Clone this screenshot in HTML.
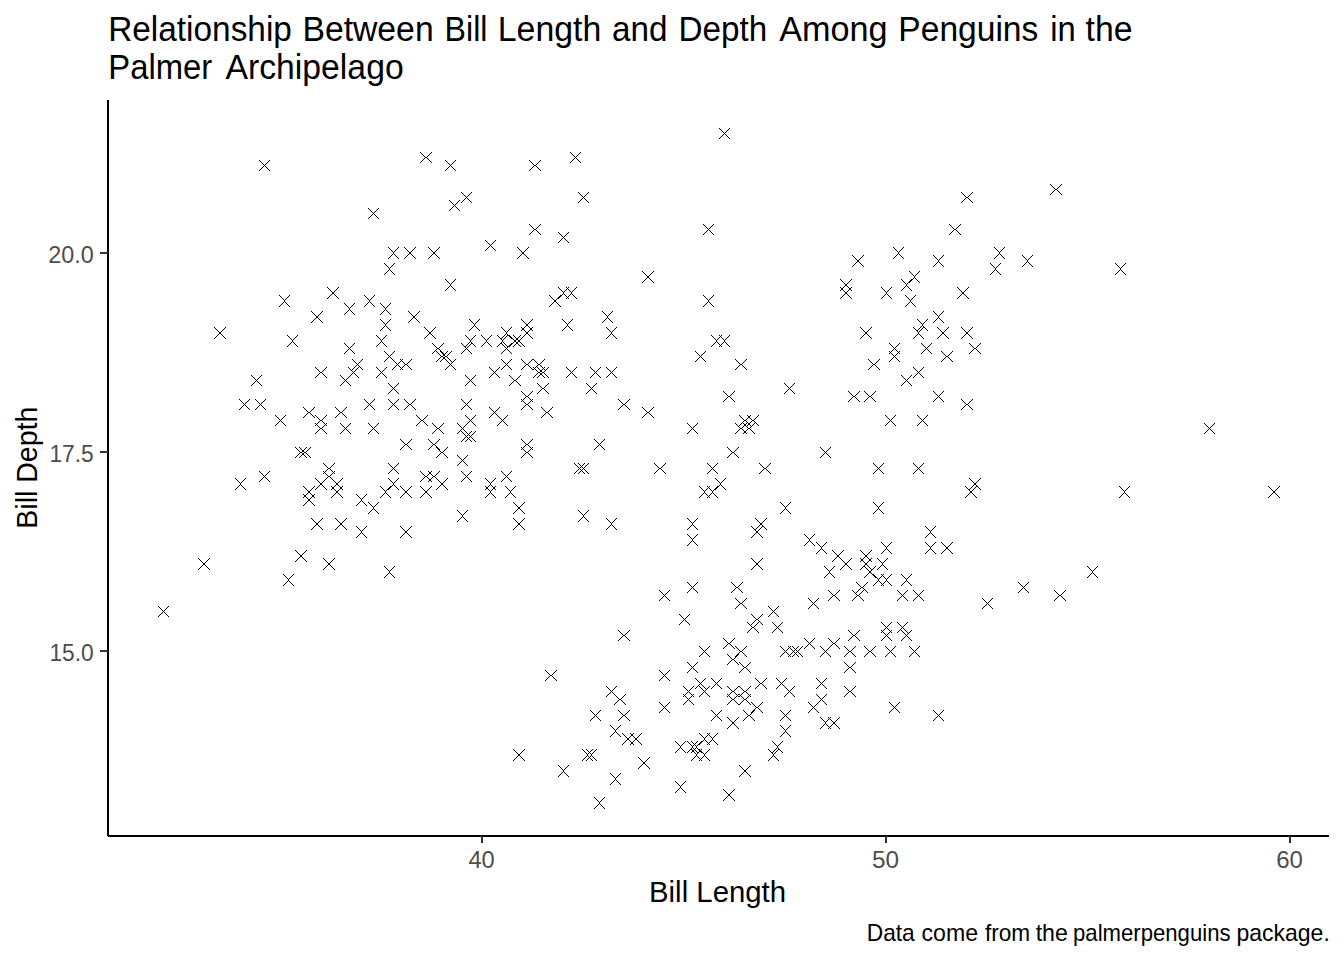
<!DOCTYPE html>
<html><head><meta charset="utf-8"><title>Penguins</title>
<style>
html,body{margin:0;padding:0;background:#fff;}
body{width:1344px;height:960px;overflow:hidden;font-family:"Liberation Sans",sans-serif;}
svg{display:block;position:absolute;left:0;top:0;}
text{font-family:"Liberation Sans",sans-serif;}
</style></head><body>
<svg width="1344" height="960" viewBox="0 0 1344 960">
<rect x="0" y="0" width="1344" height="960" fill="#fff"/>
<text x="108.19" y="41" font-size="34.67" fill="#000" textLength="183.69" lengthAdjust="spacingAndGlyphs">Relationship</text>
<text x="302.41" y="41" font-size="34.67" fill="#000" textLength="131.23" lengthAdjust="spacingAndGlyphs">Between</text>
<text x="444.62" y="41" font-size="34.67" fill="#000" textLength="42.78" lengthAdjust="spacingAndGlyphs">Bill</text>
<text x="497.76" y="41" font-size="34.67" fill="#000" textLength="103.47" lengthAdjust="spacingAndGlyphs">Length</text>
<text x="611.99" y="41" font-size="34.67" fill="#000" textLength="55.47" lengthAdjust="spacingAndGlyphs">and</text>
<text x="678.56" y="41" font-size="34.67" fill="#000" textLength="88.72" lengthAdjust="spacingAndGlyphs">Depth</text>
<text x="779.13" y="41" font-size="34.67" fill="#000" textLength="108.47" lengthAdjust="spacingAndGlyphs">Among</text>
<text x="898.34" y="41" font-size="34.67" fill="#000" textLength="139.98" lengthAdjust="spacingAndGlyphs">Penguins</text>
<text x="1050.14" y="41" font-size="34.67" fill="#000" textLength="25.52" lengthAdjust="spacingAndGlyphs">in</text>
<text x="1085.57" y="41" font-size="34.67" fill="#000" textLength="47.01" lengthAdjust="spacingAndGlyphs">the</text>
<text x="108.3" y="79" font-size="34.67" fill="#000" textLength="103.93" lengthAdjust="spacingAndGlyphs">Palmer</text>
<text x="225.43" y="79" font-size="34.67" fill="#000" textLength="178.27" lengthAdjust="spacingAndGlyphs">Archipelago</text>
<g shape-rendering="crispEdges">
<!-- axis lines -->
<rect x="107" y="100" width="2" height="736" fill="#000"/>
<rect x="108" y="835" width="1221" height="2" fill="#000"/>
<!-- x ticks -->
<rect x="481" y="836" width="2" height="7" fill="#333"/>
<rect x="885" y="836" width="2" height="7" fill="#333"/>
<rect x="1289" y="836" width="2" height="7" fill="#333"/>
<!-- y ticks -->
<rect x="100" y="252" width="8" height="2" fill="#333"/>
<rect x="100" y="451" width="8" height="2" fill="#333"/>
<rect x="100" y="650" width="8" height="2" fill="#333"/>
</g>
<text x="866.78" y="941" font-size="24.0" fill="#000" textLength="47.96" lengthAdjust="spacingAndGlyphs">Data</text>
<text x="921.54" y="941" font-size="24.0" fill="#000" textLength="56.53" lengthAdjust="spacingAndGlyphs">come</text>
<text x="984.88" y="941" font-size="24.0" fill="#000" textLength="45.3" lengthAdjust="spacingAndGlyphs">from</text>
<text x="1035.7" y="941" font-size="24.0" fill="#000" textLength="32.21" lengthAdjust="spacingAndGlyphs">the</text>
<text x="1073.06" y="941" font-size="24.0" fill="#000" textLength="157.48" lengthAdjust="spacingAndGlyphs">palmerpenguins</text>
<text x="1236.46" y="941" font-size="24.0" fill="#000" textLength="93.35" lengthAdjust="spacingAndGlyphs">package.</text>
<text x="48.26" y="263" font-size="24.0" fill="#4d4d4d" textLength="45.47" lengthAdjust="spacingAndGlyphs">20.0</text>
<text x="49.42" y="462" font-size="24.0" fill="#4d4d4d" textLength="44.24" lengthAdjust="spacingAndGlyphs">17.5</text>
<text x="49.45" y="661" font-size="24.0" fill="#4d4d4d" textLength="44.2" lengthAdjust="spacingAndGlyphs">15.0</text>
<text x="468.46" y="868" font-size="24.0" fill="#4d4d4d" textLength="26.3" lengthAdjust="spacingAndGlyphs">40</text>
<text x="871.97" y="868" font-size="24.0" fill="#4d4d4d" textLength="27.02" lengthAdjust="spacingAndGlyphs">50</text>
<text x="1276.16" y="868" font-size="24.0" fill="#4d4d4d" textLength="26.76" lengthAdjust="spacingAndGlyphs">60</text>
<text x="649.02" y="902" font-size="29.33" fill="#000" textLength="137.1" lengthAdjust="spacingAndGlyphs">Bill Length</text>
<text transform="translate(37.0,467.7) rotate(-90)" x="-61.0" y="0" font-size="29.33" fill="#000" textLength="122.0" lengthAdjust="spacingAndGlyphs">Bill Depth</text>
<path fill="#000" shape-rendering="crispEdges" d="M719 128h1v1h-1zM729 128h1v1h-1zM720 129h1v1h-1zM728 129h1v1h-1zM721 130h1v1h-1zM727 130h1v1h-1zM722 131h1v1h-1zM726 131h1v1h-1zM723 132h1v1h-1zM725 132h1v1h-1zM724 133h1v1h-1zM723 134h1v1h-1zM725 134h1v1h-1zM722 135h1v1h-1zM726 135h1v1h-1zM721 136h1v1h-1zM727 136h1v1h-1zM720 137h1v1h-1zM728 137h1v1h-1zM719 138h1v1h-1zM729 138h1v1h-1zM420 152h1v1h-1zM431 152h1v1h-1zM570 152h1v1h-1zM580 152h1v1h-1zM421 153h1v1h-1zM430 153h1v1h-1zM571 153h1v1h-1zM579 153h1v1h-1zM422 154h1v1h-1zM429 154h1v1h-1zM572 154h1v1h-1zM578 154h1v1h-1zM423 155h1v1h-1zM428 155h1v1h-1zM573 155h1v1h-1zM577 155h1v1h-1zM424 156h1v1h-1zM427 156h1v1h-1zM574 156h1v1h-1zM576 156h1v1h-1zM425 157h2v1h-2zM575 157h1v1h-1zM424 158h1v1h-1zM427 158h1v1h-1zM574 158h1v1h-1zM576 158h1v1h-1zM423 159h1v1h-1zM428 159h1v1h-1zM573 159h1v1h-1zM577 159h1v1h-1zM259 160h1v1h-1zM269 160h1v1h-1zM422 160h1v1h-1zM429 160h1v1h-1zM445 160h1v1h-1zM455 160h1v1h-1zM529 160h1v1h-1zM540 160h1v1h-1zM572 160h1v1h-1zM578 160h1v1h-1zM260 161h1v1h-1zM268 161h1v1h-1zM421 161h1v1h-1zM430 161h1v1h-1zM446 161h1v1h-1zM454 161h1v1h-1zM530 161h1v1h-1zM539 161h1v1h-1zM571 161h1v1h-1zM579 161h1v1h-1zM261 162h1v1h-1zM267 162h1v1h-1zM420 162h1v1h-1zM431 162h1v1h-1zM447 162h1v1h-1zM453 162h1v1h-1zM531 162h1v1h-1zM538 162h1v1h-1zM570 162h1v1h-1zM580 162h1v1h-1zM262 163h1v1h-1zM266 163h1v1h-1zM448 163h1v1h-1zM452 163h1v1h-1zM532 163h1v1h-1zM537 163h1v1h-1zM263 164h1v1h-1zM265 164h1v1h-1zM449 164h1v1h-1zM451 164h1v1h-1zM533 164h1v1h-1zM536 164h1v1h-1zM264 165h1v1h-1zM450 165h1v1h-1zM534 165h2v1h-2zM263 166h1v1h-1zM265 166h1v1h-1zM449 166h1v1h-1zM451 166h1v1h-1zM533 166h1v1h-1zM536 166h1v1h-1zM262 167h1v1h-1zM266 167h1v1h-1zM448 167h1v1h-1zM452 167h1v1h-1zM532 167h1v1h-1zM537 167h1v1h-1zM261 168h1v1h-1zM267 168h1v1h-1zM447 168h1v1h-1zM453 168h1v1h-1zM531 168h1v1h-1zM538 168h1v1h-1zM260 169h1v1h-1zM268 169h1v1h-1zM446 169h1v1h-1zM454 169h1v1h-1zM530 169h1v1h-1zM539 169h1v1h-1zM259 170h1v1h-1zM269 170h1v1h-1zM445 170h1v1h-1zM455 170h1v1h-1zM529 170h1v1h-1zM540 170h1v1h-1zM1050 184h1v1h-1zM1061 184h1v1h-1zM1051 185h1v1h-1zM1060 185h1v1h-1zM1052 186h1v1h-1zM1059 186h1v1h-1zM1053 187h1v1h-1zM1058 187h1v1h-1zM1054 188h1v1h-1zM1057 188h1v1h-1zM1055 189h2v1h-2zM1054 190h1v1h-1zM1057 190h1v1h-1zM1053 191h1v1h-1zM1058 191h1v1h-1zM461 192h1v1h-1zM471 192h1v1h-1zM578 192h1v1h-1zM588 192h1v1h-1zM961 192h1v1h-1zM972 192h1v1h-1zM1052 192h1v1h-1zM1059 192h1v1h-1zM462 193h1v1h-1zM470 193h1v1h-1zM579 193h1v1h-1zM587 193h1v1h-1zM962 193h1v1h-1zM971 193h1v1h-1zM1051 193h1v1h-1zM1060 193h1v1h-1zM463 194h1v1h-1zM469 194h1v1h-1zM580 194h1v1h-1zM586 194h1v1h-1zM963 194h1v1h-1zM970 194h1v1h-1zM1050 194h1v1h-1zM1061 194h1v1h-1zM464 195h1v1h-1zM468 195h1v1h-1zM581 195h1v1h-1zM585 195h1v1h-1zM964 195h1v1h-1zM969 195h1v1h-1zM465 196h1v1h-1zM467 196h1v1h-1zM582 196h1v1h-1zM584 196h1v1h-1zM965 196h1v1h-1zM968 196h1v1h-1zM466 197h1v1h-1zM583 197h1v1h-1zM966 197h2v1h-2zM465 198h1v1h-1zM467 198h1v1h-1zM582 198h1v1h-1zM584 198h1v1h-1zM965 198h1v1h-1zM968 198h1v1h-1zM464 199h1v1h-1zM468 199h1v1h-1zM581 199h1v1h-1zM585 199h1v1h-1zM964 199h1v1h-1zM969 199h1v1h-1zM449 200h1v1h-1zM459 200h1v1h-1zM463 200h1v1h-1zM469 200h1v1h-1zM580 200h1v1h-1zM586 200h1v1h-1zM963 200h1v1h-1zM970 200h1v1h-1zM450 201h1v1h-1zM458 201h1v1h-1zM462 201h1v1h-1zM470 201h1v1h-1zM579 201h1v1h-1zM587 201h1v1h-1zM962 201h1v1h-1zM971 201h1v1h-1zM451 202h1v1h-1zM457 202h1v1h-1zM461 202h1v1h-1zM471 202h1v1h-1zM578 202h1v1h-1zM588 202h1v1h-1zM961 202h1v1h-1zM972 202h1v1h-1zM452 203h1v1h-1zM456 203h1v1h-1zM453 204h1v1h-1zM455 204h1v1h-1zM454 205h1v1h-1zM453 206h1v1h-1zM455 206h1v1h-1zM452 207h1v1h-1zM456 207h1v1h-1zM368 208h1v1h-1zM378 208h1v1h-1zM451 208h1v1h-1zM457 208h1v1h-1zM369 209h1v1h-1zM377 209h1v1h-1zM450 209h1v1h-1zM458 209h1v1h-1zM370 210h1v1h-1zM376 210h1v1h-1zM449 210h1v1h-1zM459 210h1v1h-1zM371 211h1v1h-1zM375 211h1v1h-1zM372 212h1v1h-1zM374 212h1v1h-1zM373 213h1v1h-1zM372 214h1v1h-1zM374 214h1v1h-1zM371 215h1v1h-1zM375 215h1v1h-1zM370 216h1v1h-1zM376 216h1v1h-1zM369 217h1v1h-1zM377 217h1v1h-1zM368 218h1v1h-1zM378 218h1v1h-1zM529 224h1v1h-1zM540 224h1v1h-1zM703 224h1v1h-1zM713 224h1v1h-1zM949 224h1v1h-1zM960 224h1v1h-1zM530 225h1v1h-1zM539 225h1v1h-1zM704 225h1v1h-1zM712 225h1v1h-1zM950 225h1v1h-1zM959 225h1v1h-1zM531 226h1v1h-1zM538 226h1v1h-1zM705 226h1v1h-1zM711 226h1v1h-1zM951 226h1v1h-1zM958 226h1v1h-1zM532 227h1v1h-1zM537 227h1v1h-1zM706 227h1v1h-1zM710 227h1v1h-1zM952 227h1v1h-1zM957 227h1v1h-1zM533 228h1v1h-1zM536 228h1v1h-1zM707 228h1v1h-1zM709 228h1v1h-1zM953 228h1v1h-1zM956 228h1v1h-1zM534 229h2v1h-2zM708 229h1v1h-1zM954 229h2v1h-2zM533 230h1v1h-1zM536 230h1v1h-1zM707 230h1v1h-1zM709 230h1v1h-1zM953 230h1v1h-1zM956 230h1v1h-1zM532 231h1v1h-1zM537 231h1v1h-1zM706 231h1v1h-1zM710 231h1v1h-1zM952 231h1v1h-1zM957 231h1v1h-1zM531 232h1v1h-1zM538 232h1v1h-1zM558 232h1v1h-1zM568 232h1v1h-1zM705 232h1v1h-1zM711 232h1v1h-1zM951 232h1v1h-1zM958 232h1v1h-1zM530 233h1v1h-1zM539 233h1v1h-1zM559 233h1v1h-1zM567 233h1v1h-1zM704 233h1v1h-1zM712 233h1v1h-1zM950 233h1v1h-1zM959 233h1v1h-1zM529 234h1v1h-1zM540 234h1v1h-1zM560 234h1v1h-1zM566 234h1v1h-1zM703 234h1v1h-1zM713 234h1v1h-1zM949 234h1v1h-1zM960 234h1v1h-1zM561 235h1v1h-1zM565 235h1v1h-1zM562 236h1v1h-1zM564 236h1v1h-1zM563 237h1v1h-1zM562 238h1v1h-1zM564 238h1v1h-1zM561 239h1v1h-1zM565 239h1v1h-1zM485 240h1v1h-1zM495 240h1v1h-1zM560 240h1v1h-1zM566 240h1v1h-1zM486 241h1v1h-1zM494 241h1v1h-1zM559 241h1v1h-1zM567 241h1v1h-1zM487 242h1v1h-1zM493 242h1v1h-1zM558 242h1v1h-1zM568 242h1v1h-1zM488 243h1v1h-1zM492 243h1v1h-1zM489 244h1v1h-1zM491 244h1v1h-1zM490 245h1v1h-1zM489 246h1v1h-1zM491 246h1v1h-1zM388 247h1v1h-1zM398 247h1v1h-1zM404 247h1v1h-1zM415 247h1v1h-1zM428 247h1v1h-1zM439 247h1v1h-1zM488 247h1v1h-1zM492 247h1v1h-1zM517 247h1v1h-1zM528 247h1v1h-1zM893 247h1v1h-1zM903 247h1v1h-1zM994 247h1v1h-1zM1004 247h1v1h-1zM389 248h1v1h-1zM397 248h1v1h-1zM405 248h1v1h-1zM414 248h1v1h-1zM429 248h1v1h-1zM438 248h1v1h-1zM487 248h1v1h-1zM493 248h1v1h-1zM518 248h1v1h-1zM527 248h1v1h-1zM894 248h1v1h-1zM902 248h1v1h-1zM995 248h1v1h-1zM1003 248h1v1h-1zM390 249h1v1h-1zM396 249h1v1h-1zM406 249h1v1h-1zM413 249h1v1h-1zM430 249h1v1h-1zM437 249h1v1h-1zM486 249h1v1h-1zM494 249h1v1h-1zM519 249h1v1h-1zM526 249h1v1h-1zM895 249h1v1h-1zM901 249h1v1h-1zM996 249h1v1h-1zM1002 249h1v1h-1zM391 250h1v1h-1zM395 250h1v1h-1zM407 250h1v1h-1zM412 250h1v1h-1zM431 250h1v1h-1zM436 250h1v1h-1zM485 250h1v1h-1zM495 250h1v1h-1zM520 250h1v1h-1zM525 250h1v1h-1zM896 250h1v1h-1zM900 250h1v1h-1zM997 250h1v1h-1zM1001 250h1v1h-1zM392 251h1v1h-1zM394 251h1v1h-1zM408 251h1v1h-1zM411 251h1v1h-1zM432 251h1v1h-1zM435 251h1v1h-1zM521 251h1v1h-1zM524 251h1v1h-1zM897 251h1v1h-1zM899 251h1v1h-1zM998 251h1v1h-1zM1000 251h1v1h-1zM393 252h1v1h-1zM409 252h2v1h-2zM433 252h2v1h-2zM522 252h2v1h-2zM898 252h1v1h-1zM999 252h1v1h-1zM393 253h1v1h-1zM409 253h2v1h-2zM433 253h2v1h-2zM522 253h2v1h-2zM898 253h1v1h-1zM999 253h1v1h-1zM392 254h1v1h-1zM394 254h1v1h-1zM408 254h1v1h-1zM411 254h1v1h-1zM432 254h1v1h-1zM435 254h1v1h-1zM521 254h1v1h-1zM524 254h1v1h-1zM897 254h1v1h-1zM899 254h1v1h-1zM998 254h1v1h-1zM1000 254h1v1h-1zM391 255h1v1h-1zM395 255h1v1h-1zM407 255h1v1h-1zM412 255h1v1h-1zM431 255h1v1h-1zM436 255h1v1h-1zM520 255h1v1h-1zM525 255h1v1h-1zM852 255h1v1h-1zM863 255h1v1h-1zM896 255h1v1h-1zM900 255h1v1h-1zM933 255h1v1h-1zM943 255h1v1h-1zM997 255h1v1h-1zM1001 255h1v1h-1zM1022 255h1v1h-1zM1032 255h1v1h-1zM390 256h1v1h-1zM396 256h1v1h-1zM406 256h1v1h-1zM413 256h1v1h-1zM430 256h1v1h-1zM437 256h1v1h-1zM519 256h1v1h-1zM526 256h1v1h-1zM853 256h1v1h-1zM862 256h1v1h-1zM895 256h1v1h-1zM901 256h1v1h-1zM934 256h1v1h-1zM942 256h1v1h-1zM996 256h1v1h-1zM1002 256h1v1h-1zM1023 256h1v1h-1zM1031 256h1v1h-1zM389 257h1v1h-1zM397 257h1v1h-1zM405 257h1v1h-1zM414 257h1v1h-1zM429 257h1v1h-1zM438 257h1v1h-1zM518 257h1v1h-1zM527 257h1v1h-1zM854 257h1v1h-1zM861 257h1v1h-1zM894 257h1v1h-1zM902 257h1v1h-1zM935 257h1v1h-1zM941 257h1v1h-1zM995 257h1v1h-1zM1003 257h1v1h-1zM1024 257h1v1h-1zM1030 257h1v1h-1zM388 258h1v1h-1zM398 258h1v1h-1zM404 258h1v1h-1zM415 258h1v1h-1zM428 258h1v1h-1zM439 258h1v1h-1zM517 258h1v1h-1zM528 258h1v1h-1zM855 258h1v1h-1zM860 258h1v1h-1zM893 258h1v1h-1zM903 258h1v1h-1zM936 258h1v1h-1zM940 258h1v1h-1zM994 258h1v1h-1zM1004 258h1v1h-1zM1025 258h1v1h-1zM1029 258h1v1h-1zM856 259h1v1h-1zM859 259h1v1h-1zM937 259h1v1h-1zM939 259h1v1h-1zM1026 259h1v1h-1zM1028 259h1v1h-1zM857 260h2v1h-2zM938 260h1v1h-1zM1027 260h1v1h-1zM857 261h2v1h-2zM938 261h1v1h-1zM1027 261h1v1h-1zM856 262h1v1h-1zM859 262h1v1h-1zM937 262h1v1h-1zM939 262h1v1h-1zM1026 262h1v1h-1zM1028 262h1v1h-1zM384 263h1v1h-1zM394 263h1v1h-1zM855 263h1v1h-1zM860 263h1v1h-1zM936 263h1v1h-1zM940 263h1v1h-1zM990 263h1v1h-1zM1000 263h1v1h-1zM1025 263h1v1h-1zM1029 263h1v1h-1zM1115 263h1v1h-1zM1125 263h1v1h-1zM385 264h1v1h-1zM393 264h1v1h-1zM854 264h1v1h-1zM861 264h1v1h-1zM935 264h1v1h-1zM941 264h1v1h-1zM991 264h1v1h-1zM999 264h1v1h-1zM1024 264h1v1h-1zM1030 264h1v1h-1zM1116 264h1v1h-1zM1124 264h1v1h-1zM386 265h1v1h-1zM392 265h1v1h-1zM853 265h1v1h-1zM862 265h1v1h-1zM934 265h1v1h-1zM942 265h1v1h-1zM992 265h1v1h-1zM998 265h1v1h-1zM1023 265h1v1h-1zM1031 265h1v1h-1zM1117 265h1v1h-1zM1123 265h1v1h-1zM387 266h1v1h-1zM391 266h1v1h-1zM852 266h1v1h-1zM863 266h1v1h-1zM933 266h1v1h-1zM943 266h1v1h-1zM993 266h1v1h-1zM997 266h1v1h-1zM1022 266h1v1h-1zM1032 266h1v1h-1zM1118 266h1v1h-1zM1122 266h1v1h-1zM388 267h1v1h-1zM390 267h1v1h-1zM994 267h1v1h-1zM996 267h1v1h-1zM1119 267h1v1h-1zM1121 267h1v1h-1zM389 268h1v1h-1zM995 268h1v1h-1zM1120 268h1v1h-1zM389 269h1v1h-1zM995 269h1v1h-1zM1120 269h1v1h-1zM388 270h1v1h-1zM390 270h1v1h-1zM994 270h1v1h-1zM996 270h1v1h-1zM1119 270h1v1h-1zM1121 270h1v1h-1zM387 271h1v1h-1zM391 271h1v1h-1zM642 271h1v1h-1zM653 271h1v1h-1zM909 271h1v1h-1zM919 271h1v1h-1zM993 271h1v1h-1zM997 271h1v1h-1zM1118 271h1v1h-1zM1122 271h1v1h-1zM386 272h1v1h-1zM392 272h1v1h-1zM643 272h1v1h-1zM652 272h1v1h-1zM910 272h1v1h-1zM918 272h1v1h-1zM992 272h1v1h-1zM998 272h1v1h-1zM1117 272h1v1h-1zM1123 272h1v1h-1zM385 273h1v1h-1zM393 273h1v1h-1zM644 273h1v1h-1zM651 273h1v1h-1zM911 273h1v1h-1zM917 273h1v1h-1zM991 273h1v1h-1zM999 273h1v1h-1zM1116 273h1v1h-1zM1124 273h1v1h-1zM384 274h1v1h-1zM394 274h1v1h-1zM645 274h1v1h-1zM650 274h1v1h-1zM912 274h1v1h-1zM916 274h1v1h-1zM990 274h1v1h-1zM1000 274h1v1h-1zM1115 274h1v1h-1zM1125 274h1v1h-1zM646 275h1v1h-1zM649 275h1v1h-1zM913 275h1v1h-1zM915 275h1v1h-1zM647 276h2v1h-2zM914 276h1v1h-1zM647 277h2v1h-2zM914 277h1v1h-1zM646 278h1v1h-1zM649 278h1v1h-1zM913 278h1v1h-1zM915 278h1v1h-1zM445 279h1v1h-1zM455 279h1v1h-1zM645 279h1v1h-1zM650 279h1v1h-1zM840 279h1v1h-1zM851 279h1v1h-1zM901 279h1v1h-1zM911 279h2v1h-2zM916 279h1v1h-1zM446 280h1v1h-1zM454 280h1v1h-1zM644 280h1v1h-1zM651 280h1v1h-1zM841 280h1v1h-1zM850 280h1v1h-1zM902 280h1v1h-1zM910 280h2v1h-2zM917 280h1v1h-1zM447 281h1v1h-1zM453 281h1v1h-1zM643 281h1v1h-1zM652 281h1v1h-1zM842 281h1v1h-1zM849 281h1v1h-1zM903 281h1v1h-1zM909 281h2v1h-2zM918 281h1v1h-1zM448 282h1v1h-1zM452 282h1v1h-1zM642 282h1v1h-1zM653 282h1v1h-1zM843 282h1v1h-1zM848 282h1v1h-1zM904 282h1v1h-1zM908 282h2v1h-2zM919 282h1v1h-1zM449 283h1v1h-1zM451 283h1v1h-1zM844 283h1v1h-1zM847 283h1v1h-1zM905 283h1v1h-1zM907 283h1v1h-1zM450 284h1v1h-1zM845 284h2v1h-2zM906 284h1v1h-1zM450 285h1v1h-1zM845 285h2v1h-2zM906 285h1v1h-1zM449 286h1v1h-1zM451 286h1v1h-1zM844 286h1v1h-1zM847 286h1v1h-1zM905 286h1v1h-1zM907 286h1v1h-1zM327 287h1v1h-1zM338 287h1v1h-1zM448 287h1v1h-1zM452 287h1v1h-1zM558 287h1v1h-1zM566 287h1v1h-1zM568 287h1v1h-1zM576 287h1v1h-1zM840 287h1v1h-1zM843 287h1v1h-1zM848 287h1v1h-1zM851 287h1v1h-1zM881 287h1v1h-1zM891 287h1v1h-1zM904 287h1v1h-1zM908 287h1v1h-1zM957 287h1v1h-1zM968 287h1v1h-1zM328 288h1v1h-1zM337 288h1v1h-1zM447 288h1v1h-1zM453 288h1v1h-1zM559 288h1v1h-1zM567 288h1v1h-1zM575 288h1v1h-1zM841 288h2v1h-2zM849 288h2v1h-2zM882 288h1v1h-1zM890 288h1v1h-1zM903 288h1v1h-1zM909 288h1v1h-1zM958 288h1v1h-1zM967 288h1v1h-1zM329 289h1v1h-1zM336 289h1v1h-1zM446 289h1v1h-1zM454 289h1v1h-1zM560 289h1v1h-1zM566 289h1v1h-1zM568 289h1v1h-1zM574 289h1v1h-1zM841 289h2v1h-2zM849 289h2v1h-2zM883 289h1v1h-1zM889 289h1v1h-1zM902 289h1v1h-1zM910 289h1v1h-1zM959 289h1v1h-1zM966 289h1v1h-1zM330 290h1v1h-1zM335 290h1v1h-1zM445 290h1v1h-1zM455 290h1v1h-1zM561 290h1v1h-1zM565 290h1v1h-1zM569 290h1v1h-1zM573 290h1v1h-1zM840 290h1v1h-1zM843 290h1v1h-1zM848 290h1v1h-1zM851 290h1v1h-1zM884 290h1v1h-1zM888 290h1v1h-1zM901 290h1v1h-1zM911 290h1v1h-1zM960 290h1v1h-1zM965 290h1v1h-1zM331 291h1v1h-1zM334 291h1v1h-1zM562 291h1v1h-1zM564 291h1v1h-1zM570 291h1v1h-1zM572 291h1v1h-1zM844 291h1v1h-1zM847 291h1v1h-1zM885 291h1v1h-1zM887 291h1v1h-1zM961 291h1v1h-1zM964 291h1v1h-1zM332 292h2v1h-2zM563 292h1v1h-1zM571 292h1v1h-1zM845 292h2v1h-2zM886 292h1v1h-1zM962 292h2v1h-2zM332 293h2v1h-2zM563 293h1v1h-1zM571 293h1v1h-1zM845 293h2v1h-2zM886 293h1v1h-1zM962 293h2v1h-2zM331 294h1v1h-1zM334 294h1v1h-1zM562 294h1v1h-1zM564 294h1v1h-1zM570 294h1v1h-1zM572 294h1v1h-1zM844 294h1v1h-1zM847 294h1v1h-1zM885 294h1v1h-1zM887 294h1v1h-1zM961 294h1v1h-1zM964 294h1v1h-1zM279 295h1v1h-1zM289 295h1v1h-1zM330 295h1v1h-1zM335 295h1v1h-1zM364 295h1v1h-1zM374 295h1v1h-1zM549 295h1v1h-1zM560 295h2v1h-2zM565 295h1v1h-1zM569 295h1v1h-1zM573 295h1v1h-1zM703 295h1v1h-1zM713 295h1v1h-1zM843 295h1v1h-1zM848 295h1v1h-1zM884 295h1v1h-1zM888 295h1v1h-1zM905 295h1v1h-1zM915 295h1v1h-1zM960 295h1v1h-1zM965 295h1v1h-1zM280 296h1v1h-1zM288 296h1v1h-1zM329 296h1v1h-1zM336 296h1v1h-1zM365 296h1v1h-1zM373 296h1v1h-1zM550 296h1v1h-1zM559 296h2v1h-2zM566 296h1v1h-1zM568 296h1v1h-1zM574 296h1v1h-1zM704 296h1v1h-1zM712 296h1v1h-1zM842 296h1v1h-1zM849 296h1v1h-1zM883 296h1v1h-1zM889 296h1v1h-1zM906 296h1v1h-1zM914 296h1v1h-1zM959 296h1v1h-1zM966 296h1v1h-1zM281 297h1v1h-1zM287 297h1v1h-1zM328 297h1v1h-1zM337 297h1v1h-1zM366 297h1v1h-1zM372 297h1v1h-1zM551 297h1v1h-1zM558 297h2v1h-2zM567 297h1v1h-1zM575 297h1v1h-1zM705 297h1v1h-1zM711 297h1v1h-1zM841 297h1v1h-1zM850 297h1v1h-1zM882 297h1v1h-1zM890 297h1v1h-1zM907 297h1v1h-1zM913 297h1v1h-1zM958 297h1v1h-1zM967 297h1v1h-1zM282 298h1v1h-1zM286 298h1v1h-1zM327 298h1v1h-1zM338 298h1v1h-1zM367 298h1v1h-1zM371 298h1v1h-1zM552 298h1v1h-1zM557 298h2v1h-2zM566 298h1v1h-1zM568 298h1v1h-1zM576 298h1v1h-1zM706 298h1v1h-1zM710 298h1v1h-1zM840 298h1v1h-1zM851 298h1v1h-1zM881 298h1v1h-1zM891 298h1v1h-1zM908 298h1v1h-1zM912 298h1v1h-1zM957 298h1v1h-1zM968 298h1v1h-1zM283 299h1v1h-1zM285 299h1v1h-1zM368 299h1v1h-1zM370 299h1v1h-1zM553 299h1v1h-1zM556 299h1v1h-1zM707 299h1v1h-1zM709 299h1v1h-1zM909 299h1v1h-1zM911 299h1v1h-1zM284 300h1v1h-1zM369 300h1v1h-1zM554 300h2v1h-2zM708 300h1v1h-1zM910 300h1v1h-1zM284 301h1v1h-1zM369 301h1v1h-1zM554 301h2v1h-2zM708 301h1v1h-1zM910 301h1v1h-1zM283 302h1v1h-1zM285 302h1v1h-1zM368 302h1v1h-1zM370 302h1v1h-1zM553 302h1v1h-1zM556 302h1v1h-1zM707 302h1v1h-1zM709 302h1v1h-1zM909 302h1v1h-1zM911 302h1v1h-1zM282 303h1v1h-1zM286 303h1v1h-1zM344 303h1v1h-1zM354 303h1v1h-1zM367 303h1v1h-1zM371 303h1v1h-1zM380 303h1v1h-1zM390 303h1v1h-1zM552 303h1v1h-1zM557 303h1v1h-1zM706 303h1v1h-1zM710 303h1v1h-1zM908 303h1v1h-1zM912 303h1v1h-1zM281 304h1v1h-1zM287 304h1v1h-1zM345 304h1v1h-1zM353 304h1v1h-1zM366 304h1v1h-1zM372 304h1v1h-1zM381 304h1v1h-1zM389 304h1v1h-1zM551 304h1v1h-1zM558 304h1v1h-1zM705 304h1v1h-1zM711 304h1v1h-1zM907 304h1v1h-1zM913 304h1v1h-1zM280 305h1v1h-1zM288 305h1v1h-1zM346 305h1v1h-1zM352 305h1v1h-1zM365 305h1v1h-1zM373 305h1v1h-1zM382 305h1v1h-1zM388 305h1v1h-1zM550 305h1v1h-1zM559 305h1v1h-1zM704 305h1v1h-1zM712 305h1v1h-1zM906 305h1v1h-1zM914 305h1v1h-1zM279 306h1v1h-1zM289 306h1v1h-1zM347 306h1v1h-1zM351 306h1v1h-1zM364 306h1v1h-1zM374 306h1v1h-1zM383 306h1v1h-1zM387 306h1v1h-1zM549 306h1v1h-1zM560 306h1v1h-1zM703 306h1v1h-1zM713 306h1v1h-1zM905 306h1v1h-1zM915 306h1v1h-1zM348 307h1v1h-1zM350 307h1v1h-1zM384 307h1v1h-1zM386 307h1v1h-1zM349 308h1v1h-1zM385 308h1v1h-1zM349 309h1v1h-1zM385 309h1v1h-1zM348 310h1v1h-1zM350 310h1v1h-1zM384 310h1v1h-1zM386 310h1v1h-1zM311 311h1v1h-1zM322 311h1v1h-1zM347 311h1v1h-1zM351 311h1v1h-1zM383 311h1v1h-1zM387 311h1v1h-1zM408 311h1v1h-1zM419 311h1v1h-1zM602 311h1v1h-1zM612 311h1v1h-1zM933 311h1v1h-1zM943 311h1v1h-1zM312 312h1v1h-1zM321 312h1v1h-1zM346 312h1v1h-1zM352 312h1v1h-1zM382 312h1v1h-1zM388 312h1v1h-1zM409 312h1v1h-1zM418 312h1v1h-1zM603 312h1v1h-1zM611 312h1v1h-1zM934 312h1v1h-1zM942 312h1v1h-1zM313 313h1v1h-1zM320 313h1v1h-1zM345 313h1v1h-1zM353 313h1v1h-1zM381 313h1v1h-1zM389 313h1v1h-1zM410 313h1v1h-1zM417 313h1v1h-1zM604 313h1v1h-1zM610 313h1v1h-1zM935 313h1v1h-1zM941 313h1v1h-1zM314 314h1v1h-1zM319 314h1v1h-1zM344 314h1v1h-1zM354 314h1v1h-1zM380 314h1v1h-1zM390 314h1v1h-1zM411 314h1v1h-1zM416 314h1v1h-1zM605 314h1v1h-1zM609 314h1v1h-1zM936 314h1v1h-1zM940 314h1v1h-1zM315 315h1v1h-1zM318 315h1v1h-1zM412 315h1v1h-1zM415 315h1v1h-1zM606 315h1v1h-1zM608 315h1v1h-1zM937 315h1v1h-1zM939 315h1v1h-1zM316 316h2v1h-2zM413 316h2v1h-2zM607 316h1v1h-1zM938 316h1v1h-1zM316 317h2v1h-2zM413 317h2v1h-2zM607 317h1v1h-1zM938 317h1v1h-1zM315 318h1v1h-1zM318 318h1v1h-1zM412 318h1v1h-1zM415 318h1v1h-1zM606 318h1v1h-1zM608 318h1v1h-1zM937 318h1v1h-1zM939 318h1v1h-1zM314 319h1v1h-1zM319 319h1v1h-1zM380 319h1v1h-1zM390 319h1v1h-1zM411 319h1v1h-1zM416 319h1v1h-1zM469 319h1v1h-1zM479 319h1v1h-1zM521 319h1v1h-1zM532 319h1v1h-1zM562 319h1v1h-1zM572 319h1v1h-1zM605 319h1v1h-1zM609 319h1v1h-1zM917 319h1v1h-1zM927 319h1v1h-1zM936 319h1v1h-1zM940 319h1v1h-1zM313 320h1v1h-1zM320 320h1v1h-1zM381 320h1v1h-1zM389 320h1v1h-1zM410 320h1v1h-1zM417 320h1v1h-1zM470 320h1v1h-1zM478 320h1v1h-1zM522 320h1v1h-1zM531 320h1v1h-1zM563 320h1v1h-1zM571 320h1v1h-1zM604 320h1v1h-1zM610 320h1v1h-1zM918 320h1v1h-1zM926 320h1v1h-1zM935 320h1v1h-1zM941 320h1v1h-1zM312 321h1v1h-1zM321 321h1v1h-1zM382 321h1v1h-1zM388 321h1v1h-1zM409 321h1v1h-1zM418 321h1v1h-1zM471 321h1v1h-1zM477 321h1v1h-1zM523 321h1v1h-1zM530 321h1v1h-1zM564 321h1v1h-1zM570 321h1v1h-1zM603 321h1v1h-1zM611 321h1v1h-1zM919 321h1v1h-1zM925 321h1v1h-1zM934 321h1v1h-1zM942 321h1v1h-1zM311 322h1v1h-1zM322 322h1v1h-1zM383 322h1v1h-1zM387 322h1v1h-1zM408 322h1v1h-1zM419 322h1v1h-1zM472 322h1v1h-1zM476 322h1v1h-1zM524 322h1v1h-1zM529 322h1v1h-1zM565 322h1v1h-1zM569 322h1v1h-1zM602 322h1v1h-1zM612 322h1v1h-1zM920 322h1v1h-1zM924 322h1v1h-1zM933 322h1v1h-1zM943 322h1v1h-1zM384 323h1v1h-1zM386 323h1v1h-1zM473 323h1v1h-1zM475 323h1v1h-1zM525 323h1v1h-1zM528 323h1v1h-1zM566 323h1v1h-1zM568 323h1v1h-1zM921 323h1v1h-1zM923 323h1v1h-1zM385 324h1v1h-1zM474 324h1v1h-1zM526 324h2v1h-2zM567 324h1v1h-1zM922 324h1v1h-1zM385 325h1v1h-1zM474 325h1v1h-1zM526 325h2v1h-2zM567 325h1v1h-1zM922 325h1v1h-1zM384 326h1v1h-1zM386 326h1v1h-1zM473 326h1v1h-1zM475 326h1v1h-1zM525 326h1v1h-1zM528 326h1v1h-1zM566 326h1v1h-1zM568 326h1v1h-1zM921 326h1v1h-1zM923 326h1v1h-1zM214 327h1v1h-1zM225 327h1v1h-1zM383 327h1v1h-1zM387 327h1v1h-1zM424 327h1v1h-1zM435 327h1v1h-1zM472 327h1v1h-1zM476 327h1v1h-1zM501 327h1v1h-1zM511 327h1v1h-1zM521 327h1v1h-1zM524 327h1v1h-1zM529 327h1v1h-1zM532 327h1v1h-1zM565 327h1v1h-1zM569 327h1v1h-1zM606 327h1v1h-1zM616 327h1v1h-1zM860 327h1v1h-1zM871 327h1v1h-1zM913 327h1v1h-1zM920 327h1v1h-1zM923 327h2v1h-2zM937 327h1v1h-1zM948 327h1v1h-1zM961 327h1v1h-1zM972 327h1v1h-1zM215 328h1v1h-1zM224 328h1v1h-1zM382 328h1v1h-1zM388 328h1v1h-1zM425 328h1v1h-1zM434 328h1v1h-1zM471 328h1v1h-1zM477 328h1v1h-1zM502 328h1v1h-1zM510 328h1v1h-1zM522 328h2v1h-2zM530 328h2v1h-2zM564 328h1v1h-1zM570 328h1v1h-1zM607 328h1v1h-1zM615 328h1v1h-1zM861 328h1v1h-1zM870 328h1v1h-1zM914 328h1v1h-1zM919 328h1v1h-1zM922 328h1v1h-1zM925 328h1v1h-1zM938 328h1v1h-1zM947 328h1v1h-1zM962 328h1v1h-1zM971 328h1v1h-1zM216 329h1v1h-1zM223 329h1v1h-1zM381 329h1v1h-1zM389 329h1v1h-1zM426 329h1v1h-1zM433 329h1v1h-1zM470 329h1v1h-1zM478 329h1v1h-1zM503 329h1v1h-1zM509 329h1v1h-1zM522 329h2v1h-2zM530 329h2v1h-2zM563 329h1v1h-1zM571 329h1v1h-1zM608 329h1v1h-1zM614 329h1v1h-1zM862 329h1v1h-1zM869 329h1v1h-1zM915 329h1v1h-1zM918 329h1v1h-1zM921 329h1v1h-1zM926 329h1v1h-1zM939 329h1v1h-1zM946 329h1v1h-1zM963 329h1v1h-1zM970 329h1v1h-1zM217 330h1v1h-1zM222 330h1v1h-1zM380 330h1v1h-1zM390 330h1v1h-1zM427 330h1v1h-1zM432 330h1v1h-1zM469 330h1v1h-1zM479 330h1v1h-1zM504 330h1v1h-1zM508 330h1v1h-1zM521 330h1v1h-1zM524 330h1v1h-1zM529 330h1v1h-1zM532 330h1v1h-1zM562 330h1v1h-1zM572 330h1v1h-1zM609 330h1v1h-1zM613 330h1v1h-1zM863 330h1v1h-1zM868 330h1v1h-1zM916 330h2v1h-2zM920 330h1v1h-1zM927 330h1v1h-1zM940 330h1v1h-1zM945 330h1v1h-1zM964 330h1v1h-1zM969 330h1v1h-1zM218 331h1v1h-1zM221 331h1v1h-1zM428 331h1v1h-1zM431 331h1v1h-1zM505 331h1v1h-1zM507 331h1v1h-1zM525 331h1v1h-1zM528 331h1v1h-1zM610 331h1v1h-1zM612 331h1v1h-1zM864 331h1v1h-1zM867 331h1v1h-1zM917 331h1v1h-1zM919 331h1v1h-1zM941 331h1v1h-1zM944 331h1v1h-1zM965 331h1v1h-1zM968 331h1v1h-1zM219 332h2v1h-2zM429 332h2v1h-2zM506 332h1v1h-1zM526 332h2v1h-2zM611 332h1v1h-1zM865 332h2v1h-2zM918 332h1v1h-1zM942 332h2v1h-2zM966 332h2v1h-2zM219 333h2v1h-2zM429 333h2v1h-2zM506 333h1v1h-1zM526 333h2v1h-2zM611 333h1v1h-1zM865 333h2v1h-2zM918 333h1v1h-1zM942 333h2v1h-2zM966 333h2v1h-2zM218 334h1v1h-1zM221 334h1v1h-1zM428 334h1v1h-1zM431 334h1v1h-1zM505 334h1v1h-1zM507 334h1v1h-1zM525 334h1v1h-1zM528 334h1v1h-1zM610 334h1v1h-1zM612 334h1v1h-1zM864 334h1v1h-1zM867 334h1v1h-1zM917 334h1v1h-1zM919 334h1v1h-1zM941 334h1v1h-1zM944 334h1v1h-1zM965 334h1v1h-1zM968 334h1v1h-1zM217 335h1v1h-1zM222 335h1v1h-1zM287 335h1v1h-1zM297 335h1v1h-1zM376 335h1v1h-1zM386 335h1v1h-1zM427 335h1v1h-1zM432 335h1v1h-1zM465 335h1v1h-1zM475 335h1v1h-1zM481 335h1v1h-1zM491 335h1v1h-1zM497 335h1v1h-1zM504 335h1v1h-1zM507 335h3v1h-3zM513 335h1v1h-1zM520 335h1v1h-1zM524 335h1v1h-1zM529 335h1v1h-1zM609 335h1v1h-1zM613 335h1v1h-1zM711 335h1v1h-1zM719 335h1v1h-1zM721 335h1v1h-1zM729 335h1v1h-1zM863 335h1v1h-1zM868 335h1v1h-1zM916 335h1v1h-1zM920 335h1v1h-1zM940 335h1v1h-1zM945 335h1v1h-1zM964 335h1v1h-1zM969 335h1v1h-1zM216 336h1v1h-1zM223 336h1v1h-1zM288 336h1v1h-1zM296 336h1v1h-1zM377 336h1v1h-1zM385 336h1v1h-1zM426 336h1v1h-1zM433 336h1v1h-1zM466 336h1v1h-1zM474 336h1v1h-1zM482 336h1v1h-1zM490 336h1v1h-1zM498 336h1v1h-1zM503 336h1v1h-1zM506 336h1v1h-1zM509 336h2v1h-2zM514 336h1v1h-1zM519 336h1v1h-1zM523 336h1v1h-1zM530 336h1v1h-1zM608 336h1v1h-1zM614 336h1v1h-1zM712 336h1v1h-1zM720 336h1v1h-1zM728 336h1v1h-1zM862 336h1v1h-1zM869 336h1v1h-1zM915 336h1v1h-1zM921 336h1v1h-1zM939 336h1v1h-1zM946 336h1v1h-1zM963 336h1v1h-1zM970 336h1v1h-1zM215 337h1v1h-1zM224 337h1v1h-1zM289 337h1v1h-1zM295 337h1v1h-1zM378 337h1v1h-1zM384 337h1v1h-1zM425 337h1v1h-1zM434 337h1v1h-1zM467 337h1v1h-1zM473 337h1v1h-1zM483 337h1v1h-1zM489 337h1v1h-1zM499 337h1v1h-1zM502 337h1v1h-1zM505 337h1v1h-1zM510 337h2v1h-2zM515 337h1v1h-1zM518 337h1v1h-1zM522 337h1v1h-1zM531 337h1v1h-1zM607 337h1v1h-1zM615 337h1v1h-1zM713 337h1v1h-1zM719 337h1v1h-1zM721 337h1v1h-1zM727 337h1v1h-1zM861 337h1v1h-1zM870 337h1v1h-1zM914 337h1v1h-1zM922 337h1v1h-1zM938 337h1v1h-1zM947 337h1v1h-1zM962 337h1v1h-1zM971 337h1v1h-1zM214 338h1v1h-1zM225 338h1v1h-1zM290 338h1v1h-1zM294 338h1v1h-1zM379 338h1v1h-1zM383 338h1v1h-1zM424 338h1v1h-1zM435 338h1v1h-1zM468 338h1v1h-1zM472 338h1v1h-1zM484 338h1v1h-1zM488 338h1v1h-1zM500 338h2v1h-2zM504 338h1v1h-1zM511 338h2v1h-2zM516 338h2v1h-2zM521 338h1v1h-1zM532 338h1v1h-1zM606 338h1v1h-1zM616 338h1v1h-1zM714 338h1v1h-1zM718 338h1v1h-1zM722 338h1v1h-1zM726 338h1v1h-1zM860 338h1v1h-1zM871 338h1v1h-1zM913 338h1v1h-1zM923 338h1v1h-1zM937 338h1v1h-1zM948 338h1v1h-1zM961 338h1v1h-1zM972 338h1v1h-1zM291 339h1v1h-1zM293 339h1v1h-1zM380 339h1v1h-1zM382 339h1v1h-1zM469 339h1v1h-1zM471 339h1v1h-1zM485 339h1v1h-1zM487 339h1v1h-1zM501 339h1v1h-1zM503 339h1v1h-1zM513 339h1v1h-1zM516 339h2v1h-2zM520 339h1v1h-1zM715 339h1v1h-1zM717 339h1v1h-1zM723 339h1v1h-1zM725 339h1v1h-1zM292 340h1v1h-1zM381 340h1v1h-1zM470 340h1v1h-1zM486 340h1v1h-1zM502 340h1v1h-1zM514 340h2v1h-2zM518 340h2v1h-2zM716 340h1v1h-1zM724 340h1v1h-1zM292 341h1v1h-1zM381 341h1v1h-1zM470 341h1v1h-1zM486 341h1v1h-1zM502 341h1v1h-1zM514 341h2v1h-2zM518 341h2v1h-2zM716 341h1v1h-1zM724 341h1v1h-1zM291 342h1v1h-1zM293 342h1v1h-1zM380 342h1v1h-1zM382 342h1v1h-1zM469 342h1v1h-1zM471 342h1v1h-1zM485 342h1v1h-1zM487 342h1v1h-1zM501 342h1v1h-1zM503 342h1v1h-1zM513 342h1v1h-1zM516 342h2v1h-2zM520 342h1v1h-1zM715 342h1v1h-1zM717 342h1v1h-1zM723 342h1v1h-1zM725 342h1v1h-1zM290 343h1v1h-1zM294 343h1v1h-1zM344 343h1v1h-1zM354 343h1v1h-1zM379 343h1v1h-1zM383 343h1v1h-1zM432 343h1v1h-1zM443 343h1v1h-1zM461 343h1v1h-1zM468 343h1v1h-1zM471 343h2v1h-2zM484 343h1v1h-1zM488 343h1v1h-1zM500 343h2v1h-2zM504 343h1v1h-1zM511 343h2v1h-2zM516 343h2v1h-2zM521 343h1v1h-1zM714 343h1v1h-1zM718 343h1v1h-1zM722 343h1v1h-1zM726 343h1v1h-1zM889 343h1v1h-1zM899 343h1v1h-1zM921 343h1v1h-1zM931 343h1v1h-1zM969 343h1v1h-1zM980 343h1v1h-1zM289 344h1v1h-1zM295 344h1v1h-1zM345 344h1v1h-1zM353 344h1v1h-1zM378 344h1v1h-1zM384 344h1v1h-1zM433 344h1v1h-1zM442 344h1v1h-1zM462 344h1v1h-1zM467 344h1v1h-1zM470 344h1v1h-1zM473 344h1v1h-1zM483 344h1v1h-1zM489 344h1v1h-1zM499 344h1v1h-1zM502 344h1v1h-1zM505 344h1v1h-1zM510 344h2v1h-2zM515 344h1v1h-1zM518 344h1v1h-1zM522 344h1v1h-1zM713 344h1v1h-1zM719 344h1v1h-1zM721 344h1v1h-1zM727 344h1v1h-1zM890 344h1v1h-1zM898 344h1v1h-1zM922 344h1v1h-1zM930 344h1v1h-1zM970 344h1v1h-1zM979 344h1v1h-1zM288 345h1v1h-1zM296 345h1v1h-1zM346 345h1v1h-1zM352 345h1v1h-1zM377 345h1v1h-1zM385 345h1v1h-1zM434 345h1v1h-1zM441 345h1v1h-1zM463 345h1v1h-1zM466 345h1v1h-1zM469 345h1v1h-1zM474 345h1v1h-1zM482 345h1v1h-1zM490 345h1v1h-1zM498 345h1v1h-1zM503 345h1v1h-1zM506 345h1v1h-1zM509 345h2v1h-2zM514 345h1v1h-1zM519 345h1v1h-1zM523 345h1v1h-1zM712 345h1v1h-1zM720 345h1v1h-1zM728 345h1v1h-1zM891 345h1v1h-1zM897 345h1v1h-1zM923 345h1v1h-1zM929 345h1v1h-1zM971 345h1v1h-1zM978 345h1v1h-1zM287 346h1v1h-1zM297 346h1v1h-1zM347 346h1v1h-1zM351 346h1v1h-1zM376 346h1v1h-1zM386 346h1v1h-1zM435 346h1v1h-1zM440 346h1v1h-1zM464 346h2v1h-2zM468 346h1v1h-1zM475 346h1v1h-1zM481 346h1v1h-1zM491 346h1v1h-1zM497 346h1v1h-1zM504 346h1v1h-1zM507 346h3v1h-3zM513 346h1v1h-1zM520 346h1v1h-1zM524 346h1v1h-1zM711 346h1v1h-1zM719 346h1v1h-1zM721 346h1v1h-1zM729 346h1v1h-1zM892 346h1v1h-1zM896 346h1v1h-1zM924 346h1v1h-1zM928 346h1v1h-1zM972 346h1v1h-1zM977 346h1v1h-1zM348 347h1v1h-1zM350 347h1v1h-1zM436 347h1v1h-1zM439 347h1v1h-1zM465 347h1v1h-1zM467 347h1v1h-1zM505 347h1v1h-1zM507 347h1v1h-1zM893 347h1v1h-1zM895 347h1v1h-1zM925 347h1v1h-1zM927 347h1v1h-1zM973 347h1v1h-1zM976 347h1v1h-1zM349 348h1v1h-1zM437 348h2v1h-2zM466 348h1v1h-1zM506 348h1v1h-1zM894 348h1v1h-1zM926 348h1v1h-1zM974 348h2v1h-2zM348 349h1v1h-1zM350 349h1v1h-1zM436 349h1v1h-1zM439 349h1v1h-1zM465 349h1v1h-1zM467 349h1v1h-1zM505 349h1v1h-1zM507 349h1v1h-1zM893 349h1v1h-1zM895 349h1v1h-1zM925 349h1v1h-1zM927 349h1v1h-1zM973 349h1v1h-1zM976 349h1v1h-1zM347 350h1v1h-1zM351 350h1v1h-1zM435 350h1v1h-1zM440 350h1v1h-1zM464 350h1v1h-1zM468 350h1v1h-1zM504 350h1v1h-1zM508 350h1v1h-1zM892 350h1v1h-1zM896 350h1v1h-1zM924 350h1v1h-1zM928 350h1v1h-1zM972 350h1v1h-1zM977 350h1v1h-1zM346 351h1v1h-1zM352 351h1v1h-1zM384 351h1v1h-1zM394 351h1v1h-1zM434 351h1v1h-1zM436 351h1v1h-1zM440 351h2v1h-2zM447 351h1v1h-1zM451 351h1v1h-1zM463 351h1v1h-1zM469 351h1v1h-1zM503 351h1v1h-1zM509 351h1v1h-1zM695 351h1v1h-1zM705 351h1v1h-1zM889 351h1v1h-1zM891 351h1v1h-1zM897 351h1v1h-1zM899 351h1v1h-1zM923 351h1v1h-1zM929 351h1v1h-1zM941 351h1v1h-1zM952 351h1v1h-1zM971 351h1v1h-1zM978 351h1v1h-1zM345 352h1v1h-1zM353 352h1v1h-1zM385 352h1v1h-1zM393 352h1v1h-1zM433 352h1v1h-1zM437 352h1v1h-1zM441 352h2v1h-2zM446 352h1v1h-1zM450 352h1v1h-1zM462 352h1v1h-1zM470 352h1v1h-1zM502 352h1v1h-1zM510 352h1v1h-1zM696 352h1v1h-1zM704 352h1v1h-1zM890 352h1v1h-1zM898 352h1v1h-1zM922 352h1v1h-1zM930 352h1v1h-1zM942 352h1v1h-1zM951 352h1v1h-1zM970 352h1v1h-1zM979 352h1v1h-1zM344 353h1v1h-1zM354 353h1v1h-1zM386 353h1v1h-1zM392 353h1v1h-1zM432 353h1v1h-1zM438 353h1v1h-1zM442 353h2v1h-2zM445 353h1v1h-1zM449 353h1v1h-1zM461 353h1v1h-1zM471 353h1v1h-1zM501 353h1v1h-1zM511 353h1v1h-1zM697 353h1v1h-1zM703 353h1v1h-1zM889 353h1v1h-1zM891 353h1v1h-1zM897 353h1v1h-1zM899 353h1v1h-1zM921 353h1v1h-1zM931 353h1v1h-1zM943 353h1v1h-1zM950 353h1v1h-1zM969 353h1v1h-1zM980 353h1v1h-1zM387 354h1v1h-1zM391 354h1v1h-1zM439 354h1v1h-1zM443 354h2v1h-2zM448 354h1v1h-1zM698 354h1v1h-1zM702 354h1v1h-1zM892 354h1v1h-1zM896 354h1v1h-1zM944 354h1v1h-1zM949 354h1v1h-1zM388 355h1v1h-1zM390 355h1v1h-1zM440 355h1v1h-1zM443 355h2v1h-2zM447 355h1v1h-1zM699 355h1v1h-1zM701 355h1v1h-1zM893 355h1v1h-1zM895 355h1v1h-1zM945 355h1v1h-1zM948 355h1v1h-1zM389 356h1v1h-1zM441 356h2v1h-2zM445 356h2v1h-2zM700 356h1v1h-1zM894 356h1v1h-1zM946 356h2v1h-2zM388 357h1v1h-1zM390 357h1v1h-1zM440 357h1v1h-1zM443 357h2v1h-2zM447 357h1v1h-1zM699 357h1v1h-1zM701 357h1v1h-1zM893 357h1v1h-1zM895 357h1v1h-1zM945 357h1v1h-1zM948 357h1v1h-1zM387 358h1v1h-1zM391 358h1v1h-1zM439 358h1v1h-1zM443 358h2v1h-2zM448 358h1v1h-1zM698 358h1v1h-1zM702 358h1v1h-1zM892 358h1v1h-1zM896 358h1v1h-1zM944 358h1v1h-1zM949 358h1v1h-1zM352 359h1v1h-1zM362 359h1v1h-1zM386 359h1v1h-1zM392 359h1v1h-1zM400 359h1v1h-1zM402 359h1v1h-1zM411 359h1v1h-1zM438 359h1v1h-1zM442 359h1v1h-1zM445 359h1v1h-1zM449 359h1v1h-1zM455 359h1v1h-1zM501 359h1v1h-1zM511 359h1v1h-1zM521 359h1v1h-1zM532 359h2v1h-2zM544 359h1v1h-1zM697 359h1v1h-1zM703 359h1v1h-1zM735 359h1v1h-1zM746 359h1v1h-1zM868 359h1v1h-1zM879 359h1v1h-1zM891 359h1v1h-1zM897 359h1v1h-1zM943 359h1v1h-1zM950 359h1v1h-1zM353 360h1v1h-1zM361 360h1v1h-1zM385 360h1v1h-1zM393 360h1v1h-1zM401 360h1v1h-1zM410 360h1v1h-1zM437 360h1v1h-1zM441 360h1v1h-1zM446 360h1v1h-1zM450 360h1v1h-1zM454 360h1v1h-1zM502 360h1v1h-1zM510 360h1v1h-1zM522 360h1v1h-1zM531 360h1v1h-1zM534 360h1v1h-1zM543 360h1v1h-1zM696 360h1v1h-1zM704 360h1v1h-1zM736 360h1v1h-1zM745 360h1v1h-1zM869 360h1v1h-1zM878 360h1v1h-1zM890 360h1v1h-1zM898 360h1v1h-1zM942 360h1v1h-1zM951 360h1v1h-1zM354 361h1v1h-1zM360 361h1v1h-1zM384 361h1v1h-1zM394 361h1v1h-1zM400 361h1v1h-1zM402 361h1v1h-1zM409 361h1v1h-1zM436 361h1v1h-1zM440 361h1v1h-1zM447 361h1v1h-1zM451 361h1v1h-1zM453 361h1v1h-1zM503 361h1v1h-1zM509 361h1v1h-1zM523 361h1v1h-1zM530 361h1v1h-1zM535 361h1v1h-1zM542 361h1v1h-1zM695 361h1v1h-1zM705 361h1v1h-1zM737 361h1v1h-1zM744 361h1v1h-1zM870 361h1v1h-1zM877 361h1v1h-1zM889 361h1v1h-1zM899 361h1v1h-1zM941 361h1v1h-1zM952 361h1v1h-1zM355 362h1v1h-1zM359 362h1v1h-1zM395 362h1v1h-1zM399 362h1v1h-1zM403 362h1v1h-1zM408 362h1v1h-1zM448 362h1v1h-1zM452 362h1v1h-1zM504 362h1v1h-1zM508 362h1v1h-1zM524 362h1v1h-1zM529 362h1v1h-1zM536 362h1v1h-1zM541 362h1v1h-1zM738 362h1v1h-1zM743 362h1v1h-1zM871 362h1v1h-1zM876 362h1v1h-1zM356 363h1v1h-1zM358 363h1v1h-1zM396 363h1v1h-1zM398 363h1v1h-1zM404 363h1v1h-1zM407 363h1v1h-1zM449 363h1v1h-1zM451 363h1v1h-1zM505 363h1v1h-1zM507 363h1v1h-1zM525 363h1v1h-1zM528 363h1v1h-1zM537 363h1v1h-1zM540 363h1v1h-1zM739 363h1v1h-1zM742 363h1v1h-1zM872 363h1v1h-1zM875 363h1v1h-1zM357 364h1v1h-1zM397 364h1v1h-1zM405 364h2v1h-2zM450 364h1v1h-1zM506 364h1v1h-1zM526 364h2v1h-2zM538 364h2v1h-2zM740 364h2v1h-2zM873 364h2v1h-2zM356 365h1v1h-1zM358 365h1v1h-1zM396 365h1v1h-1zM398 365h1v1h-1zM404 365h1v1h-1zM407 365h1v1h-1zM449 365h1v1h-1zM451 365h1v1h-1zM505 365h1v1h-1zM507 365h1v1h-1zM525 365h1v1h-1zM528 365h1v1h-1zM537 365h1v1h-1zM540 365h1v1h-1zM739 365h1v1h-1zM742 365h1v1h-1zM872 365h1v1h-1zM875 365h1v1h-1zM355 366h1v1h-1zM359 366h1v1h-1zM395 366h1v1h-1zM399 366h1v1h-1zM403 366h1v1h-1zM408 366h1v1h-1zM448 366h1v1h-1zM452 366h1v1h-1zM504 366h1v1h-1zM508 366h1v1h-1zM524 366h1v1h-1zM529 366h1v1h-1zM536 366h1v1h-1zM541 366h1v1h-1zM738 366h1v1h-1zM743 366h1v1h-1zM871 366h1v1h-1zM876 366h1v1h-1zM315 367h1v1h-1zM326 367h1v1h-1zM348 367h1v1h-1zM354 367h1v1h-1zM358 367h1v1h-1zM360 367h1v1h-1zM376 367h1v1h-1zM386 367h1v1h-1zM394 367h1v1h-1zM400 367h1v1h-1zM402 367h1v1h-1zM409 367h1v1h-1zM447 367h1v1h-1zM453 367h1v1h-1zM489 367h1v1h-1zM499 367h1v1h-1zM503 367h1v1h-1zM509 367h1v1h-1zM523 367h1v1h-1zM530 367h1v1h-1zM533 367h1v1h-1zM535 367h1v1h-1zM537 367h1v1h-1zM542 367h1v1h-1zM544 367h1v1h-1zM548 367h1v1h-1zM566 367h1v1h-1zM576 367h1v1h-1zM590 367h1v1h-1zM600 367h1v1h-1zM606 367h1v1h-1zM616 367h1v1h-1zM737 367h1v1h-1zM744 367h1v1h-1zM870 367h1v1h-1zM877 367h1v1h-1zM913 367h1v1h-1zM923 367h1v1h-1zM316 368h1v1h-1zM325 368h1v1h-1zM349 368h1v1h-1zM353 368h1v1h-1zM357 368h1v1h-1zM361 368h1v1h-1zM377 368h1v1h-1zM385 368h1v1h-1zM393 368h1v1h-1zM401 368h1v1h-1zM410 368h1v1h-1zM446 368h1v1h-1zM454 368h1v1h-1zM490 368h1v1h-1zM498 368h1v1h-1zM502 368h1v1h-1zM510 368h1v1h-1zM522 368h1v1h-1zM531 368h1v1h-1zM534 368h1v1h-1zM538 368h1v1h-1zM543 368h1v1h-1zM547 368h1v1h-1zM567 368h1v1h-1zM575 368h1v1h-1zM591 368h1v1h-1zM599 368h1v1h-1zM607 368h1v1h-1zM615 368h1v1h-1zM736 368h1v1h-1zM745 368h1v1h-1zM869 368h1v1h-1zM878 368h1v1h-1zM914 368h1v1h-1zM922 368h1v1h-1zM317 369h1v1h-1zM324 369h1v1h-1zM350 369h1v1h-1zM352 369h1v1h-1zM356 369h1v1h-1zM362 369h1v1h-1zM378 369h1v1h-1zM384 369h1v1h-1zM392 369h1v1h-1zM400 369h1v1h-1zM402 369h1v1h-1zM411 369h1v1h-1zM445 369h1v1h-1zM455 369h1v1h-1zM491 369h1v1h-1zM497 369h1v1h-1zM501 369h1v1h-1zM511 369h1v1h-1zM521 369h1v1h-1zM532 369h2v1h-2zM535 369h1v1h-1zM539 369h1v1h-1zM542 369h1v1h-1zM544 369h1v1h-1zM546 369h1v1h-1zM568 369h1v1h-1zM574 369h1v1h-1zM592 369h1v1h-1zM598 369h1v1h-1zM608 369h1v1h-1zM614 369h1v1h-1zM735 369h1v1h-1zM746 369h1v1h-1zM868 369h1v1h-1zM879 369h1v1h-1zM915 369h1v1h-1zM921 369h1v1h-1zM318 370h1v1h-1zM323 370h1v1h-1zM351 370h1v1h-1zM355 370h1v1h-1zM379 370h1v1h-1zM383 370h1v1h-1zM492 370h1v1h-1zM496 370h1v1h-1zM536 370h1v1h-1zM540 370h2v1h-2zM545 370h1v1h-1zM569 370h1v1h-1zM573 370h1v1h-1zM593 370h1v1h-1zM597 370h1v1h-1zM609 370h1v1h-1zM613 370h1v1h-1zM916 370h1v1h-1zM920 370h1v1h-1zM319 371h1v1h-1zM322 371h1v1h-1zM352 371h1v1h-1zM354 371h1v1h-1zM380 371h1v1h-1zM382 371h1v1h-1zM493 371h1v1h-1zM495 371h1v1h-1zM537 371h1v1h-1zM540 371h2v1h-2zM544 371h1v1h-1zM570 371h1v1h-1zM572 371h1v1h-1zM594 371h1v1h-1zM596 371h1v1h-1zM610 371h1v1h-1zM612 371h1v1h-1zM917 371h1v1h-1zM919 371h1v1h-1zM320 372h2v1h-2zM353 372h1v1h-1zM381 372h1v1h-1zM494 372h1v1h-1zM538 372h2v1h-2zM542 372h2v1h-2zM571 372h1v1h-1zM595 372h1v1h-1zM611 372h1v1h-1zM918 372h1v1h-1zM319 373h1v1h-1zM322 373h1v1h-1zM352 373h1v1h-1zM354 373h1v1h-1zM380 373h1v1h-1zM382 373h1v1h-1zM493 373h1v1h-1zM495 373h1v1h-1zM537 373h1v1h-1zM540 373h2v1h-2zM544 373h1v1h-1zM570 373h1v1h-1zM572 373h1v1h-1zM594 373h1v1h-1zM596 373h1v1h-1zM610 373h1v1h-1zM612 373h1v1h-1zM917 373h1v1h-1zM919 373h1v1h-1zM318 374h1v1h-1zM323 374h1v1h-1zM351 374h1v1h-1zM355 374h1v1h-1zM379 374h1v1h-1zM383 374h1v1h-1zM492 374h1v1h-1zM496 374h1v1h-1zM536 374h1v1h-1zM540 374h2v1h-2zM545 374h1v1h-1zM569 374h1v1h-1zM573 374h1v1h-1zM593 374h1v1h-1zM597 374h1v1h-1zM609 374h1v1h-1zM613 374h1v1h-1zM916 374h1v1h-1zM920 374h1v1h-1zM251 375h1v1h-1zM261 375h1v1h-1zM317 375h1v1h-1zM324 375h1v1h-1zM340 375h1v1h-1zM350 375h1v1h-1zM356 375h1v1h-1zM378 375h1v1h-1zM384 375h1v1h-1zM465 375h1v1h-1zM475 375h1v1h-1zM491 375h1v1h-1zM497 375h1v1h-1zM509 375h1v1h-1zM520 375h1v1h-1zM535 375h1v1h-1zM539 375h1v1h-1zM542 375h1v1h-1zM546 375h1v1h-1zM568 375h1v1h-1zM574 375h1v1h-1zM592 375h1v1h-1zM598 375h1v1h-1zM608 375h1v1h-1zM614 375h1v1h-1zM901 375h1v1h-1zM911 375h1v1h-1zM915 375h1v1h-1zM921 375h1v1h-1zM252 376h1v1h-1zM260 376h1v1h-1zM316 376h1v1h-1zM325 376h1v1h-1zM341 376h1v1h-1zM349 376h1v1h-1zM357 376h1v1h-1zM377 376h1v1h-1zM385 376h1v1h-1zM466 376h1v1h-1zM474 376h1v1h-1zM490 376h1v1h-1zM498 376h1v1h-1zM510 376h1v1h-1zM519 376h1v1h-1zM534 376h1v1h-1zM538 376h1v1h-1zM543 376h1v1h-1zM547 376h1v1h-1zM567 376h1v1h-1zM575 376h1v1h-1zM591 376h1v1h-1zM599 376h1v1h-1zM607 376h1v1h-1zM615 376h1v1h-1zM902 376h1v1h-1zM910 376h1v1h-1zM914 376h1v1h-1zM922 376h1v1h-1zM253 377h1v1h-1zM259 377h1v1h-1zM315 377h1v1h-1zM326 377h1v1h-1zM342 377h1v1h-1zM348 377h1v1h-1zM358 377h1v1h-1zM376 377h1v1h-1zM386 377h1v1h-1zM467 377h1v1h-1zM473 377h1v1h-1zM489 377h1v1h-1zM499 377h1v1h-1zM511 377h1v1h-1zM518 377h1v1h-1zM533 377h1v1h-1zM537 377h1v1h-1zM544 377h1v1h-1zM548 377h1v1h-1zM566 377h1v1h-1zM576 377h1v1h-1zM590 377h1v1h-1zM600 377h1v1h-1zM606 377h1v1h-1zM616 377h1v1h-1zM903 377h1v1h-1zM909 377h1v1h-1zM913 377h1v1h-1zM923 377h1v1h-1zM254 378h1v1h-1zM258 378h1v1h-1zM343 378h1v1h-1zM347 378h1v1h-1zM468 378h1v1h-1zM472 378h1v1h-1zM512 378h1v1h-1zM517 378h1v1h-1zM904 378h1v1h-1zM908 378h1v1h-1zM255 379h1v1h-1zM257 379h1v1h-1zM344 379h1v1h-1zM346 379h1v1h-1zM469 379h1v1h-1zM471 379h1v1h-1zM513 379h1v1h-1zM516 379h1v1h-1zM905 379h1v1h-1zM907 379h1v1h-1zM256 380h1v1h-1zM345 380h1v1h-1zM470 380h1v1h-1zM514 380h2v1h-2zM906 380h1v1h-1zM255 381h1v1h-1zM257 381h1v1h-1zM344 381h1v1h-1zM346 381h1v1h-1zM469 381h1v1h-1zM471 381h1v1h-1zM513 381h1v1h-1zM516 381h1v1h-1zM905 381h1v1h-1zM907 381h1v1h-1zM254 382h1v1h-1zM258 382h1v1h-1zM343 382h1v1h-1zM347 382h1v1h-1zM468 382h1v1h-1zM472 382h1v1h-1zM512 382h1v1h-1zM517 382h1v1h-1zM904 382h1v1h-1zM908 382h1v1h-1zM253 383h1v1h-1zM259 383h1v1h-1zM342 383h1v1h-1zM348 383h1v1h-1zM388 383h1v1h-1zM398 383h1v1h-1zM467 383h1v1h-1zM473 383h1v1h-1zM511 383h1v1h-1zM518 383h1v1h-1zM537 383h1v1h-1zM548 383h1v1h-1zM586 383h1v1h-1zM596 383h1v1h-1zM784 383h1v1h-1zM794 383h1v1h-1zM903 383h1v1h-1zM909 383h1v1h-1zM252 384h1v1h-1zM260 384h1v1h-1zM341 384h1v1h-1zM349 384h1v1h-1zM389 384h1v1h-1zM397 384h1v1h-1zM466 384h1v1h-1zM474 384h1v1h-1zM510 384h1v1h-1zM519 384h1v1h-1zM538 384h1v1h-1zM547 384h1v1h-1zM587 384h1v1h-1zM595 384h1v1h-1zM785 384h1v1h-1zM793 384h1v1h-1zM902 384h1v1h-1zM910 384h1v1h-1zM251 385h1v1h-1zM261 385h1v1h-1zM340 385h1v1h-1zM350 385h1v1h-1zM390 385h1v1h-1zM396 385h1v1h-1zM465 385h1v1h-1zM475 385h1v1h-1zM509 385h1v1h-1zM520 385h1v1h-1zM539 385h1v1h-1zM546 385h1v1h-1zM588 385h1v1h-1zM594 385h1v1h-1zM786 385h1v1h-1zM792 385h1v1h-1zM901 385h1v1h-1zM911 385h1v1h-1zM391 386h1v1h-1zM395 386h1v1h-1zM540 386h1v1h-1zM545 386h1v1h-1zM589 386h1v1h-1zM593 386h1v1h-1zM787 386h1v1h-1zM791 386h1v1h-1zM392 387h1v1h-1zM394 387h1v1h-1zM541 387h1v1h-1zM544 387h1v1h-1zM590 387h1v1h-1zM592 387h1v1h-1zM788 387h1v1h-1zM790 387h1v1h-1zM393 388h1v1h-1zM542 388h2v1h-2zM591 388h1v1h-1zM789 388h1v1h-1zM392 389h1v1h-1zM394 389h1v1h-1zM541 389h1v1h-1zM544 389h1v1h-1zM590 389h1v1h-1zM592 389h1v1h-1zM788 389h1v1h-1zM790 389h1v1h-1zM391 390h1v1h-1zM395 390h1v1h-1zM540 390h1v1h-1zM545 390h1v1h-1zM589 390h1v1h-1zM593 390h1v1h-1zM787 390h1v1h-1zM791 390h1v1h-1zM390 391h1v1h-1zM396 391h1v1h-1zM521 391h1v1h-1zM532 391h1v1h-1zM539 391h1v1h-1zM546 391h1v1h-1zM588 391h1v1h-1zM594 391h1v1h-1zM723 391h1v1h-1zM734 391h1v1h-1zM786 391h1v1h-1zM792 391h1v1h-1zM848 391h1v1h-1zM859 391h1v1h-1zM864 391h1v1h-1zM875 391h1v1h-1zM933 391h1v1h-1zM943 391h1v1h-1zM389 392h1v1h-1zM397 392h1v1h-1zM522 392h1v1h-1zM531 392h1v1h-1zM538 392h1v1h-1zM547 392h1v1h-1zM587 392h1v1h-1zM595 392h1v1h-1zM724 392h1v1h-1zM733 392h1v1h-1zM785 392h1v1h-1zM793 392h1v1h-1zM849 392h1v1h-1zM858 392h1v1h-1zM865 392h1v1h-1zM874 392h1v1h-1zM934 392h1v1h-1zM942 392h1v1h-1zM388 393h1v1h-1zM398 393h1v1h-1zM523 393h1v1h-1zM530 393h1v1h-1zM537 393h1v1h-1zM548 393h1v1h-1zM586 393h1v1h-1zM596 393h1v1h-1zM725 393h1v1h-1zM732 393h1v1h-1zM784 393h1v1h-1zM794 393h1v1h-1zM850 393h1v1h-1zM857 393h1v1h-1zM866 393h1v1h-1zM873 393h1v1h-1zM935 393h1v1h-1zM941 393h1v1h-1zM524 394h1v1h-1zM529 394h1v1h-1zM726 394h1v1h-1zM731 394h1v1h-1zM851 394h1v1h-1zM856 394h1v1h-1zM867 394h1v1h-1zM872 394h1v1h-1zM936 394h1v1h-1zM940 394h1v1h-1zM525 395h1v1h-1zM528 395h1v1h-1zM727 395h1v1h-1zM730 395h1v1h-1zM852 395h1v1h-1zM855 395h1v1h-1zM868 395h1v1h-1zM871 395h1v1h-1zM937 395h1v1h-1zM939 395h1v1h-1zM526 396h2v1h-2zM728 396h2v1h-2zM853 396h2v1h-2zM869 396h2v1h-2zM938 396h1v1h-1zM525 397h1v1h-1zM528 397h1v1h-1zM727 397h1v1h-1zM730 397h1v1h-1zM852 397h1v1h-1zM855 397h1v1h-1zM868 397h1v1h-1zM871 397h1v1h-1zM937 397h1v1h-1zM939 397h1v1h-1zM524 398h1v1h-1zM529 398h1v1h-1zM726 398h1v1h-1zM731 398h1v1h-1zM851 398h1v1h-1zM856 398h1v1h-1zM867 398h1v1h-1zM872 398h1v1h-1zM936 398h1v1h-1zM940 398h1v1h-1zM239 399h1v1h-1zM249 399h1v1h-1zM255 399h1v1h-1zM265 399h1v1h-1zM364 399h1v1h-1zM374 399h1v1h-1zM388 399h1v1h-1zM398 399h1v1h-1zM404 399h1v1h-1zM415 399h1v1h-1zM461 399h1v1h-1zM471 399h1v1h-1zM521 399h1v1h-1zM523 399h1v1h-1zM530 399h1v1h-1zM532 399h1v1h-1zM618 399h1v1h-1zM629 399h1v1h-1zM725 399h1v1h-1zM732 399h1v1h-1zM850 399h1v1h-1zM857 399h1v1h-1zM866 399h1v1h-1zM873 399h1v1h-1zM935 399h1v1h-1zM941 399h1v1h-1zM961 399h1v1h-1zM972 399h1v1h-1zM240 400h1v1h-1zM248 400h1v1h-1zM256 400h1v1h-1zM264 400h1v1h-1zM365 400h1v1h-1zM373 400h1v1h-1zM389 400h1v1h-1zM397 400h1v1h-1zM405 400h1v1h-1zM414 400h1v1h-1zM462 400h1v1h-1zM470 400h1v1h-1zM522 400h1v1h-1zM531 400h1v1h-1zM619 400h1v1h-1zM628 400h1v1h-1zM724 400h1v1h-1zM733 400h1v1h-1zM849 400h1v1h-1zM858 400h1v1h-1zM865 400h1v1h-1zM874 400h1v1h-1zM934 400h1v1h-1zM942 400h1v1h-1zM962 400h1v1h-1zM971 400h1v1h-1zM241 401h1v1h-1zM247 401h1v1h-1zM257 401h1v1h-1zM263 401h1v1h-1zM366 401h1v1h-1zM372 401h1v1h-1zM390 401h1v1h-1zM396 401h1v1h-1zM406 401h1v1h-1zM413 401h1v1h-1zM463 401h1v1h-1zM469 401h1v1h-1zM521 401h1v1h-1zM523 401h1v1h-1zM530 401h1v1h-1zM532 401h1v1h-1zM620 401h1v1h-1zM627 401h1v1h-1zM723 401h1v1h-1zM734 401h1v1h-1zM848 401h1v1h-1zM859 401h1v1h-1zM864 401h1v1h-1zM875 401h1v1h-1zM933 401h1v1h-1zM943 401h1v1h-1zM963 401h1v1h-1zM970 401h1v1h-1zM242 402h1v1h-1zM246 402h1v1h-1zM258 402h1v1h-1zM262 402h1v1h-1zM367 402h1v1h-1zM371 402h1v1h-1zM391 402h1v1h-1zM395 402h1v1h-1zM407 402h1v1h-1zM412 402h1v1h-1zM464 402h1v1h-1zM468 402h1v1h-1zM524 402h1v1h-1zM529 402h1v1h-1zM621 402h1v1h-1zM626 402h1v1h-1zM964 402h1v1h-1zM969 402h1v1h-1zM243 403h1v1h-1zM245 403h1v1h-1zM259 403h1v1h-1zM261 403h1v1h-1zM368 403h1v1h-1zM370 403h1v1h-1zM392 403h1v1h-1zM394 403h1v1h-1zM408 403h1v1h-1zM411 403h1v1h-1zM465 403h1v1h-1zM467 403h1v1h-1zM525 403h1v1h-1zM528 403h1v1h-1zM622 403h1v1h-1zM625 403h1v1h-1zM965 403h1v1h-1zM968 403h1v1h-1zM244 404h1v1h-1zM260 404h1v1h-1zM369 404h1v1h-1zM393 404h1v1h-1zM409 404h2v1h-2zM466 404h1v1h-1zM526 404h2v1h-2zM623 404h2v1h-2zM966 404h2v1h-2zM243 405h1v1h-1zM245 405h1v1h-1zM259 405h1v1h-1zM261 405h1v1h-1zM368 405h1v1h-1zM370 405h1v1h-1zM392 405h1v1h-1zM394 405h1v1h-1zM408 405h1v1h-1zM411 405h1v1h-1zM465 405h1v1h-1zM467 405h1v1h-1zM525 405h1v1h-1zM528 405h1v1h-1zM622 405h1v1h-1zM625 405h1v1h-1zM965 405h1v1h-1zM968 405h1v1h-1zM242 406h1v1h-1zM246 406h1v1h-1zM258 406h1v1h-1zM262 406h1v1h-1zM367 406h1v1h-1zM371 406h1v1h-1zM391 406h1v1h-1zM395 406h1v1h-1zM407 406h1v1h-1zM412 406h1v1h-1zM464 406h1v1h-1zM468 406h1v1h-1zM524 406h1v1h-1zM529 406h1v1h-1zM621 406h1v1h-1zM626 406h1v1h-1zM964 406h1v1h-1zM969 406h1v1h-1zM241 407h1v1h-1zM247 407h1v1h-1zM257 407h1v1h-1zM263 407h1v1h-1zM303 407h1v1h-1zM314 407h1v1h-1zM335 407h1v1h-1zM346 407h1v1h-1zM366 407h1v1h-1zM372 407h1v1h-1zM390 407h1v1h-1zM396 407h1v1h-1zM406 407h1v1h-1zM413 407h1v1h-1zM463 407h1v1h-1zM469 407h1v1h-1zM489 407h1v1h-1zM499 407h1v1h-1zM523 407h1v1h-1zM530 407h1v1h-1zM541 407h1v1h-1zM552 407h1v1h-1zM620 407h1v1h-1zM627 407h1v1h-1zM642 407h1v1h-1zM653 407h1v1h-1zM963 407h1v1h-1zM970 407h1v1h-1zM240 408h1v1h-1zM248 408h1v1h-1zM256 408h1v1h-1zM264 408h1v1h-1zM304 408h1v1h-1zM313 408h1v1h-1zM336 408h1v1h-1zM345 408h1v1h-1zM365 408h1v1h-1zM373 408h1v1h-1zM389 408h1v1h-1zM397 408h1v1h-1zM405 408h1v1h-1zM414 408h1v1h-1zM462 408h1v1h-1zM470 408h1v1h-1zM490 408h1v1h-1zM498 408h1v1h-1zM522 408h1v1h-1zM531 408h1v1h-1zM542 408h1v1h-1zM551 408h1v1h-1zM619 408h1v1h-1zM628 408h1v1h-1zM643 408h1v1h-1zM652 408h1v1h-1zM962 408h1v1h-1zM971 408h1v1h-1zM239 409h1v1h-1zM249 409h1v1h-1zM255 409h1v1h-1zM265 409h1v1h-1zM305 409h1v1h-1zM312 409h1v1h-1zM337 409h1v1h-1zM344 409h1v1h-1zM364 409h1v1h-1zM374 409h1v1h-1zM388 409h1v1h-1zM398 409h1v1h-1zM404 409h1v1h-1zM415 409h1v1h-1zM461 409h1v1h-1zM471 409h1v1h-1zM491 409h1v1h-1zM497 409h1v1h-1zM521 409h1v1h-1zM532 409h1v1h-1zM543 409h1v1h-1zM550 409h1v1h-1zM618 409h1v1h-1zM629 409h1v1h-1zM644 409h1v1h-1zM651 409h1v1h-1zM961 409h1v1h-1zM972 409h1v1h-1zM306 410h1v1h-1zM311 410h1v1h-1zM338 410h1v1h-1zM343 410h1v1h-1zM492 410h1v1h-1zM496 410h1v1h-1zM544 410h1v1h-1zM549 410h1v1h-1zM645 410h1v1h-1zM650 410h1v1h-1zM307 411h1v1h-1zM310 411h1v1h-1zM339 411h1v1h-1zM342 411h1v1h-1zM493 411h1v1h-1zM495 411h1v1h-1zM545 411h1v1h-1zM548 411h1v1h-1zM646 411h1v1h-1zM649 411h1v1h-1zM308 412h2v1h-2zM340 412h2v1h-2zM494 412h1v1h-1zM546 412h2v1h-2zM647 412h2v1h-2zM307 413h1v1h-1zM310 413h1v1h-1zM339 413h1v1h-1zM342 413h1v1h-1zM493 413h1v1h-1zM495 413h1v1h-1zM545 413h1v1h-1zM548 413h1v1h-1zM646 413h1v1h-1zM649 413h1v1h-1zM306 414h1v1h-1zM311 414h1v1h-1zM338 414h1v1h-1zM343 414h1v1h-1zM492 414h1v1h-1zM496 414h1v1h-1zM544 414h1v1h-1zM549 414h1v1h-1zM645 414h1v1h-1zM650 414h1v1h-1zM275 415h1v1h-1zM285 415h1v1h-1zM305 415h1v1h-1zM312 415h1v1h-1zM315 415h1v1h-1zM326 415h1v1h-1zM337 415h1v1h-1zM344 415h1v1h-1zM416 415h1v1h-1zM427 415h1v1h-1zM465 415h1v1h-1zM475 415h1v1h-1zM491 415h1v1h-1zM497 415h1v1h-1zM507 415h1v1h-1zM543 415h1v1h-1zM550 415h1v1h-1zM644 415h1v1h-1zM651 415h1v1h-1zM739 415h1v1h-1zM747 415h1v1h-1zM750 415h1v1h-1zM758 415h1v1h-1zM885 415h1v1h-1zM895 415h1v1h-1zM917 415h1v1h-1zM927 415h1v1h-1zM276 416h1v1h-1zM284 416h1v1h-1zM304 416h1v1h-1zM313 416h1v1h-1zM316 416h1v1h-1zM325 416h1v1h-1zM336 416h1v1h-1zM345 416h1v1h-1zM417 416h1v1h-1zM426 416h1v1h-1zM466 416h1v1h-1zM474 416h1v1h-1zM490 416h1v1h-1zM498 416h1v1h-1zM506 416h1v1h-1zM542 416h1v1h-1zM551 416h1v1h-1zM643 416h1v1h-1zM652 416h1v1h-1zM740 416h1v1h-1zM748 416h2v1h-2zM757 416h1v1h-1zM886 416h1v1h-1zM894 416h1v1h-1zM918 416h1v1h-1zM926 416h1v1h-1zM277 417h1v1h-1zM283 417h1v1h-1zM303 417h1v1h-1zM314 417h1v1h-1zM317 417h1v1h-1zM324 417h1v1h-1zM335 417h1v1h-1zM346 417h1v1h-1zM418 417h1v1h-1zM425 417h1v1h-1zM467 417h1v1h-1zM473 417h1v1h-1zM489 417h1v1h-1zM499 417h1v1h-1zM505 417h1v1h-1zM541 417h1v1h-1zM552 417h1v1h-1zM642 417h1v1h-1zM653 417h1v1h-1zM741 417h1v1h-1zM748 417h2v1h-2zM756 417h1v1h-1zM887 417h1v1h-1zM893 417h1v1h-1zM919 417h1v1h-1zM925 417h1v1h-1zM278 418h1v1h-1zM282 418h1v1h-1zM318 418h1v1h-1zM323 418h1v1h-1zM419 418h1v1h-1zM424 418h1v1h-1zM468 418h1v1h-1zM472 418h1v1h-1zM500 418h1v1h-1zM504 418h1v1h-1zM742 418h1v1h-1zM747 418h1v1h-1zM750 418h1v1h-1zM755 418h1v1h-1zM888 418h1v1h-1zM892 418h1v1h-1zM920 418h1v1h-1zM924 418h1v1h-1zM279 419h1v1h-1zM281 419h1v1h-1zM319 419h1v1h-1zM322 419h1v1h-1zM420 419h1v1h-1zM423 419h1v1h-1zM469 419h1v1h-1zM471 419h1v1h-1zM501 419h1v1h-1zM503 419h1v1h-1zM743 419h1v1h-1zM746 419h1v1h-1zM751 419h1v1h-1zM754 419h1v1h-1zM889 419h1v1h-1zM891 419h1v1h-1zM921 419h1v1h-1zM923 419h1v1h-1zM280 420h1v1h-1zM320 420h2v1h-2zM421 420h2v1h-2zM470 420h1v1h-1zM502 420h1v1h-1zM744 420h2v1h-2zM752 420h2v1h-2zM890 420h1v1h-1zM922 420h1v1h-1zM279 421h1v1h-1zM281 421h1v1h-1zM319 421h1v1h-1zM322 421h1v1h-1zM420 421h1v1h-1zM423 421h1v1h-1zM469 421h1v1h-1zM471 421h1v1h-1zM501 421h1v1h-1zM503 421h1v1h-1zM743 421h1v1h-1zM746 421h1v1h-1zM751 421h1v1h-1zM754 421h1v1h-1zM889 421h1v1h-1zM891 421h1v1h-1zM921 421h1v1h-1zM923 421h1v1h-1zM278 422h1v1h-1zM282 422h1v1h-1zM318 422h1v1h-1zM323 422h1v1h-1zM419 422h1v1h-1zM424 422h1v1h-1zM468 422h1v1h-1zM472 422h1v1h-1zM500 422h1v1h-1zM504 422h1v1h-1zM742 422h1v1h-1zM747 422h1v1h-1zM750 422h1v1h-1zM755 422h1v1h-1zM888 422h1v1h-1zM892 422h1v1h-1zM920 422h1v1h-1zM924 422h1v1h-1zM277 423h1v1h-1zM283 423h1v1h-1zM315 423h1v1h-1zM317 423h1v1h-1zM324 423h1v1h-1zM326 423h1v1h-1zM340 423h1v1h-1zM350 423h1v1h-1zM368 423h1v1h-1zM378 423h1v1h-1zM418 423h1v1h-1zM425 423h1v1h-1zM432 423h1v1h-1zM443 423h1v1h-1zM457 423h1v1h-1zM467 423h1v1h-1zM473 423h1v1h-1zM499 423h1v1h-1zM505 423h1v1h-1zM687 423h1v1h-1zM697 423h1v1h-1zM735 423h1v1h-1zM741 423h1v1h-1zM743 423h1v1h-1zM746 423h1v1h-1zM748 423h2v1h-2zM754 423h1v1h-1zM756 423h1v1h-1zM887 423h1v1h-1zM893 423h1v1h-1zM919 423h1v1h-1zM925 423h1v1h-1zM1204 423h1v1h-1zM1214 423h1v1h-1zM276 424h1v1h-1zM284 424h1v1h-1zM316 424h1v1h-1zM325 424h1v1h-1zM341 424h1v1h-1zM349 424h1v1h-1zM369 424h1v1h-1zM377 424h1v1h-1zM417 424h1v1h-1zM426 424h1v1h-1zM433 424h1v1h-1zM442 424h1v1h-1zM458 424h1v1h-1zM466 424h1v1h-1zM474 424h1v1h-1zM498 424h1v1h-1zM506 424h1v1h-1zM688 424h1v1h-1zM696 424h1v1h-1zM736 424h1v1h-1zM740 424h1v1h-1zM744 424h2v1h-2zM748 424h2v1h-2zM753 424h1v1h-1zM757 424h1v1h-1zM886 424h1v1h-1zM894 424h1v1h-1zM918 424h1v1h-1zM926 424h1v1h-1zM1205 424h1v1h-1zM1213 424h1v1h-1zM275 425h1v1h-1zM285 425h1v1h-1zM315 425h1v1h-1zM317 425h1v1h-1zM324 425h1v1h-1zM326 425h1v1h-1zM342 425h1v1h-1zM348 425h1v1h-1zM370 425h1v1h-1zM376 425h1v1h-1zM416 425h1v1h-1zM427 425h1v1h-1zM434 425h1v1h-1zM441 425h1v1h-1zM459 425h1v1h-1zM465 425h1v1h-1zM475 425h1v1h-1zM497 425h1v1h-1zM507 425h1v1h-1zM689 425h1v1h-1zM695 425h1v1h-1zM737 425h1v1h-1zM739 425h1v1h-1zM744 425h2v1h-2zM747 425h1v1h-1zM750 425h1v1h-1zM752 425h1v1h-1zM758 425h1v1h-1zM885 425h1v1h-1zM895 425h1v1h-1zM917 425h1v1h-1zM927 425h1v1h-1zM1206 425h1v1h-1zM1212 425h1v1h-1zM318 426h1v1h-1zM323 426h1v1h-1zM343 426h1v1h-1zM347 426h1v1h-1zM371 426h1v1h-1zM375 426h1v1h-1zM435 426h1v1h-1zM440 426h1v1h-1zM460 426h1v1h-1zM464 426h1v1h-1zM690 426h1v1h-1zM694 426h1v1h-1zM738 426h1v1h-1zM743 426h1v1h-1zM746 426h1v1h-1zM751 426h1v1h-1zM1207 426h1v1h-1zM1211 426h1v1h-1zM319 427h1v1h-1zM322 427h1v1h-1zM344 427h1v1h-1zM346 427h1v1h-1zM372 427h1v1h-1zM374 427h1v1h-1zM436 427h1v1h-1zM439 427h1v1h-1zM461 427h1v1h-1zM463 427h1v1h-1zM691 427h1v1h-1zM693 427h1v1h-1zM739 427h1v1h-1zM742 427h1v1h-1zM747 427h1v1h-1zM750 427h1v1h-1zM1208 427h1v1h-1zM1210 427h1v1h-1zM320 428h2v1h-2zM345 428h1v1h-1zM373 428h1v1h-1zM437 428h2v1h-2zM462 428h1v1h-1zM692 428h1v1h-1zM740 428h2v1h-2zM748 428h2v1h-2zM1209 428h1v1h-1zM319 429h1v1h-1zM322 429h1v1h-1zM344 429h1v1h-1zM346 429h1v1h-1zM372 429h1v1h-1zM374 429h1v1h-1zM436 429h1v1h-1zM439 429h1v1h-1zM461 429h1v1h-1zM463 429h1v1h-1zM691 429h1v1h-1zM693 429h1v1h-1zM739 429h1v1h-1zM742 429h1v1h-1zM747 429h1v1h-1zM750 429h1v1h-1zM1208 429h1v1h-1zM1210 429h1v1h-1zM318 430h1v1h-1zM323 430h1v1h-1zM343 430h1v1h-1zM347 430h1v1h-1zM371 430h1v1h-1zM375 430h1v1h-1zM435 430h1v1h-1zM440 430h1v1h-1zM460 430h1v1h-1zM464 430h1v1h-1zM690 430h1v1h-1zM694 430h1v1h-1zM738 430h1v1h-1zM743 430h1v1h-1zM746 430h1v1h-1zM751 430h1v1h-1zM1207 430h1v1h-1zM1211 430h1v1h-1zM317 431h1v1h-1zM324 431h1v1h-1zM342 431h1v1h-1zM348 431h1v1h-1zM370 431h1v1h-1zM376 431h1v1h-1zM434 431h1v1h-1zM441 431h1v1h-1zM459 431h1v1h-1zM461 431h1v1h-1zM465 431h1v1h-1zM471 431h1v1h-1zM475 431h1v1h-1zM689 431h1v1h-1zM695 431h1v1h-1zM737 431h1v1h-1zM744 431h2v1h-2zM752 431h1v1h-1zM1206 431h1v1h-1zM1212 431h1v1h-1zM316 432h1v1h-1zM325 432h1v1h-1zM341 432h1v1h-1zM349 432h1v1h-1zM369 432h1v1h-1zM377 432h1v1h-1zM433 432h1v1h-1zM442 432h1v1h-1zM458 432h1v1h-1zM462 432h1v1h-1zM466 432h1v1h-1zM470 432h1v1h-1zM474 432h1v1h-1zM688 432h1v1h-1zM696 432h1v1h-1zM736 432h1v1h-1zM744 432h2v1h-2zM753 432h1v1h-1zM1205 432h1v1h-1zM1213 432h1v1h-1zM315 433h1v1h-1zM326 433h1v1h-1zM340 433h1v1h-1zM350 433h1v1h-1zM368 433h1v1h-1zM378 433h1v1h-1zM432 433h1v1h-1zM443 433h1v1h-1zM457 433h1v1h-1zM463 433h1v1h-1zM467 433h1v1h-1zM469 433h1v1h-1zM473 433h1v1h-1zM687 433h1v1h-1zM697 433h1v1h-1zM735 433h1v1h-1zM743 433h1v1h-1zM746 433h1v1h-1zM754 433h1v1h-1zM1204 433h1v1h-1zM1214 433h1v1h-1zM464 434h1v1h-1zM468 434h1v1h-1zM472 434h1v1h-1zM465 435h1v1h-1zM467 435h1v1h-1zM469 435h1v1h-1zM471 435h1v1h-1zM466 436h1v1h-1zM470 436h1v1h-1zM465 437h1v1h-1zM467 437h1v1h-1zM469 437h1v1h-1zM471 437h1v1h-1zM464 438h1v1h-1zM468 438h1v1h-1zM472 438h1v1h-1zM400 439h1v1h-1zM411 439h1v1h-1zM428 439h1v1h-1zM439 439h1v1h-1zM463 439h1v1h-1zM467 439h1v1h-1zM469 439h1v1h-1zM473 439h1v1h-1zM521 439h1v1h-1zM532 439h1v1h-1zM594 439h1v1h-1zM604 439h1v1h-1zM401 440h1v1h-1zM410 440h1v1h-1zM429 440h1v1h-1zM438 440h1v1h-1zM462 440h1v1h-1zM466 440h1v1h-1zM470 440h1v1h-1zM474 440h1v1h-1zM522 440h1v1h-1zM531 440h1v1h-1zM595 440h1v1h-1zM603 440h1v1h-1zM402 441h1v1h-1zM409 441h1v1h-1zM430 441h1v1h-1zM437 441h1v1h-1zM461 441h1v1h-1zM465 441h1v1h-1zM471 441h1v1h-1zM475 441h1v1h-1zM523 441h1v1h-1zM530 441h1v1h-1zM596 441h1v1h-1zM602 441h1v1h-1zM403 442h1v1h-1zM408 442h1v1h-1zM431 442h1v1h-1zM436 442h1v1h-1zM524 442h1v1h-1zM529 442h1v1h-1zM597 442h1v1h-1zM601 442h1v1h-1zM404 443h1v1h-1zM407 443h1v1h-1zM432 443h1v1h-1zM435 443h1v1h-1zM525 443h1v1h-1zM528 443h1v1h-1zM598 443h1v1h-1zM600 443h1v1h-1zM405 444h2v1h-2zM433 444h2v1h-2zM526 444h2v1h-2zM599 444h1v1h-1zM404 445h1v1h-1zM407 445h1v1h-1zM432 445h1v1h-1zM435 445h1v1h-1zM525 445h1v1h-1zM528 445h1v1h-1zM598 445h1v1h-1zM600 445h1v1h-1zM403 446h1v1h-1zM408 446h1v1h-1zM431 446h1v1h-1zM436 446h1v1h-1zM524 446h1v1h-1zM529 446h1v1h-1zM597 446h1v1h-1zM601 446h1v1h-1zM295 447h1v1h-1zM299 447h1v1h-1zM306 447h1v1h-1zM310 447h1v1h-1zM402 447h1v1h-1zM409 447h1v1h-1zM430 447h1v1h-1zM436 447h2v1h-2zM447 447h1v1h-1zM521 447h1v1h-1zM523 447h1v1h-1zM530 447h1v1h-1zM532 447h1v1h-1zM596 447h1v1h-1zM602 447h1v1h-1zM727 447h1v1h-1zM738 447h1v1h-1zM820 447h1v1h-1zM830 447h1v1h-1zM296 448h1v1h-1zM300 448h1v1h-1zM305 448h1v1h-1zM309 448h1v1h-1zM401 448h1v1h-1zM410 448h1v1h-1zM429 448h1v1h-1zM437 448h2v1h-2zM446 448h1v1h-1zM522 448h1v1h-1zM531 448h1v1h-1zM595 448h1v1h-1zM603 448h1v1h-1zM728 448h1v1h-1zM737 448h1v1h-1zM821 448h1v1h-1zM829 448h1v1h-1zM297 449h1v1h-1zM301 449h1v1h-1zM304 449h1v1h-1zM308 449h1v1h-1zM400 449h1v1h-1zM411 449h1v1h-1zM428 449h1v1h-1zM438 449h2v1h-2zM445 449h1v1h-1zM521 449h1v1h-1zM523 449h1v1h-1zM530 449h1v1h-1zM532 449h1v1h-1zM594 449h1v1h-1zM604 449h1v1h-1zM729 449h1v1h-1zM736 449h1v1h-1zM822 449h1v1h-1zM828 449h1v1h-1zM298 450h1v1h-1zM302 450h2v1h-2zM307 450h1v1h-1zM439 450h1v1h-1zM444 450h1v1h-1zM524 450h1v1h-1zM529 450h1v1h-1zM730 450h1v1h-1zM735 450h1v1h-1zM823 450h1v1h-1zM827 450h1v1h-1zM299 451h1v1h-1zM302 451h2v1h-2zM306 451h1v1h-1zM440 451h1v1h-1zM443 451h1v1h-1zM525 451h1v1h-1zM528 451h1v1h-1zM731 451h1v1h-1zM734 451h1v1h-1zM824 451h1v1h-1zM826 451h1v1h-1zM300 452h2v1h-2zM304 452h2v1h-2zM441 452h2v1h-2zM526 452h2v1h-2zM732 452h2v1h-2zM825 452h1v1h-1zM299 453h1v1h-1zM302 453h2v1h-2zM306 453h1v1h-1zM440 453h1v1h-1zM443 453h1v1h-1zM525 453h1v1h-1zM528 453h1v1h-1zM731 453h1v1h-1zM734 453h1v1h-1zM824 453h1v1h-1zM826 453h1v1h-1zM298 454h1v1h-1zM302 454h2v1h-2zM307 454h1v1h-1zM439 454h1v1h-1zM444 454h1v1h-1zM524 454h1v1h-1zM529 454h1v1h-1zM730 454h1v1h-1zM735 454h1v1h-1zM823 454h1v1h-1zM827 454h1v1h-1zM297 455h1v1h-1zM301 455h1v1h-1zM304 455h1v1h-1zM308 455h1v1h-1zM438 455h1v1h-1zM445 455h1v1h-1zM457 455h1v1h-1zM467 455h1v1h-1zM523 455h1v1h-1zM530 455h1v1h-1zM729 455h1v1h-1zM736 455h1v1h-1zM822 455h1v1h-1zM828 455h1v1h-1zM296 456h1v1h-1zM300 456h1v1h-1zM305 456h1v1h-1zM309 456h1v1h-1zM437 456h1v1h-1zM446 456h1v1h-1zM458 456h1v1h-1zM466 456h1v1h-1zM522 456h1v1h-1zM531 456h1v1h-1zM728 456h1v1h-1zM737 456h1v1h-1zM821 456h1v1h-1zM829 456h1v1h-1zM295 457h1v1h-1zM299 457h1v1h-1zM306 457h1v1h-1zM310 457h1v1h-1zM436 457h1v1h-1zM447 457h1v1h-1zM459 457h1v1h-1zM465 457h1v1h-1zM521 457h1v1h-1zM532 457h1v1h-1zM727 457h1v1h-1zM738 457h1v1h-1zM820 457h1v1h-1zM830 457h1v1h-1zM460 458h1v1h-1zM464 458h1v1h-1zM461 459h1v1h-1zM463 459h1v1h-1zM462 460h1v1h-1zM461 461h1v1h-1zM463 461h1v1h-1zM460 462h1v1h-1zM464 462h1v1h-1zM323 463h1v1h-1zM334 463h1v1h-1zM388 463h1v1h-1zM398 463h1v1h-1zM459 463h1v1h-1zM465 463h1v1h-1zM574 463h1v1h-1zM578 463h1v1h-1zM584 463h1v1h-1zM588 463h1v1h-1zM654 463h1v1h-1zM665 463h1v1h-1zM707 463h1v1h-1zM717 463h1v1h-1zM759 463h1v1h-1zM770 463h1v1h-1zM873 463h1v1h-1zM883 463h1v1h-1zM913 463h1v1h-1zM923 463h1v1h-1zM324 464h1v1h-1zM333 464h1v1h-1zM389 464h1v1h-1zM397 464h1v1h-1zM458 464h1v1h-1zM466 464h1v1h-1zM575 464h1v1h-1zM579 464h1v1h-1zM583 464h1v1h-1zM587 464h1v1h-1zM655 464h1v1h-1zM664 464h1v1h-1zM708 464h1v1h-1zM716 464h1v1h-1zM760 464h1v1h-1zM769 464h1v1h-1zM874 464h1v1h-1zM882 464h1v1h-1zM914 464h1v1h-1zM922 464h1v1h-1zM325 465h1v1h-1zM332 465h1v1h-1zM390 465h1v1h-1zM396 465h1v1h-1zM457 465h1v1h-1zM467 465h1v1h-1zM576 465h1v1h-1zM580 465h1v1h-1zM582 465h1v1h-1zM586 465h1v1h-1zM656 465h1v1h-1zM663 465h1v1h-1zM709 465h1v1h-1zM715 465h1v1h-1zM761 465h1v1h-1zM768 465h1v1h-1zM875 465h1v1h-1zM881 465h1v1h-1zM915 465h1v1h-1zM921 465h1v1h-1zM326 466h1v1h-1zM331 466h1v1h-1zM391 466h1v1h-1zM395 466h1v1h-1zM577 466h1v1h-1zM581 466h1v1h-1zM585 466h1v1h-1zM657 466h1v1h-1zM662 466h1v1h-1zM710 466h1v1h-1zM714 466h1v1h-1zM762 466h1v1h-1zM767 466h1v1h-1zM876 466h1v1h-1zM880 466h1v1h-1zM916 466h1v1h-1zM920 466h1v1h-1zM327 467h1v1h-1zM330 467h1v1h-1zM392 467h1v1h-1zM394 467h1v1h-1zM578 467h1v1h-1zM580 467h1v1h-1zM582 467h1v1h-1zM584 467h1v1h-1zM658 467h1v1h-1zM661 467h1v1h-1zM711 467h1v1h-1zM713 467h1v1h-1zM763 467h1v1h-1zM766 467h1v1h-1zM877 467h1v1h-1zM879 467h1v1h-1zM917 467h1v1h-1zM919 467h1v1h-1zM328 468h2v1h-2zM393 468h1v1h-1zM579 468h1v1h-1zM583 468h1v1h-1zM659 468h2v1h-2zM712 468h1v1h-1zM764 468h2v1h-2zM878 468h1v1h-1zM918 468h1v1h-1zM327 469h1v1h-1zM330 469h1v1h-1zM392 469h1v1h-1zM394 469h1v1h-1zM578 469h1v1h-1zM580 469h1v1h-1zM582 469h1v1h-1zM584 469h1v1h-1zM658 469h1v1h-1zM661 469h1v1h-1zM711 469h1v1h-1zM713 469h1v1h-1zM763 469h1v1h-1zM766 469h1v1h-1zM877 469h1v1h-1zM879 469h1v1h-1zM917 469h1v1h-1zM919 469h1v1h-1zM326 470h1v1h-1zM331 470h1v1h-1zM391 470h1v1h-1zM395 470h1v1h-1zM577 470h1v1h-1zM581 470h1v1h-1zM585 470h1v1h-1zM657 470h1v1h-1zM662 470h1v1h-1zM710 470h1v1h-1zM714 470h1v1h-1zM762 470h1v1h-1zM767 470h1v1h-1zM876 470h1v1h-1zM880 470h1v1h-1zM916 470h1v1h-1zM920 470h1v1h-1zM259 471h1v1h-1zM269 471h1v1h-1zM323 471h1v1h-1zM325 471h1v1h-1zM332 471h1v1h-1zM334 471h1v1h-1zM390 471h1v1h-1zM396 471h1v1h-1zM420 471h1v1h-1zM428 471h1v1h-1zM431 471h1v1h-1zM439 471h1v1h-1zM461 471h1v1h-1zM471 471h1v1h-1zM501 471h1v1h-1zM511 471h1v1h-1zM576 471h1v1h-1zM580 471h1v1h-1zM582 471h1v1h-1zM586 471h1v1h-1zM656 471h1v1h-1zM663 471h1v1h-1zM709 471h1v1h-1zM715 471h1v1h-1zM761 471h1v1h-1zM768 471h1v1h-1zM875 471h1v1h-1zM881 471h1v1h-1zM915 471h1v1h-1zM921 471h1v1h-1zM260 472h1v1h-1zM268 472h1v1h-1zM324 472h1v1h-1zM333 472h1v1h-1zM389 472h1v1h-1zM397 472h1v1h-1zM421 472h1v1h-1zM429 472h2v1h-2zM438 472h1v1h-1zM462 472h1v1h-1zM470 472h1v1h-1zM502 472h1v1h-1zM510 472h1v1h-1zM575 472h1v1h-1zM579 472h1v1h-1zM583 472h1v1h-1zM587 472h1v1h-1zM655 472h1v1h-1zM664 472h1v1h-1zM708 472h1v1h-1zM716 472h1v1h-1zM760 472h1v1h-1zM769 472h1v1h-1zM874 472h1v1h-1zM882 472h1v1h-1zM914 472h1v1h-1zM922 472h1v1h-1zM261 473h1v1h-1zM267 473h1v1h-1zM323 473h1v1h-1zM325 473h1v1h-1zM332 473h1v1h-1zM334 473h1v1h-1zM388 473h1v1h-1zM398 473h1v1h-1zM422 473h1v1h-1zM429 473h2v1h-2zM437 473h1v1h-1zM463 473h1v1h-1zM469 473h1v1h-1zM503 473h1v1h-1zM509 473h1v1h-1zM574 473h1v1h-1zM578 473h1v1h-1zM584 473h1v1h-1zM588 473h1v1h-1zM654 473h1v1h-1zM665 473h1v1h-1zM707 473h1v1h-1zM717 473h1v1h-1zM759 473h1v1h-1zM770 473h1v1h-1zM873 473h1v1h-1zM883 473h1v1h-1zM913 473h1v1h-1zM923 473h1v1h-1zM262 474h1v1h-1zM266 474h1v1h-1zM326 474h1v1h-1zM331 474h1v1h-1zM423 474h1v1h-1zM428 474h1v1h-1zM431 474h1v1h-1zM436 474h1v1h-1zM464 474h1v1h-1zM468 474h1v1h-1zM504 474h1v1h-1zM508 474h1v1h-1zM263 475h1v1h-1zM265 475h1v1h-1zM327 475h1v1h-1zM330 475h1v1h-1zM424 475h1v1h-1zM427 475h1v1h-1zM432 475h1v1h-1zM435 475h1v1h-1zM465 475h1v1h-1zM467 475h1v1h-1zM505 475h1v1h-1zM507 475h1v1h-1zM264 476h1v1h-1zM328 476h2v1h-2zM425 476h2v1h-2zM433 476h2v1h-2zM466 476h1v1h-1zM506 476h1v1h-1zM263 477h1v1h-1zM265 477h1v1h-1zM327 477h1v1h-1zM330 477h1v1h-1zM424 477h1v1h-1zM427 477h1v1h-1zM432 477h1v1h-1zM435 477h1v1h-1zM465 477h1v1h-1zM467 477h1v1h-1zM505 477h1v1h-1zM507 477h1v1h-1zM235 478h1v1h-1zM245 478h1v1h-1zM262 478h1v1h-1zM266 478h1v1h-1zM315 478h1v1h-1zM326 478h1v1h-1zM331 478h1v1h-1zM342 478h1v1h-1zM388 478h1v1h-1zM398 478h1v1h-1zM423 478h1v1h-1zM428 478h1v1h-1zM431 478h1v1h-1zM436 478h1v1h-1zM447 478h1v1h-1zM464 478h1v1h-1zM468 478h1v1h-1zM485 478h1v1h-1zM495 478h1v1h-1zM504 478h1v1h-1zM508 478h1v1h-1zM715 478h1v1h-1zM725 478h1v1h-1zM969 478h1v1h-1zM980 478h1v1h-1zM236 479h1v1h-1zM244 479h1v1h-1zM261 479h1v1h-1zM267 479h1v1h-1zM316 479h1v1h-1zM325 479h1v1h-1zM332 479h1v1h-1zM341 479h1v1h-1zM389 479h1v1h-1zM397 479h1v1h-1zM422 479h1v1h-1zM429 479h2v1h-2zM437 479h1v1h-1zM446 479h1v1h-1zM463 479h1v1h-1zM469 479h1v1h-1zM486 479h1v1h-1zM494 479h1v1h-1zM503 479h1v1h-1zM509 479h1v1h-1zM716 479h1v1h-1zM724 479h1v1h-1zM970 479h1v1h-1zM979 479h1v1h-1zM237 480h1v1h-1zM243 480h1v1h-1zM260 480h1v1h-1zM268 480h1v1h-1zM317 480h1v1h-1zM324 480h1v1h-1zM333 480h1v1h-1zM340 480h1v1h-1zM390 480h1v1h-1zM396 480h1v1h-1zM421 480h1v1h-1zM429 480h2v1h-2zM438 480h1v1h-1zM445 480h1v1h-1zM462 480h1v1h-1zM470 480h1v1h-1zM487 480h1v1h-1zM493 480h1v1h-1zM502 480h1v1h-1zM510 480h1v1h-1zM717 480h1v1h-1zM723 480h1v1h-1zM971 480h1v1h-1zM978 480h1v1h-1zM238 481h1v1h-1zM242 481h1v1h-1zM259 481h1v1h-1zM269 481h1v1h-1zM318 481h1v1h-1zM323 481h1v1h-1zM334 481h1v1h-1zM339 481h1v1h-1zM391 481h1v1h-1zM395 481h1v1h-1zM420 481h1v1h-1zM428 481h1v1h-1zM431 481h1v1h-1zM439 481h1v1h-1zM444 481h1v1h-1zM461 481h1v1h-1zM471 481h1v1h-1zM488 481h1v1h-1zM492 481h1v1h-1zM501 481h1v1h-1zM511 481h1v1h-1zM718 481h1v1h-1zM722 481h1v1h-1zM972 481h1v1h-1zM977 481h1v1h-1zM239 482h1v1h-1zM241 482h1v1h-1zM319 482h1v1h-1zM322 482h1v1h-1zM335 482h1v1h-1zM338 482h1v1h-1zM392 482h1v1h-1zM394 482h1v1h-1zM440 482h1v1h-1zM443 482h1v1h-1zM489 482h1v1h-1zM491 482h1v1h-1zM719 482h1v1h-1zM721 482h1v1h-1zM973 482h1v1h-1zM976 482h1v1h-1zM240 483h1v1h-1zM320 483h2v1h-2zM336 483h2v1h-2zM393 483h1v1h-1zM441 483h2v1h-2zM490 483h1v1h-1zM720 483h1v1h-1zM974 483h2v1h-2zM240 484h1v1h-1zM320 484h2v1h-2zM336 484h2v1h-2zM393 484h1v1h-1zM441 484h2v1h-2zM490 484h1v1h-1zM720 484h1v1h-1zM974 484h2v1h-2zM239 485h1v1h-1zM241 485h1v1h-1zM319 485h1v1h-1zM322 485h1v1h-1zM335 485h1v1h-1zM338 485h1v1h-1zM392 485h1v1h-1zM394 485h1v1h-1zM440 485h1v1h-1zM443 485h1v1h-1zM489 485h1v1h-1zM491 485h1v1h-1zM719 485h1v1h-1zM721 485h1v1h-1zM973 485h1v1h-1zM976 485h1v1h-1zM238 486h1v1h-1zM242 486h1v1h-1zM303 486h1v1h-1zM314 486h1v1h-1zM318 486h1v1h-1zM323 486h1v1h-1zM331 486h1v1h-1zM334 486h1v1h-1zM339 486h1v1h-1zM342 486h1v1h-1zM380 486h1v1h-1zM390 486h2v1h-2zM395 486h1v1h-1zM400 486h1v1h-1zM411 486h1v1h-1zM420 486h1v1h-1zM431 486h1v1h-1zM439 486h1v1h-1zM444 486h1v1h-1zM485 486h1v1h-1zM488 486h1v1h-1zM492 486h1v1h-1zM495 486h1v1h-1zM505 486h1v1h-1zM515 486h1v1h-1zM699 486h1v1h-1zM707 486h1v1h-1zM709 486h1v1h-1zM717 486h2v1h-2zM722 486h1v1h-1zM965 486h1v1h-1zM972 486h1v1h-1zM976 486h2v1h-2zM1119 486h1v1h-1zM1129 486h1v1h-1zM1268 486h1v1h-1zM1279 486h1v1h-1zM237 487h1v1h-1zM243 487h1v1h-1zM304 487h1v1h-1zM313 487h1v1h-1zM317 487h1v1h-1zM324 487h1v1h-1zM332 487h2v1h-2zM340 487h2v1h-2zM381 487h1v1h-1zM389 487h2v1h-2zM396 487h1v1h-1zM401 487h1v1h-1zM410 487h1v1h-1zM421 487h1v1h-1zM430 487h1v1h-1zM438 487h1v1h-1zM445 487h1v1h-1zM486 487h2v1h-2zM493 487h2v1h-2zM506 487h1v1h-1zM514 487h1v1h-1zM700 487h1v1h-1zM708 487h1v1h-1zM716 487h2v1h-2zM723 487h1v1h-1zM966 487h1v1h-1zM971 487h1v1h-1zM975 487h1v1h-1zM978 487h1v1h-1zM1120 487h1v1h-1zM1128 487h1v1h-1zM1269 487h1v1h-1zM1278 487h1v1h-1zM236 488h1v1h-1zM244 488h1v1h-1zM305 488h1v1h-1zM312 488h1v1h-1zM316 488h1v1h-1zM325 488h1v1h-1zM332 488h2v1h-2zM340 488h2v1h-2zM382 488h1v1h-1zM388 488h2v1h-2zM397 488h1v1h-1zM402 488h1v1h-1zM409 488h1v1h-1zM422 488h1v1h-1zM429 488h1v1h-1zM437 488h1v1h-1zM446 488h1v1h-1zM486 488h2v1h-2zM493 488h2v1h-2zM507 488h1v1h-1zM513 488h1v1h-1zM701 488h1v1h-1zM707 488h1v1h-1zM709 488h1v1h-1zM715 488h2v1h-2zM724 488h1v1h-1zM967 488h1v1h-1zM970 488h1v1h-1zM974 488h1v1h-1zM979 488h1v1h-1zM1121 488h1v1h-1zM1127 488h1v1h-1zM1270 488h1v1h-1zM1277 488h1v1h-1zM235 489h1v1h-1zM245 489h1v1h-1zM306 489h1v1h-1zM311 489h1v1h-1zM315 489h1v1h-1zM326 489h1v1h-1zM331 489h1v1h-1zM334 489h1v1h-1zM339 489h1v1h-1zM342 489h1v1h-1zM383 489h1v1h-1zM387 489h2v1h-2zM398 489h1v1h-1zM403 489h1v1h-1zM408 489h1v1h-1zM423 489h1v1h-1zM428 489h1v1h-1zM436 489h1v1h-1zM447 489h1v1h-1zM485 489h1v1h-1zM488 489h1v1h-1zM492 489h1v1h-1zM495 489h1v1h-1zM508 489h1v1h-1zM512 489h1v1h-1zM702 489h1v1h-1zM706 489h1v1h-1zM710 489h1v1h-1zM714 489h2v1h-2zM725 489h1v1h-1zM968 489h2v1h-2zM973 489h1v1h-1zM980 489h1v1h-1zM1122 489h1v1h-1zM1126 489h1v1h-1zM1271 489h1v1h-1zM1276 489h1v1h-1zM307 490h1v1h-1zM310 490h1v1h-1zM335 490h1v1h-1zM338 490h1v1h-1zM384 490h1v1h-1zM386 490h1v1h-1zM404 490h1v1h-1zM407 490h1v1h-1zM424 490h1v1h-1zM427 490h1v1h-1zM489 490h1v1h-1zM491 490h1v1h-1zM509 490h1v1h-1zM511 490h1v1h-1zM703 490h1v1h-1zM705 490h1v1h-1zM711 490h1v1h-1zM713 490h1v1h-1zM969 490h1v1h-1zM972 490h1v1h-1zM1123 490h1v1h-1zM1125 490h1v1h-1zM1272 490h1v1h-1zM1275 490h1v1h-1zM308 491h2v1h-2zM336 491h2v1h-2zM385 491h1v1h-1zM405 491h2v1h-2zM425 491h2v1h-2zM490 491h1v1h-1zM510 491h1v1h-1zM704 491h1v1h-1zM712 491h1v1h-1zM970 491h2v1h-2zM1124 491h1v1h-1zM1273 491h2v1h-2zM308 492h2v1h-2zM336 492h2v1h-2zM385 492h1v1h-1zM405 492h2v1h-2zM425 492h2v1h-2zM490 492h1v1h-1zM510 492h1v1h-1zM704 492h1v1h-1zM712 492h1v1h-1zM970 492h2v1h-2zM1124 492h1v1h-1zM1273 492h2v1h-2zM307 493h1v1h-1zM310 493h1v1h-1zM335 493h1v1h-1zM338 493h1v1h-1zM384 493h1v1h-1zM386 493h1v1h-1zM404 493h1v1h-1zM407 493h1v1h-1zM424 493h1v1h-1zM427 493h1v1h-1zM489 493h1v1h-1zM491 493h1v1h-1zM509 493h1v1h-1zM511 493h1v1h-1zM703 493h1v1h-1zM705 493h1v1h-1zM711 493h1v1h-1zM713 493h1v1h-1zM969 493h1v1h-1zM972 493h1v1h-1zM1123 493h1v1h-1zM1125 493h1v1h-1zM1272 493h1v1h-1zM1275 493h1v1h-1zM303 494h1v1h-1zM306 494h1v1h-1zM311 494h1v1h-1zM314 494h1v1h-1zM334 494h1v1h-1zM339 494h1v1h-1zM356 494h1v1h-1zM366 494h1v1h-1zM383 494h1v1h-1zM387 494h1v1h-1zM403 494h1v1h-1zM408 494h1v1h-1zM423 494h1v1h-1zM428 494h1v1h-1zM488 494h1v1h-1zM492 494h1v1h-1zM508 494h1v1h-1zM512 494h1v1h-1zM702 494h1v1h-1zM706 494h1v1h-1zM710 494h1v1h-1zM714 494h1v1h-1zM968 494h1v1h-1zM973 494h1v1h-1zM1122 494h1v1h-1zM1126 494h1v1h-1zM1271 494h1v1h-1zM1276 494h1v1h-1zM304 495h2v1h-2zM312 495h2v1h-2zM333 495h1v1h-1zM340 495h1v1h-1zM357 495h1v1h-1zM365 495h1v1h-1zM382 495h1v1h-1zM388 495h1v1h-1zM402 495h1v1h-1zM409 495h1v1h-1zM422 495h1v1h-1zM429 495h1v1h-1zM487 495h1v1h-1zM493 495h1v1h-1zM507 495h1v1h-1zM513 495h1v1h-1zM701 495h1v1h-1zM707 495h1v1h-1zM709 495h1v1h-1zM715 495h1v1h-1zM967 495h1v1h-1zM974 495h1v1h-1zM1121 495h1v1h-1zM1127 495h1v1h-1zM1270 495h1v1h-1zM1277 495h1v1h-1zM304 496h2v1h-2zM312 496h2v1h-2zM332 496h1v1h-1zM341 496h1v1h-1zM358 496h1v1h-1zM364 496h1v1h-1zM381 496h1v1h-1zM389 496h1v1h-1zM401 496h1v1h-1zM410 496h1v1h-1zM421 496h1v1h-1zM430 496h1v1h-1zM486 496h1v1h-1zM494 496h1v1h-1zM506 496h1v1h-1zM514 496h1v1h-1zM700 496h1v1h-1zM708 496h1v1h-1zM716 496h1v1h-1zM966 496h1v1h-1zM975 496h1v1h-1zM1120 496h1v1h-1zM1128 496h1v1h-1zM1269 496h1v1h-1zM1278 496h1v1h-1zM303 497h1v1h-1zM306 497h1v1h-1zM311 497h1v1h-1zM314 497h1v1h-1zM331 497h1v1h-1zM342 497h1v1h-1zM359 497h1v1h-1zM363 497h1v1h-1zM380 497h1v1h-1zM390 497h1v1h-1zM400 497h1v1h-1zM411 497h1v1h-1zM420 497h1v1h-1zM431 497h1v1h-1zM485 497h1v1h-1zM495 497h1v1h-1zM505 497h1v1h-1zM515 497h1v1h-1zM699 497h1v1h-1zM707 497h1v1h-1zM709 497h1v1h-1zM717 497h1v1h-1zM965 497h1v1h-1zM976 497h1v1h-1zM1119 497h1v1h-1zM1129 497h1v1h-1zM1268 497h1v1h-1zM1279 497h1v1h-1zM307 498h1v1h-1zM310 498h1v1h-1zM360 498h1v1h-1zM362 498h1v1h-1zM308 499h2v1h-2zM361 499h1v1h-1zM308 500h2v1h-2zM361 500h1v1h-1zM307 501h1v1h-1zM310 501h1v1h-1zM360 501h1v1h-1zM362 501h1v1h-1zM306 502h1v1h-1zM311 502h1v1h-1zM359 502h1v1h-1zM363 502h1v1h-1zM368 502h1v1h-1zM378 502h1v1h-1zM513 502h1v1h-1zM524 502h1v1h-1zM780 502h1v1h-1zM790 502h1v1h-1zM873 502h1v1h-1zM883 502h1v1h-1zM305 503h1v1h-1zM312 503h1v1h-1zM358 503h1v1h-1zM364 503h1v1h-1zM369 503h1v1h-1zM377 503h1v1h-1zM514 503h1v1h-1zM523 503h1v1h-1zM781 503h1v1h-1zM789 503h1v1h-1zM874 503h1v1h-1zM882 503h1v1h-1zM304 504h1v1h-1zM313 504h1v1h-1zM357 504h1v1h-1zM365 504h1v1h-1zM370 504h1v1h-1zM376 504h1v1h-1zM515 504h1v1h-1zM522 504h1v1h-1zM782 504h1v1h-1zM788 504h1v1h-1zM875 504h1v1h-1zM881 504h1v1h-1zM303 505h1v1h-1zM314 505h1v1h-1zM356 505h1v1h-1zM366 505h1v1h-1zM371 505h1v1h-1zM375 505h1v1h-1zM516 505h1v1h-1zM521 505h1v1h-1zM783 505h1v1h-1zM787 505h1v1h-1zM876 505h1v1h-1zM880 505h1v1h-1zM372 506h1v1h-1zM374 506h1v1h-1zM517 506h1v1h-1zM520 506h1v1h-1zM784 506h1v1h-1zM786 506h1v1h-1zM877 506h1v1h-1zM879 506h1v1h-1zM373 507h1v1h-1zM518 507h2v1h-2zM785 507h1v1h-1zM878 507h1v1h-1zM373 508h1v1h-1zM518 508h2v1h-2zM785 508h1v1h-1zM878 508h1v1h-1zM372 509h1v1h-1zM374 509h1v1h-1zM517 509h1v1h-1zM520 509h1v1h-1zM784 509h1v1h-1zM786 509h1v1h-1zM877 509h1v1h-1zM879 509h1v1h-1zM371 510h1v1h-1zM375 510h1v1h-1zM457 510h1v1h-1zM467 510h1v1h-1zM516 510h1v1h-1zM521 510h1v1h-1zM578 510h1v1h-1zM588 510h1v1h-1zM783 510h1v1h-1zM787 510h1v1h-1zM876 510h1v1h-1zM880 510h1v1h-1zM370 511h1v1h-1zM376 511h1v1h-1zM458 511h1v1h-1zM466 511h1v1h-1zM515 511h1v1h-1zM522 511h1v1h-1zM579 511h1v1h-1zM587 511h1v1h-1zM782 511h1v1h-1zM788 511h1v1h-1zM875 511h1v1h-1zM881 511h1v1h-1zM369 512h1v1h-1zM377 512h1v1h-1zM459 512h1v1h-1zM465 512h1v1h-1zM514 512h1v1h-1zM523 512h1v1h-1zM580 512h1v1h-1zM586 512h1v1h-1zM781 512h1v1h-1zM789 512h1v1h-1zM874 512h1v1h-1zM882 512h1v1h-1zM368 513h1v1h-1zM378 513h1v1h-1zM460 513h1v1h-1zM464 513h1v1h-1zM513 513h1v1h-1zM524 513h1v1h-1zM581 513h1v1h-1zM585 513h1v1h-1zM780 513h1v1h-1zM790 513h1v1h-1zM873 513h1v1h-1zM883 513h1v1h-1zM461 514h1v1h-1zM463 514h1v1h-1zM582 514h1v1h-1zM584 514h1v1h-1zM462 515h1v1h-1zM583 515h1v1h-1zM462 516h1v1h-1zM583 516h1v1h-1zM461 517h1v1h-1zM463 517h1v1h-1zM582 517h1v1h-1zM584 517h1v1h-1zM311 518h1v1h-1zM322 518h1v1h-1zM335 518h1v1h-1zM346 518h1v1h-1zM460 518h1v1h-1zM464 518h1v1h-1zM513 518h1v1h-1zM524 518h1v1h-1zM581 518h1v1h-1zM585 518h1v1h-1zM606 518h1v1h-1zM616 518h1v1h-1zM687 518h1v1h-1zM697 518h1v1h-1zM755 518h1v1h-1zM766 518h1v1h-1zM312 519h1v1h-1zM321 519h1v1h-1zM336 519h1v1h-1zM345 519h1v1h-1zM459 519h1v1h-1zM465 519h1v1h-1zM514 519h1v1h-1zM523 519h1v1h-1zM580 519h1v1h-1zM586 519h1v1h-1zM607 519h1v1h-1zM615 519h1v1h-1zM688 519h1v1h-1zM696 519h1v1h-1zM756 519h1v1h-1zM765 519h1v1h-1zM313 520h1v1h-1zM320 520h1v1h-1zM337 520h1v1h-1zM344 520h1v1h-1zM458 520h1v1h-1zM466 520h1v1h-1zM515 520h1v1h-1zM522 520h1v1h-1zM579 520h1v1h-1zM587 520h1v1h-1zM608 520h1v1h-1zM614 520h1v1h-1zM689 520h1v1h-1zM695 520h1v1h-1zM757 520h1v1h-1zM764 520h1v1h-1zM314 521h1v1h-1zM319 521h1v1h-1zM338 521h1v1h-1zM343 521h1v1h-1zM457 521h1v1h-1zM467 521h1v1h-1zM516 521h1v1h-1zM521 521h1v1h-1zM578 521h1v1h-1zM588 521h1v1h-1zM609 521h1v1h-1zM613 521h1v1h-1zM690 521h1v1h-1zM694 521h1v1h-1zM758 521h1v1h-1zM763 521h1v1h-1zM315 522h1v1h-1zM318 522h1v1h-1zM339 522h1v1h-1zM342 522h1v1h-1zM517 522h1v1h-1zM520 522h1v1h-1zM610 522h1v1h-1zM612 522h1v1h-1zM691 522h1v1h-1zM693 522h1v1h-1zM759 522h1v1h-1zM762 522h1v1h-1zM316 523h2v1h-2zM340 523h2v1h-2zM518 523h2v1h-2zM611 523h1v1h-1zM692 523h1v1h-1zM760 523h2v1h-2zM316 524h2v1h-2zM340 524h2v1h-2zM518 524h2v1h-2zM611 524h1v1h-1zM692 524h1v1h-1zM760 524h2v1h-2zM315 525h1v1h-1zM318 525h1v1h-1zM339 525h1v1h-1zM342 525h1v1h-1zM517 525h1v1h-1zM520 525h1v1h-1zM610 525h1v1h-1zM612 525h1v1h-1zM691 525h1v1h-1zM693 525h1v1h-1zM759 525h1v1h-1zM762 525h1v1h-1zM314 526h1v1h-1zM319 526h1v1h-1zM338 526h1v1h-1zM343 526h1v1h-1zM356 526h1v1h-1zM366 526h1v1h-1zM400 526h1v1h-1zM411 526h1v1h-1zM516 526h1v1h-1zM521 526h1v1h-1zM609 526h1v1h-1zM613 526h1v1h-1zM690 526h1v1h-1zM694 526h1v1h-1zM751 526h1v1h-1zM758 526h1v1h-1zM762 526h2v1h-2zM925 526h1v1h-1zM935 526h1v1h-1zM313 527h1v1h-1zM320 527h1v1h-1zM337 527h1v1h-1zM344 527h1v1h-1zM357 527h1v1h-1zM365 527h1v1h-1zM401 527h1v1h-1zM410 527h1v1h-1zM515 527h1v1h-1zM522 527h1v1h-1zM608 527h1v1h-1zM614 527h1v1h-1zM689 527h1v1h-1zM695 527h1v1h-1zM752 527h1v1h-1zM757 527h1v1h-1zM761 527h1v1h-1zM764 527h1v1h-1zM926 527h1v1h-1zM934 527h1v1h-1zM312 528h1v1h-1zM321 528h1v1h-1zM336 528h1v1h-1zM345 528h1v1h-1zM358 528h1v1h-1zM364 528h1v1h-1zM402 528h1v1h-1zM409 528h1v1h-1zM514 528h1v1h-1zM523 528h1v1h-1zM607 528h1v1h-1zM615 528h1v1h-1zM688 528h1v1h-1zM696 528h1v1h-1zM753 528h1v1h-1zM756 528h1v1h-1zM760 528h1v1h-1zM765 528h1v1h-1zM927 528h1v1h-1zM933 528h1v1h-1zM311 529h1v1h-1zM322 529h1v1h-1zM335 529h1v1h-1zM346 529h1v1h-1zM359 529h1v1h-1zM363 529h1v1h-1zM403 529h1v1h-1zM408 529h1v1h-1zM513 529h1v1h-1zM524 529h1v1h-1zM606 529h1v1h-1zM616 529h1v1h-1zM687 529h1v1h-1zM697 529h1v1h-1zM754 529h2v1h-2zM759 529h1v1h-1zM766 529h1v1h-1zM928 529h1v1h-1zM932 529h1v1h-1zM360 530h1v1h-1zM362 530h1v1h-1zM404 530h1v1h-1zM407 530h1v1h-1zM755 530h1v1h-1zM758 530h1v1h-1zM929 530h1v1h-1zM931 530h1v1h-1zM361 531h1v1h-1zM405 531h2v1h-2zM756 531h2v1h-2zM930 531h1v1h-1zM361 532h1v1h-1zM405 532h2v1h-2zM756 532h2v1h-2zM930 532h1v1h-1zM360 533h1v1h-1zM362 533h1v1h-1zM404 533h1v1h-1zM407 533h1v1h-1zM755 533h1v1h-1zM758 533h1v1h-1zM929 533h1v1h-1zM931 533h1v1h-1zM359 534h1v1h-1zM363 534h1v1h-1zM403 534h1v1h-1zM408 534h1v1h-1zM687 534h1v1h-1zM697 534h1v1h-1zM754 534h1v1h-1zM759 534h1v1h-1zM804 534h1v1h-1zM814 534h1v1h-1zM928 534h1v1h-1zM932 534h1v1h-1zM358 535h1v1h-1zM364 535h1v1h-1zM402 535h1v1h-1zM409 535h1v1h-1zM688 535h1v1h-1zM696 535h1v1h-1zM753 535h1v1h-1zM760 535h1v1h-1zM805 535h1v1h-1zM813 535h1v1h-1zM927 535h1v1h-1zM933 535h1v1h-1zM357 536h1v1h-1zM365 536h1v1h-1zM401 536h1v1h-1zM410 536h1v1h-1zM689 536h1v1h-1zM695 536h1v1h-1zM752 536h1v1h-1zM761 536h1v1h-1zM806 536h1v1h-1zM812 536h1v1h-1zM926 536h1v1h-1zM934 536h1v1h-1zM356 537h1v1h-1zM366 537h1v1h-1zM400 537h1v1h-1zM411 537h1v1h-1zM690 537h1v1h-1zM694 537h1v1h-1zM751 537h1v1h-1zM762 537h1v1h-1zM807 537h1v1h-1zM811 537h1v1h-1zM925 537h1v1h-1zM935 537h1v1h-1zM691 538h1v1h-1zM693 538h1v1h-1zM808 538h1v1h-1zM810 538h1v1h-1zM692 539h1v1h-1zM809 539h1v1h-1zM692 540h1v1h-1zM809 540h1v1h-1zM691 541h1v1h-1zM693 541h1v1h-1zM808 541h1v1h-1zM810 541h1v1h-1zM690 542h1v1h-1zM694 542h1v1h-1zM807 542h1v1h-1zM811 542h1v1h-1zM816 542h1v1h-1zM826 542h1v1h-1zM881 542h1v1h-1zM891 542h1v1h-1zM925 542h1v1h-1zM935 542h1v1h-1zM941 542h1v1h-1zM952 542h1v1h-1zM689 543h1v1h-1zM695 543h1v1h-1zM806 543h1v1h-1zM812 543h1v1h-1zM817 543h1v1h-1zM825 543h1v1h-1zM882 543h1v1h-1zM890 543h1v1h-1zM926 543h1v1h-1zM934 543h1v1h-1zM942 543h1v1h-1zM951 543h1v1h-1zM688 544h1v1h-1zM696 544h1v1h-1zM805 544h1v1h-1zM813 544h1v1h-1zM818 544h1v1h-1zM824 544h1v1h-1zM883 544h1v1h-1zM889 544h1v1h-1zM927 544h1v1h-1zM933 544h1v1h-1zM943 544h1v1h-1zM950 544h1v1h-1zM687 545h1v1h-1zM697 545h1v1h-1zM804 545h1v1h-1zM814 545h1v1h-1zM819 545h1v1h-1zM823 545h1v1h-1zM884 545h1v1h-1zM888 545h1v1h-1zM928 545h1v1h-1zM932 545h1v1h-1zM944 545h1v1h-1zM949 545h1v1h-1zM820 546h1v1h-1zM822 546h1v1h-1zM885 546h1v1h-1zM887 546h1v1h-1zM929 546h1v1h-1zM931 546h1v1h-1zM945 546h1v1h-1zM948 546h1v1h-1zM821 547h1v1h-1zM886 547h1v1h-1zM930 547h1v1h-1zM946 547h2v1h-2zM821 548h1v1h-1zM886 548h1v1h-1zM930 548h1v1h-1zM946 548h2v1h-2zM820 549h1v1h-1zM822 549h1v1h-1zM885 549h1v1h-1zM887 549h1v1h-1zM929 549h1v1h-1zM931 549h1v1h-1zM945 549h1v1h-1zM948 549h1v1h-1zM295 550h1v1h-1zM306 550h1v1h-1zM819 550h1v1h-1zM823 550h1v1h-1zM832 550h1v1h-1zM843 550h1v1h-1zM860 550h1v1h-1zM871 550h1v1h-1zM884 550h1v1h-1zM888 550h1v1h-1zM928 550h1v1h-1zM932 550h1v1h-1zM944 550h1v1h-1zM949 550h1v1h-1zM296 551h1v1h-1zM305 551h1v1h-1zM818 551h1v1h-1zM824 551h1v1h-1zM833 551h1v1h-1zM842 551h1v1h-1zM861 551h1v1h-1zM870 551h1v1h-1zM883 551h1v1h-1zM889 551h1v1h-1zM927 551h1v1h-1zM933 551h1v1h-1zM943 551h1v1h-1zM950 551h1v1h-1zM297 552h1v1h-1zM304 552h1v1h-1zM817 552h1v1h-1zM825 552h1v1h-1zM834 552h1v1h-1zM841 552h1v1h-1zM862 552h1v1h-1zM869 552h1v1h-1zM882 552h1v1h-1zM890 552h1v1h-1zM926 552h1v1h-1zM934 552h1v1h-1zM942 552h1v1h-1zM951 552h1v1h-1zM298 553h1v1h-1zM303 553h1v1h-1zM816 553h1v1h-1zM826 553h1v1h-1zM835 553h1v1h-1zM840 553h1v1h-1zM863 553h1v1h-1zM868 553h1v1h-1zM881 553h1v1h-1zM891 553h1v1h-1zM925 553h1v1h-1zM935 553h1v1h-1zM941 553h1v1h-1zM952 553h1v1h-1zM299 554h1v1h-1zM302 554h1v1h-1zM836 554h1v1h-1zM839 554h1v1h-1zM864 554h1v1h-1zM867 554h1v1h-1zM300 555h2v1h-2zM837 555h2v1h-2zM865 555h2v1h-2zM300 556h2v1h-2zM837 556h2v1h-2zM865 556h2v1h-2zM299 557h1v1h-1zM302 557h1v1h-1zM836 557h1v1h-1zM839 557h1v1h-1zM864 557h1v1h-1zM867 557h1v1h-1zM198 558h1v1h-1zM209 558h1v1h-1zM298 558h1v1h-1zM303 558h1v1h-1zM323 558h1v1h-1zM334 558h1v1h-1zM751 558h1v1h-1zM762 558h1v1h-1zM835 558h1v1h-1zM840 558h1v1h-1zM851 558h1v1h-1zM860 558h1v1h-1zM863 558h1v1h-1zM868 558h1v1h-1zM871 558h1v1h-1zM877 558h1v1h-1zM887 558h1v1h-1zM199 559h1v1h-1zM208 559h1v1h-1zM297 559h1v1h-1zM304 559h1v1h-1zM324 559h1v1h-1zM333 559h1v1h-1zM752 559h1v1h-1zM761 559h1v1h-1zM834 559h1v1h-1zM841 559h1v1h-1zM850 559h1v1h-1zM861 559h2v1h-2zM869 559h2v1h-2zM878 559h1v1h-1zM886 559h1v1h-1zM200 560h1v1h-1zM207 560h1v1h-1zM296 560h1v1h-1zM305 560h1v1h-1zM325 560h1v1h-1zM332 560h1v1h-1zM753 560h1v1h-1zM760 560h1v1h-1zM833 560h1v1h-1zM842 560h1v1h-1zM849 560h1v1h-1zM861 560h2v1h-2zM869 560h2v1h-2zM879 560h1v1h-1zM885 560h1v1h-1zM201 561h1v1h-1zM206 561h1v1h-1zM295 561h1v1h-1zM306 561h1v1h-1zM326 561h1v1h-1zM331 561h1v1h-1zM754 561h1v1h-1zM759 561h1v1h-1zM832 561h1v1h-1zM843 561h1v1h-1zM848 561h1v1h-1zM860 561h1v1h-1zM863 561h1v1h-1zM868 561h1v1h-1zM871 561h1v1h-1zM880 561h1v1h-1zM884 561h1v1h-1zM202 562h1v1h-1zM205 562h1v1h-1zM327 562h1v1h-1zM330 562h1v1h-1zM755 562h1v1h-1zM758 562h1v1h-1zM844 562h1v1h-1zM847 562h1v1h-1zM864 562h1v1h-1zM867 562h1v1h-1zM881 562h1v1h-1zM883 562h1v1h-1zM203 563h2v1h-2zM328 563h2v1h-2zM756 563h2v1h-2zM845 563h2v1h-2zM865 563h2v1h-2zM882 563h1v1h-1zM203 564h2v1h-2zM328 564h2v1h-2zM756 564h2v1h-2zM845 564h2v1h-2zM865 564h2v1h-2zM882 564h1v1h-1zM202 565h1v1h-1zM205 565h1v1h-1zM327 565h1v1h-1zM330 565h1v1h-1zM755 565h1v1h-1zM758 565h1v1h-1zM844 565h1v1h-1zM847 565h1v1h-1zM864 565h1v1h-1zM867 565h1v1h-1zM881 565h1v1h-1zM883 565h1v1h-1zM201 566h1v1h-1zM206 566h1v1h-1zM326 566h1v1h-1zM331 566h1v1h-1zM384 566h1v1h-1zM394 566h1v1h-1zM754 566h1v1h-1zM759 566h1v1h-1zM824 566h1v1h-1zM834 566h1v1h-1zM843 566h1v1h-1zM848 566h1v1h-1zM863 566h2v1h-2zM868 566h1v1h-1zM875 566h1v1h-1zM880 566h1v1h-1zM884 566h1v1h-1zM1087 566h1v1h-1zM1097 566h1v1h-1zM200 567h1v1h-1zM207 567h1v1h-1zM325 567h1v1h-1zM332 567h1v1h-1zM385 567h1v1h-1zM393 567h1v1h-1zM753 567h1v1h-1zM760 567h1v1h-1zM825 567h1v1h-1zM833 567h1v1h-1zM842 567h1v1h-1zM849 567h1v1h-1zM862 567h1v1h-1zM865 567h1v1h-1zM869 567h1v1h-1zM874 567h1v1h-1zM879 567h1v1h-1zM885 567h1v1h-1zM1088 567h1v1h-1zM1096 567h1v1h-1zM199 568h1v1h-1zM208 568h1v1h-1zM324 568h1v1h-1zM333 568h1v1h-1zM386 568h1v1h-1zM392 568h1v1h-1zM752 568h1v1h-1zM761 568h1v1h-1zM826 568h1v1h-1zM832 568h1v1h-1zM841 568h1v1h-1zM850 568h1v1h-1zM861 568h1v1h-1zM866 568h1v1h-1zM870 568h1v1h-1zM873 568h1v1h-1zM878 568h1v1h-1zM886 568h1v1h-1zM1089 568h1v1h-1zM1095 568h1v1h-1zM198 569h1v1h-1zM209 569h1v1h-1zM323 569h1v1h-1zM334 569h1v1h-1zM387 569h1v1h-1zM391 569h1v1h-1zM751 569h1v1h-1zM762 569h1v1h-1zM827 569h1v1h-1zM831 569h1v1h-1zM840 569h1v1h-1zM851 569h1v1h-1zM860 569h1v1h-1zM867 569h1v1h-1zM871 569h2v1h-2zM877 569h1v1h-1zM887 569h1v1h-1zM1090 569h1v1h-1zM1094 569h1v1h-1zM388 570h1v1h-1zM390 570h1v1h-1zM828 570h1v1h-1zM830 570h1v1h-1zM868 570h1v1h-1zM871 570h1v1h-1zM1091 570h1v1h-1zM1093 570h1v1h-1zM389 571h1v1h-1zM829 571h1v1h-1zM869 571h2v1h-2zM1092 571h1v1h-1zM389 572h1v1h-1zM829 572h1v1h-1zM869 572h2v1h-2zM1092 572h1v1h-1zM388 573h1v1h-1zM390 573h1v1h-1zM828 573h1v1h-1zM830 573h1v1h-1zM868 573h1v1h-1zM871 573h1v1h-1zM1091 573h1v1h-1zM1093 573h1v1h-1zM283 574h1v1h-1zM293 574h1v1h-1zM387 574h1v1h-1zM391 574h1v1h-1zM827 574h1v1h-1zM831 574h1v1h-1zM867 574h1v1h-1zM872 574h2v1h-2zM881 574h1v1h-1zM883 574h1v1h-1zM891 574h1v1h-1zM901 574h1v1h-1zM911 574h1v1h-1zM1090 574h1v1h-1zM1094 574h1v1h-1zM284 575h1v1h-1zM292 575h1v1h-1zM386 575h1v1h-1zM392 575h1v1h-1zM826 575h1v1h-1zM832 575h1v1h-1zM866 575h1v1h-1zM873 575h2v1h-2zM882 575h1v1h-1zM890 575h1v1h-1zM902 575h1v1h-1zM910 575h1v1h-1zM1089 575h1v1h-1zM1095 575h1v1h-1zM285 576h1v1h-1zM291 576h1v1h-1zM385 576h1v1h-1zM393 576h1v1h-1zM825 576h1v1h-1zM833 576h1v1h-1zM865 576h1v1h-1zM874 576h2v1h-2zM881 576h1v1h-1zM883 576h1v1h-1zM889 576h1v1h-1zM903 576h1v1h-1zM909 576h1v1h-1zM1088 576h1v1h-1zM1096 576h1v1h-1zM286 577h1v1h-1zM290 577h1v1h-1zM384 577h1v1h-1zM394 577h1v1h-1zM824 577h1v1h-1zM834 577h1v1h-1zM864 577h1v1h-1zM875 577h2v1h-2zM880 577h1v1h-1zM884 577h1v1h-1zM888 577h1v1h-1zM904 577h1v1h-1zM908 577h1v1h-1zM1087 577h1v1h-1zM1097 577h1v1h-1zM287 578h1v1h-1zM289 578h1v1h-1zM877 578h1v1h-1zM879 578h1v1h-1zM885 578h1v1h-1zM887 578h1v1h-1zM905 578h1v1h-1zM907 578h1v1h-1zM288 579h1v1h-1zM878 579h1v1h-1zM886 579h1v1h-1zM906 579h1v1h-1zM288 580h1v1h-1zM878 580h1v1h-1zM886 580h1v1h-1zM906 580h1v1h-1zM287 581h1v1h-1zM289 581h1v1h-1zM877 581h1v1h-1zM879 581h1v1h-1zM885 581h1v1h-1zM887 581h1v1h-1zM905 581h1v1h-1zM907 581h1v1h-1zM286 582h1v1h-1zM290 582h1v1h-1zM687 582h1v1h-1zM697 582h1v1h-1zM731 582h1v1h-1zM742 582h1v1h-1zM856 582h1v1h-1zM867 582h1v1h-1zM876 582h1v1h-1zM880 582h1v1h-1zM884 582h1v1h-1zM888 582h1v1h-1zM904 582h1v1h-1zM908 582h1v1h-1zM1018 582h1v1h-1zM1028 582h1v1h-1zM285 583h1v1h-1zM291 583h1v1h-1zM688 583h1v1h-1zM696 583h1v1h-1zM732 583h1v1h-1zM741 583h1v1h-1zM857 583h1v1h-1zM866 583h1v1h-1zM875 583h1v1h-1zM881 583h1v1h-1zM883 583h1v1h-1zM889 583h1v1h-1zM903 583h1v1h-1zM909 583h1v1h-1zM1019 583h1v1h-1zM1027 583h1v1h-1zM284 584h1v1h-1zM292 584h1v1h-1zM689 584h1v1h-1zM695 584h1v1h-1zM733 584h1v1h-1zM740 584h1v1h-1zM858 584h1v1h-1zM865 584h1v1h-1zM874 584h1v1h-1zM882 584h1v1h-1zM890 584h1v1h-1zM902 584h1v1h-1zM910 584h1v1h-1zM1020 584h1v1h-1zM1026 584h1v1h-1zM283 585h1v1h-1zM293 585h1v1h-1zM690 585h1v1h-1zM694 585h1v1h-1zM734 585h1v1h-1zM739 585h1v1h-1zM859 585h1v1h-1zM864 585h1v1h-1zM873 585h1v1h-1zM881 585h1v1h-1zM883 585h1v1h-1zM891 585h1v1h-1zM901 585h1v1h-1zM911 585h1v1h-1zM1021 585h1v1h-1zM1025 585h1v1h-1zM691 586h1v1h-1zM693 586h1v1h-1zM735 586h1v1h-1zM738 586h1v1h-1zM860 586h1v1h-1zM863 586h1v1h-1zM1022 586h1v1h-1zM1024 586h1v1h-1zM692 587h1v1h-1zM736 587h2v1h-2zM861 587h2v1h-2zM1023 587h1v1h-1zM691 588h1v1h-1zM693 588h1v1h-1zM735 588h1v1h-1zM738 588h1v1h-1zM860 588h1v1h-1zM863 588h1v1h-1zM1022 588h1v1h-1zM1024 588h1v1h-1zM690 589h1v1h-1zM694 589h1v1h-1zM734 589h1v1h-1zM739 589h1v1h-1zM859 589h1v1h-1zM864 589h1v1h-1zM1021 589h1v1h-1zM1025 589h1v1h-1zM659 590h1v1h-1zM669 590h1v1h-1zM689 590h1v1h-1zM695 590h1v1h-1zM733 590h1v1h-1zM740 590h1v1h-1zM828 590h1v1h-1zM839 590h1v1h-1zM852 590h1v1h-1zM858 590h1v1h-1zM863 590h1v1h-1zM865 590h1v1h-1zM897 590h1v1h-1zM907 590h1v1h-1zM913 590h1v1h-1zM923 590h1v1h-1zM1020 590h1v1h-1zM1026 590h1v1h-1zM1054 590h1v1h-1zM1065 590h1v1h-1zM660 591h1v1h-1zM668 591h1v1h-1zM688 591h1v1h-1zM696 591h1v1h-1zM732 591h1v1h-1zM741 591h1v1h-1zM829 591h1v1h-1zM838 591h1v1h-1zM853 591h1v1h-1zM857 591h1v1h-1zM862 591h1v1h-1zM866 591h1v1h-1zM898 591h1v1h-1zM906 591h1v1h-1zM914 591h1v1h-1zM922 591h1v1h-1zM1019 591h1v1h-1zM1027 591h1v1h-1zM1055 591h1v1h-1zM1064 591h1v1h-1zM661 592h1v1h-1zM667 592h1v1h-1zM687 592h1v1h-1zM697 592h1v1h-1zM731 592h1v1h-1zM742 592h1v1h-1zM830 592h1v1h-1zM837 592h1v1h-1zM854 592h1v1h-1zM856 592h1v1h-1zM861 592h1v1h-1zM867 592h1v1h-1zM899 592h1v1h-1zM905 592h1v1h-1zM915 592h1v1h-1zM921 592h1v1h-1zM1018 592h1v1h-1zM1028 592h1v1h-1zM1056 592h1v1h-1zM1063 592h1v1h-1zM662 593h1v1h-1zM666 593h1v1h-1zM831 593h1v1h-1zM836 593h1v1h-1zM855 593h1v1h-1zM860 593h1v1h-1zM900 593h1v1h-1zM904 593h1v1h-1zM916 593h1v1h-1zM920 593h1v1h-1zM1057 593h1v1h-1zM1062 593h1v1h-1zM663 594h1v1h-1zM665 594h1v1h-1zM832 594h1v1h-1zM835 594h1v1h-1zM856 594h1v1h-1zM859 594h1v1h-1zM901 594h1v1h-1zM903 594h1v1h-1zM917 594h1v1h-1zM919 594h1v1h-1zM1058 594h1v1h-1zM1061 594h1v1h-1zM664 595h1v1h-1zM833 595h2v1h-2zM857 595h2v1h-2zM902 595h1v1h-1zM918 595h1v1h-1zM1059 595h2v1h-2zM663 596h1v1h-1zM665 596h1v1h-1zM832 596h1v1h-1zM835 596h1v1h-1zM856 596h1v1h-1zM859 596h1v1h-1zM901 596h1v1h-1zM903 596h1v1h-1zM917 596h1v1h-1zM919 596h1v1h-1zM1058 596h1v1h-1zM1061 596h1v1h-1zM662 597h1v1h-1zM666 597h1v1h-1zM831 597h1v1h-1zM836 597h1v1h-1zM855 597h1v1h-1zM860 597h1v1h-1zM900 597h1v1h-1zM904 597h1v1h-1zM916 597h1v1h-1zM920 597h1v1h-1zM1057 597h1v1h-1zM1062 597h1v1h-1zM661 598h1v1h-1zM667 598h1v1h-1zM735 598h1v1h-1zM746 598h1v1h-1zM808 598h1v1h-1zM818 598h1v1h-1zM830 598h1v1h-1zM837 598h1v1h-1zM854 598h1v1h-1zM861 598h1v1h-1zM899 598h1v1h-1zM905 598h1v1h-1zM915 598h1v1h-1zM921 598h1v1h-1zM982 598h1v1h-1zM992 598h1v1h-1zM1056 598h1v1h-1zM1063 598h1v1h-1zM660 599h1v1h-1zM668 599h1v1h-1zM736 599h1v1h-1zM745 599h1v1h-1zM809 599h1v1h-1zM817 599h1v1h-1zM829 599h1v1h-1zM838 599h1v1h-1zM853 599h1v1h-1zM862 599h1v1h-1zM898 599h1v1h-1zM906 599h1v1h-1zM914 599h1v1h-1zM922 599h1v1h-1zM983 599h1v1h-1zM991 599h1v1h-1zM1055 599h1v1h-1zM1064 599h1v1h-1zM659 600h1v1h-1zM669 600h1v1h-1zM737 600h1v1h-1zM744 600h1v1h-1zM810 600h1v1h-1zM816 600h1v1h-1zM828 600h1v1h-1zM839 600h1v1h-1zM852 600h1v1h-1zM863 600h1v1h-1zM897 600h1v1h-1zM907 600h1v1h-1zM913 600h1v1h-1zM923 600h1v1h-1zM984 600h1v1h-1zM990 600h1v1h-1zM1054 600h1v1h-1zM1065 600h1v1h-1zM738 601h1v1h-1zM743 601h1v1h-1zM811 601h1v1h-1zM815 601h1v1h-1zM985 601h1v1h-1zM989 601h1v1h-1zM739 602h1v1h-1zM742 602h1v1h-1zM812 602h1v1h-1zM814 602h1v1h-1zM986 602h1v1h-1zM988 602h1v1h-1zM740 603h2v1h-2zM813 603h1v1h-1zM987 603h1v1h-1zM739 604h1v1h-1zM742 604h1v1h-1zM812 604h1v1h-1zM814 604h1v1h-1zM986 604h1v1h-1zM988 604h1v1h-1zM738 605h1v1h-1zM743 605h1v1h-1zM811 605h1v1h-1zM815 605h1v1h-1zM985 605h1v1h-1zM989 605h1v1h-1zM158 606h1v1h-1zM168 606h1v1h-1zM737 606h1v1h-1zM744 606h1v1h-1zM768 606h1v1h-1zM778 606h1v1h-1zM810 606h1v1h-1zM816 606h1v1h-1zM984 606h1v1h-1zM990 606h1v1h-1zM159 607h1v1h-1zM167 607h1v1h-1zM736 607h1v1h-1zM745 607h1v1h-1zM769 607h1v1h-1zM777 607h1v1h-1zM809 607h1v1h-1zM817 607h1v1h-1zM983 607h1v1h-1zM991 607h1v1h-1zM160 608h1v1h-1zM166 608h1v1h-1zM735 608h1v1h-1zM746 608h1v1h-1zM770 608h1v1h-1zM776 608h1v1h-1zM808 608h1v1h-1zM818 608h1v1h-1zM982 608h1v1h-1zM992 608h1v1h-1zM161 609h1v1h-1zM165 609h1v1h-1zM771 609h1v1h-1zM775 609h1v1h-1zM162 610h1v1h-1zM164 610h1v1h-1zM772 610h1v1h-1zM774 610h1v1h-1zM163 611h1v1h-1zM773 611h1v1h-1zM162 612h1v1h-1zM164 612h1v1h-1zM772 612h1v1h-1zM774 612h1v1h-1zM161 613h1v1h-1zM165 613h1v1h-1zM771 613h1v1h-1zM775 613h1v1h-1zM160 614h1v1h-1zM166 614h1v1h-1zM679 614h1v1h-1zM689 614h1v1h-1zM751 614h1v1h-1zM762 614h1v1h-1zM770 614h1v1h-1zM776 614h1v1h-1zM159 615h1v1h-1zM167 615h1v1h-1zM680 615h1v1h-1zM688 615h1v1h-1zM752 615h1v1h-1zM761 615h1v1h-1zM769 615h1v1h-1zM777 615h1v1h-1zM158 616h1v1h-1zM168 616h1v1h-1zM681 616h1v1h-1zM687 616h1v1h-1zM753 616h1v1h-1zM760 616h1v1h-1zM768 616h1v1h-1zM778 616h1v1h-1zM682 617h1v1h-1zM686 617h1v1h-1zM754 617h1v1h-1zM759 617h1v1h-1zM683 618h1v1h-1zM685 618h1v1h-1zM755 618h1v1h-1zM758 618h1v1h-1zM684 619h1v1h-1zM756 619h2v1h-2zM683 620h1v1h-1zM685 620h1v1h-1zM755 620h1v1h-1zM758 620h1v1h-1zM682 621h1v1h-1zM686 621h1v1h-1zM754 621h1v1h-1zM759 621h1v1h-1zM681 622h1v1h-1zM687 622h1v1h-1zM747 622h1v1h-1zM753 622h1v1h-1zM758 622h1v1h-1zM760 622h1v1h-1zM772 622h1v1h-1zM782 622h1v1h-1zM881 622h1v1h-1zM891 622h1v1h-1zM897 622h1v1h-1zM907 622h1v1h-1zM680 623h1v1h-1zM688 623h1v1h-1zM748 623h1v1h-1zM752 623h1v1h-1zM757 623h1v1h-1zM761 623h1v1h-1zM773 623h1v1h-1zM781 623h1v1h-1zM882 623h1v1h-1zM890 623h1v1h-1zM898 623h1v1h-1zM906 623h1v1h-1zM679 624h1v1h-1zM689 624h1v1h-1zM749 624h1v1h-1zM751 624h1v1h-1zM756 624h1v1h-1zM762 624h1v1h-1zM774 624h1v1h-1zM780 624h1v1h-1zM883 624h1v1h-1zM889 624h1v1h-1zM899 624h1v1h-1zM905 624h1v1h-1zM750 625h1v1h-1zM755 625h1v1h-1zM775 625h1v1h-1zM779 625h1v1h-1zM884 625h1v1h-1zM888 625h1v1h-1zM900 625h1v1h-1zM904 625h1v1h-1zM751 626h1v1h-1zM754 626h1v1h-1zM776 626h1v1h-1zM778 626h1v1h-1zM885 626h1v1h-1zM887 626h1v1h-1zM901 626h1v1h-1zM903 626h1v1h-1zM752 627h2v1h-2zM777 627h1v1h-1zM886 627h1v1h-1zM902 627h1v1h-1zM751 628h1v1h-1zM754 628h1v1h-1zM776 628h1v1h-1zM778 628h1v1h-1zM885 628h1v1h-1zM887 628h1v1h-1zM901 628h1v1h-1zM903 628h1v1h-1zM750 629h1v1h-1zM755 629h1v1h-1zM775 629h1v1h-1zM779 629h1v1h-1zM884 629h1v1h-1zM888 629h1v1h-1zM900 629h1v1h-1zM904 629h1v1h-1zM618 630h1v1h-1zM629 630h1v1h-1zM749 630h1v1h-1zM756 630h1v1h-1zM774 630h1v1h-1zM780 630h1v1h-1zM848 630h1v1h-1zM859 630h1v1h-1zM881 630h1v1h-1zM883 630h1v1h-1zM889 630h1v1h-1zM891 630h1v1h-1zM899 630h1v1h-1zM901 630h1v1h-1zM905 630h1v1h-1zM911 630h1v1h-1zM619 631h1v1h-1zM628 631h1v1h-1zM748 631h1v1h-1zM757 631h1v1h-1zM773 631h1v1h-1zM781 631h1v1h-1zM849 631h1v1h-1zM858 631h1v1h-1zM882 631h1v1h-1zM890 631h1v1h-1zM898 631h1v1h-1zM902 631h1v1h-1zM906 631h1v1h-1zM910 631h1v1h-1zM620 632h1v1h-1zM627 632h1v1h-1zM747 632h1v1h-1zM758 632h1v1h-1zM772 632h1v1h-1zM782 632h1v1h-1zM850 632h1v1h-1zM857 632h1v1h-1zM881 632h1v1h-1zM883 632h1v1h-1zM889 632h1v1h-1zM891 632h1v1h-1zM897 632h1v1h-1zM903 632h1v1h-1zM907 632h1v1h-1zM909 632h1v1h-1zM621 633h1v1h-1zM626 633h1v1h-1zM851 633h1v1h-1zM856 633h1v1h-1zM884 633h1v1h-1zM888 633h1v1h-1zM904 633h1v1h-1zM908 633h1v1h-1zM622 634h1v1h-1zM625 634h1v1h-1zM852 634h1v1h-1zM855 634h1v1h-1zM885 634h1v1h-1zM887 634h1v1h-1zM905 634h1v1h-1zM907 634h1v1h-1zM623 635h2v1h-2zM853 635h2v1h-2zM886 635h1v1h-1zM906 635h1v1h-1zM622 636h1v1h-1zM625 636h1v1h-1zM852 636h1v1h-1zM855 636h1v1h-1zM885 636h1v1h-1zM887 636h1v1h-1zM905 636h1v1h-1zM907 636h1v1h-1zM621 637h1v1h-1zM626 637h1v1h-1zM851 637h1v1h-1zM856 637h1v1h-1zM884 637h1v1h-1zM888 637h1v1h-1zM904 637h1v1h-1zM908 637h1v1h-1zM620 638h1v1h-1zM627 638h1v1h-1zM723 638h1v1h-1zM734 638h1v1h-1zM804 638h1v1h-1zM814 638h1v1h-1zM828 638h1v1h-1zM839 638h1v1h-1zM850 638h1v1h-1zM857 638h1v1h-1zM883 638h1v1h-1zM889 638h1v1h-1zM903 638h1v1h-1zM909 638h1v1h-1zM619 639h1v1h-1zM628 639h1v1h-1zM724 639h1v1h-1zM733 639h1v1h-1zM805 639h1v1h-1zM813 639h1v1h-1zM829 639h1v1h-1zM838 639h1v1h-1zM849 639h1v1h-1zM858 639h1v1h-1zM882 639h1v1h-1zM890 639h1v1h-1zM902 639h1v1h-1zM910 639h1v1h-1zM618 640h1v1h-1zM629 640h1v1h-1zM725 640h1v1h-1zM732 640h1v1h-1zM806 640h1v1h-1zM812 640h1v1h-1zM830 640h1v1h-1zM837 640h1v1h-1zM848 640h1v1h-1zM859 640h1v1h-1zM881 640h1v1h-1zM891 640h1v1h-1zM901 640h1v1h-1zM911 640h1v1h-1zM726 641h1v1h-1zM731 641h1v1h-1zM807 641h1v1h-1zM811 641h1v1h-1zM831 641h1v1h-1zM836 641h1v1h-1zM727 642h1v1h-1zM730 642h1v1h-1zM808 642h1v1h-1zM810 642h1v1h-1zM832 642h1v1h-1zM835 642h1v1h-1zM728 643h2v1h-2zM809 643h1v1h-1zM833 643h2v1h-2zM727 644h1v1h-1zM730 644h1v1h-1zM808 644h1v1h-1zM810 644h1v1h-1zM832 644h1v1h-1zM835 644h1v1h-1zM726 645h1v1h-1zM731 645h1v1h-1zM807 645h1v1h-1zM811 645h1v1h-1zM831 645h1v1h-1zM836 645h1v1h-1zM699 646h1v1h-1zM709 646h1v1h-1zM725 646h1v1h-1zM732 646h1v1h-1zM735 646h1v1h-1zM746 646h1v1h-1zM780 646h1v1h-1zM788 646h1v1h-1zM790 646h1v1h-1zM792 646h1v1h-1zM798 646h1v1h-1zM802 646h1v1h-1zM806 646h1v1h-1zM812 646h1v1h-1zM820 646h1v1h-1zM830 646h1v1h-1zM837 646h1v1h-1zM844 646h1v1h-1zM855 646h1v1h-1zM864 646h1v1h-1zM875 646h1v1h-1zM885 646h1v1h-1zM895 646h1v1h-1zM909 646h1v1h-1zM919 646h1v1h-1zM700 647h1v1h-1zM708 647h1v1h-1zM724 647h1v1h-1zM733 647h1v1h-1zM736 647h1v1h-1zM745 647h1v1h-1zM781 647h1v1h-1zM789 647h1v1h-1zM793 647h1v1h-1zM797 647h1v1h-1zM801 647h1v1h-1zM805 647h1v1h-1zM813 647h1v1h-1zM821 647h1v1h-1zM829 647h1v1h-1zM838 647h1v1h-1zM845 647h1v1h-1zM854 647h1v1h-1zM865 647h1v1h-1zM874 647h1v1h-1zM886 647h1v1h-1zM894 647h1v1h-1zM910 647h1v1h-1zM918 647h1v1h-1zM701 648h1v1h-1zM707 648h1v1h-1zM723 648h1v1h-1zM734 648h1v1h-1zM737 648h1v1h-1zM744 648h1v1h-1zM782 648h1v1h-1zM788 648h1v1h-1zM790 648h1v1h-1zM794 648h1v1h-1zM796 648h1v1h-1zM800 648h1v1h-1zM804 648h1v1h-1zM814 648h1v1h-1zM822 648h1v1h-1zM828 648h1v1h-1zM839 648h1v1h-1zM846 648h1v1h-1zM853 648h1v1h-1zM866 648h1v1h-1zM873 648h1v1h-1zM887 648h1v1h-1zM893 648h1v1h-1zM911 648h1v1h-1zM917 648h1v1h-1zM702 649h1v1h-1zM706 649h1v1h-1zM738 649h1v1h-1zM743 649h1v1h-1zM783 649h1v1h-1zM787 649h1v1h-1zM791 649h1v1h-1zM795 649h1v1h-1zM799 649h1v1h-1zM823 649h1v1h-1zM827 649h1v1h-1zM847 649h1v1h-1zM852 649h1v1h-1zM867 649h1v1h-1zM872 649h1v1h-1zM888 649h1v1h-1zM892 649h1v1h-1zM912 649h1v1h-1zM916 649h1v1h-1zM703 650h1v1h-1zM705 650h1v1h-1zM739 650h1v1h-1zM742 650h1v1h-1zM784 650h1v1h-1zM786 650h1v1h-1zM792 650h1v1h-1zM794 650h1v1h-1zM796 650h1v1h-1zM798 650h1v1h-1zM824 650h1v1h-1zM826 650h1v1h-1zM848 650h1v1h-1zM851 650h1v1h-1zM868 650h1v1h-1zM871 650h1v1h-1zM889 650h1v1h-1zM891 650h1v1h-1zM913 650h1v1h-1zM915 650h1v1h-1zM704 651h1v1h-1zM740 651h2v1h-2zM785 651h1v1h-1zM793 651h1v1h-1zM797 651h1v1h-1zM825 651h1v1h-1zM849 651h2v1h-2zM869 651h2v1h-2zM890 651h1v1h-1zM914 651h1v1h-1zM703 652h1v1h-1zM705 652h1v1h-1zM739 652h1v1h-1zM742 652h1v1h-1zM784 652h1v1h-1zM786 652h1v1h-1zM792 652h1v1h-1zM794 652h1v1h-1zM796 652h1v1h-1zM798 652h1v1h-1zM824 652h1v1h-1zM826 652h1v1h-1zM848 652h1v1h-1zM851 652h1v1h-1zM868 652h1v1h-1zM871 652h1v1h-1zM889 652h1v1h-1zM891 652h1v1h-1zM913 652h1v1h-1zM915 652h1v1h-1zM702 653h1v1h-1zM706 653h1v1h-1zM738 653h1v1h-1zM743 653h1v1h-1zM783 653h1v1h-1zM787 653h1v1h-1zM791 653h1v1h-1zM795 653h1v1h-1zM799 653h1v1h-1zM823 653h1v1h-1zM827 653h1v1h-1zM847 653h1v1h-1zM852 653h1v1h-1zM867 653h1v1h-1zM872 653h1v1h-1zM888 653h1v1h-1zM892 653h1v1h-1zM912 653h1v1h-1zM916 653h1v1h-1zM701 654h1v1h-1zM707 654h1v1h-1zM727 654h1v1h-1zM737 654h2v1h-2zM744 654h1v1h-1zM782 654h1v1h-1zM788 654h1v1h-1zM790 654h1v1h-1zM794 654h1v1h-1zM796 654h1v1h-1zM800 654h1v1h-1zM822 654h1v1h-1zM828 654h1v1h-1zM846 654h1v1h-1zM853 654h1v1h-1zM866 654h1v1h-1zM873 654h1v1h-1zM887 654h1v1h-1zM893 654h1v1h-1zM911 654h1v1h-1zM917 654h1v1h-1zM700 655h1v1h-1zM708 655h1v1h-1zM728 655h1v1h-1zM736 655h2v1h-2zM745 655h1v1h-1zM781 655h1v1h-1zM789 655h1v1h-1zM793 655h1v1h-1zM797 655h1v1h-1zM801 655h1v1h-1zM821 655h1v1h-1zM829 655h1v1h-1zM845 655h1v1h-1zM854 655h1v1h-1zM865 655h1v1h-1zM874 655h1v1h-1zM886 655h1v1h-1zM894 655h1v1h-1zM910 655h1v1h-1zM918 655h1v1h-1zM699 656h1v1h-1zM709 656h1v1h-1zM729 656h1v1h-1zM735 656h2v1h-2zM746 656h1v1h-1zM780 656h1v1h-1zM788 656h1v1h-1zM790 656h1v1h-1zM792 656h1v1h-1zM798 656h1v1h-1zM802 656h1v1h-1zM820 656h1v1h-1zM830 656h1v1h-1zM844 656h1v1h-1zM855 656h1v1h-1zM864 656h1v1h-1zM875 656h1v1h-1zM885 656h1v1h-1zM895 656h1v1h-1zM909 656h1v1h-1zM919 656h1v1h-1zM730 657h1v1h-1zM735 657h1v1h-1zM731 658h1v1h-1zM734 658h1v1h-1zM732 659h2v1h-2zM731 660h1v1h-1zM734 660h1v1h-1zM730 661h1v1h-1zM735 661h1v1h-1zM687 662h1v1h-1zM697 662h1v1h-1zM729 662h1v1h-1zM736 662h1v1h-1zM739 662h1v1h-1zM750 662h1v1h-1zM844 662h1v1h-1zM855 662h1v1h-1zM688 663h1v1h-1zM696 663h1v1h-1zM728 663h1v1h-1zM737 663h1v1h-1zM740 663h1v1h-1zM749 663h1v1h-1zM845 663h1v1h-1zM854 663h1v1h-1zM689 664h1v1h-1zM695 664h1v1h-1zM727 664h1v1h-1zM738 664h1v1h-1zM741 664h1v1h-1zM748 664h1v1h-1zM846 664h1v1h-1zM853 664h1v1h-1zM690 665h1v1h-1zM694 665h1v1h-1zM742 665h1v1h-1zM747 665h1v1h-1zM847 665h1v1h-1zM852 665h1v1h-1zM691 666h1v1h-1zM693 666h1v1h-1zM743 666h1v1h-1zM746 666h1v1h-1zM848 666h1v1h-1zM851 666h1v1h-1zM692 667h1v1h-1zM744 667h2v1h-2zM849 667h2v1h-2zM691 668h1v1h-1zM693 668h1v1h-1zM743 668h1v1h-1zM746 668h1v1h-1zM848 668h1v1h-1zM851 668h1v1h-1zM690 669h1v1h-1zM694 669h1v1h-1zM742 669h1v1h-1zM747 669h1v1h-1zM847 669h1v1h-1zM852 669h1v1h-1zM545 670h1v1h-1zM556 670h1v1h-1zM659 670h1v1h-1zM669 670h1v1h-1zM689 670h1v1h-1zM695 670h1v1h-1zM741 670h1v1h-1zM748 670h1v1h-1zM846 670h1v1h-1zM853 670h1v1h-1zM546 671h1v1h-1zM555 671h1v1h-1zM660 671h1v1h-1zM668 671h1v1h-1zM688 671h1v1h-1zM696 671h1v1h-1zM740 671h1v1h-1zM749 671h1v1h-1zM845 671h1v1h-1zM854 671h1v1h-1zM547 672h1v1h-1zM554 672h1v1h-1zM661 672h1v1h-1zM667 672h1v1h-1zM687 672h1v1h-1zM697 672h1v1h-1zM739 672h1v1h-1zM750 672h1v1h-1zM844 672h1v1h-1zM855 672h1v1h-1zM548 673h1v1h-1zM553 673h1v1h-1zM662 673h1v1h-1zM666 673h1v1h-1zM549 674h1v1h-1zM552 674h1v1h-1zM663 674h1v1h-1zM665 674h1v1h-1zM550 675h2v1h-2zM664 675h1v1h-1zM549 676h1v1h-1zM552 676h1v1h-1zM663 676h1v1h-1zM665 676h1v1h-1zM548 677h1v1h-1zM553 677h1v1h-1zM662 677h1v1h-1zM666 677h1v1h-1zM547 678h1v1h-1zM554 678h1v1h-1zM661 678h1v1h-1zM667 678h1v1h-1zM695 678h1v1h-1zM705 678h1v1h-1zM711 678h1v1h-1zM721 678h1v1h-1zM755 678h1v1h-1zM766 678h1v1h-1zM776 678h1v1h-1zM786 678h1v1h-1zM816 678h1v1h-1zM826 678h1v1h-1zM546 679h1v1h-1zM555 679h1v1h-1zM660 679h1v1h-1zM668 679h1v1h-1zM696 679h1v1h-1zM704 679h1v1h-1zM712 679h1v1h-1zM720 679h1v1h-1zM756 679h1v1h-1zM765 679h1v1h-1zM777 679h1v1h-1zM785 679h1v1h-1zM817 679h1v1h-1zM825 679h1v1h-1zM545 680h1v1h-1zM556 680h1v1h-1zM659 680h1v1h-1zM669 680h1v1h-1zM697 680h1v1h-1zM703 680h1v1h-1zM713 680h1v1h-1zM719 680h1v1h-1zM757 680h1v1h-1zM764 680h1v1h-1zM778 680h1v1h-1zM784 680h1v1h-1zM818 680h1v1h-1zM824 680h1v1h-1zM698 681h1v1h-1zM702 681h1v1h-1zM714 681h1v1h-1zM718 681h1v1h-1zM758 681h1v1h-1zM763 681h1v1h-1zM779 681h1v1h-1zM783 681h1v1h-1zM819 681h1v1h-1zM823 681h1v1h-1zM699 682h1v1h-1zM701 682h1v1h-1zM715 682h1v1h-1zM717 682h1v1h-1zM759 682h1v1h-1zM762 682h1v1h-1zM780 682h1v1h-1zM782 682h1v1h-1zM820 682h1v1h-1zM822 682h1v1h-1zM700 683h1v1h-1zM716 683h1v1h-1zM760 683h2v1h-2zM781 683h1v1h-1zM821 683h1v1h-1zM699 684h1v1h-1zM701 684h1v1h-1zM715 684h1v1h-1zM717 684h1v1h-1zM759 684h1v1h-1zM762 684h1v1h-1zM780 684h1v1h-1zM782 684h1v1h-1zM820 684h1v1h-1zM822 684h1v1h-1zM698 685h1v1h-1zM702 685h1v1h-1zM714 685h1v1h-1zM718 685h1v1h-1zM758 685h1v1h-1zM763 685h1v1h-1zM779 685h1v1h-1zM783 685h1v1h-1zM819 685h1v1h-1zM823 685h1v1h-1zM606 686h1v1h-1zM616 686h1v1h-1zM683 686h1v1h-1zM693 686h1v1h-1zM697 686h1v1h-1zM699 686h1v1h-1zM703 686h1v1h-1zM709 686h1v1h-1zM713 686h1v1h-1zM719 686h1v1h-1zM727 686h1v1h-1zM738 686h2v1h-2zM750 686h1v1h-1zM757 686h1v1h-1zM764 686h1v1h-1zM778 686h1v1h-1zM784 686h1v1h-1zM794 686h1v1h-1zM818 686h1v1h-1zM824 686h1v1h-1zM844 686h1v1h-1zM855 686h1v1h-1zM607 687h1v1h-1zM615 687h1v1h-1zM684 687h1v1h-1zM692 687h1v1h-1zM696 687h1v1h-1zM700 687h1v1h-1zM704 687h1v1h-1zM708 687h1v1h-1zM712 687h1v1h-1zM720 687h1v1h-1zM728 687h1v1h-1zM737 687h1v1h-1zM740 687h1v1h-1zM749 687h1v1h-1zM756 687h1v1h-1zM765 687h1v1h-1zM777 687h1v1h-1zM785 687h1v1h-1zM793 687h1v1h-1zM817 687h1v1h-1zM825 687h1v1h-1zM845 687h1v1h-1zM854 687h1v1h-1zM608 688h1v1h-1zM614 688h1v1h-1zM685 688h1v1h-1zM691 688h1v1h-1zM695 688h1v1h-1zM701 688h1v1h-1zM705 688h1v1h-1zM707 688h1v1h-1zM711 688h1v1h-1zM721 688h1v1h-1zM729 688h1v1h-1zM736 688h1v1h-1zM741 688h1v1h-1zM748 688h1v1h-1zM755 688h1v1h-1zM766 688h1v1h-1zM776 688h1v1h-1zM786 688h1v1h-1zM792 688h1v1h-1zM816 688h1v1h-1zM826 688h1v1h-1zM846 688h1v1h-1zM853 688h1v1h-1zM609 689h1v1h-1zM613 689h1v1h-1zM686 689h1v1h-1zM690 689h1v1h-1zM702 689h1v1h-1zM706 689h1v1h-1zM730 689h1v1h-1zM735 689h1v1h-1zM742 689h1v1h-1zM747 689h1v1h-1zM787 689h1v1h-1zM791 689h1v1h-1zM847 689h1v1h-1zM852 689h1v1h-1zM610 690h1v1h-1zM612 690h1v1h-1zM687 690h1v1h-1zM689 690h1v1h-1zM703 690h1v1h-1zM705 690h1v1h-1zM731 690h1v1h-1zM734 690h1v1h-1zM743 690h1v1h-1zM746 690h1v1h-1zM788 690h1v1h-1zM790 690h1v1h-1zM848 690h1v1h-1zM851 690h1v1h-1zM611 691h1v1h-1zM688 691h1v1h-1zM704 691h1v1h-1zM732 691h2v1h-2zM744 691h2v1h-2zM789 691h1v1h-1zM849 691h2v1h-2zM610 692h1v1h-1zM612 692h1v1h-1zM687 692h1v1h-1zM689 692h1v1h-1zM703 692h1v1h-1zM705 692h1v1h-1zM731 692h1v1h-1zM734 692h1v1h-1zM743 692h1v1h-1zM746 692h1v1h-1zM788 692h1v1h-1zM790 692h1v1h-1zM848 692h1v1h-1zM851 692h1v1h-1zM609 693h1v1h-1zM613 693h1v1h-1zM686 693h1v1h-1zM690 693h1v1h-1zM702 693h1v1h-1zM706 693h1v1h-1zM730 693h1v1h-1zM735 693h1v1h-1zM742 693h1v1h-1zM747 693h1v1h-1zM787 693h1v1h-1zM791 693h1v1h-1zM847 693h1v1h-1zM852 693h1v1h-1zM608 694h1v1h-1zM614 694h1v1h-1zM625 694h1v1h-1zM683 694h1v1h-1zM685 694h1v1h-1zM691 694h1v1h-1zM693 694h1v1h-1zM701 694h1v1h-1zM707 694h1v1h-1zM727 694h1v1h-1zM729 694h1v1h-1zM736 694h1v1h-1zM738 694h2v1h-2zM741 694h1v1h-1zM748 694h1v1h-1zM750 694h1v1h-1zM786 694h1v1h-1zM792 694h1v1h-1zM816 694h1v1h-1zM826 694h1v1h-1zM846 694h1v1h-1zM853 694h1v1h-1zM607 695h1v1h-1zM615 695h1v1h-1zM624 695h1v1h-1zM684 695h1v1h-1zM692 695h1v1h-1zM700 695h1v1h-1zM708 695h1v1h-1zM728 695h1v1h-1zM737 695h1v1h-1zM740 695h1v1h-1zM749 695h1v1h-1zM785 695h1v1h-1zM793 695h1v1h-1zM817 695h1v1h-1zM825 695h1v1h-1zM845 695h1v1h-1zM854 695h1v1h-1zM606 696h1v1h-1zM616 696h1v1h-1zM623 696h1v1h-1zM683 696h1v1h-1zM685 696h1v1h-1zM691 696h1v1h-1zM693 696h1v1h-1zM699 696h1v1h-1zM709 696h1v1h-1zM727 696h1v1h-1zM729 696h1v1h-1zM736 696h1v1h-1zM738 696h2v1h-2zM741 696h1v1h-1zM748 696h1v1h-1zM750 696h1v1h-1zM784 696h1v1h-1zM794 696h1v1h-1zM818 696h1v1h-1zM824 696h1v1h-1zM844 696h1v1h-1zM855 696h1v1h-1zM617 697h1v1h-1zM622 697h1v1h-1zM686 697h1v1h-1zM690 697h1v1h-1zM730 697h1v1h-1zM735 697h1v1h-1zM742 697h1v1h-1zM747 697h1v1h-1zM819 697h1v1h-1zM823 697h1v1h-1zM618 698h1v1h-1zM621 698h1v1h-1zM687 698h1v1h-1zM689 698h1v1h-1zM731 698h1v1h-1zM734 698h1v1h-1zM743 698h1v1h-1zM746 698h1v1h-1zM820 698h1v1h-1zM822 698h1v1h-1zM619 699h2v1h-2zM688 699h1v1h-1zM732 699h2v1h-2zM744 699h2v1h-2zM821 699h1v1h-1zM618 700h1v1h-1zM621 700h1v1h-1zM687 700h1v1h-1zM689 700h1v1h-1zM731 700h1v1h-1zM734 700h1v1h-1zM743 700h1v1h-1zM746 700h1v1h-1zM820 700h1v1h-1zM822 700h1v1h-1zM617 701h1v1h-1zM622 701h1v1h-1zM686 701h1v1h-1zM690 701h1v1h-1zM730 701h1v1h-1zM735 701h1v1h-1zM742 701h1v1h-1zM747 701h1v1h-1zM819 701h1v1h-1zM823 701h1v1h-1zM616 702h1v1h-1zM623 702h1v1h-1zM659 702h1v1h-1zM669 702h1v1h-1zM685 702h1v1h-1zM691 702h1v1h-1zM729 702h1v1h-1zM736 702h1v1h-1zM741 702h1v1h-1zM748 702h1v1h-1zM751 702h1v1h-1zM762 702h1v1h-1zM808 702h1v1h-1zM818 702h1v1h-1zM824 702h1v1h-1zM889 702h1v1h-1zM899 702h1v1h-1zM615 703h1v1h-1zM624 703h1v1h-1zM660 703h1v1h-1zM668 703h1v1h-1zM684 703h1v1h-1zM692 703h1v1h-1zM728 703h1v1h-1zM737 703h1v1h-1zM740 703h1v1h-1zM749 703h1v1h-1zM752 703h1v1h-1zM761 703h1v1h-1zM809 703h1v1h-1zM817 703h1v1h-1zM825 703h1v1h-1zM890 703h1v1h-1zM898 703h1v1h-1zM614 704h1v1h-1zM625 704h1v1h-1zM661 704h1v1h-1zM667 704h1v1h-1zM683 704h1v1h-1zM693 704h1v1h-1zM727 704h1v1h-1zM738 704h2v1h-2zM750 704h1v1h-1zM753 704h1v1h-1zM760 704h1v1h-1zM810 704h1v1h-1zM816 704h1v1h-1zM826 704h1v1h-1zM891 704h1v1h-1zM897 704h1v1h-1zM662 705h1v1h-1zM666 705h1v1h-1zM754 705h1v1h-1zM759 705h1v1h-1zM811 705h1v1h-1zM815 705h1v1h-1zM892 705h1v1h-1zM896 705h1v1h-1zM663 706h1v1h-1zM665 706h1v1h-1zM755 706h1v1h-1zM758 706h1v1h-1zM812 706h1v1h-1zM814 706h1v1h-1zM893 706h1v1h-1zM895 706h1v1h-1zM664 707h1v1h-1zM756 707h2v1h-2zM813 707h1v1h-1zM894 707h1v1h-1zM663 708h1v1h-1zM665 708h1v1h-1zM755 708h1v1h-1zM758 708h1v1h-1zM812 708h1v1h-1zM814 708h1v1h-1zM893 708h1v1h-1zM895 708h1v1h-1zM662 709h1v1h-1zM666 709h1v1h-1zM754 709h1v1h-1zM759 709h1v1h-1zM811 709h1v1h-1zM815 709h1v1h-1zM892 709h1v1h-1zM896 709h1v1h-1zM590 710h1v1h-1zM600 710h1v1h-1zM618 710h1v1h-1zM629 710h1v1h-1zM661 710h1v1h-1zM667 710h1v1h-1zM711 710h1v1h-1zM721 710h1v1h-1zM743 710h1v1h-1zM753 710h2v1h-2zM760 710h1v1h-1zM780 710h1v1h-1zM790 710h1v1h-1zM810 710h1v1h-1zM816 710h1v1h-1zM891 710h1v1h-1zM897 710h1v1h-1zM933 710h1v1h-1zM943 710h1v1h-1zM591 711h1v1h-1zM599 711h1v1h-1zM619 711h1v1h-1zM628 711h1v1h-1zM660 711h1v1h-1zM668 711h1v1h-1zM712 711h1v1h-1zM720 711h1v1h-1zM744 711h1v1h-1zM752 711h2v1h-2zM761 711h1v1h-1zM781 711h1v1h-1zM789 711h1v1h-1zM809 711h1v1h-1zM817 711h1v1h-1zM890 711h1v1h-1zM898 711h1v1h-1zM934 711h1v1h-1zM942 711h1v1h-1zM592 712h1v1h-1zM598 712h1v1h-1zM620 712h1v1h-1zM627 712h1v1h-1zM659 712h1v1h-1zM669 712h1v1h-1zM713 712h1v1h-1zM719 712h1v1h-1zM745 712h1v1h-1zM751 712h2v1h-2zM762 712h1v1h-1zM782 712h1v1h-1zM788 712h1v1h-1zM808 712h1v1h-1zM818 712h1v1h-1zM889 712h1v1h-1zM899 712h1v1h-1zM935 712h1v1h-1zM941 712h1v1h-1zM593 713h1v1h-1zM597 713h1v1h-1zM621 713h1v1h-1zM626 713h1v1h-1zM714 713h1v1h-1zM718 713h1v1h-1zM746 713h1v1h-1zM751 713h1v1h-1zM783 713h1v1h-1zM787 713h1v1h-1zM936 713h1v1h-1zM940 713h1v1h-1zM594 714h1v1h-1zM596 714h1v1h-1zM622 714h1v1h-1zM625 714h1v1h-1zM715 714h1v1h-1zM717 714h1v1h-1zM747 714h1v1h-1zM750 714h1v1h-1zM784 714h1v1h-1zM786 714h1v1h-1zM937 714h1v1h-1zM939 714h1v1h-1zM595 715h1v1h-1zM623 715h2v1h-2zM716 715h1v1h-1zM748 715h2v1h-2zM785 715h1v1h-1zM938 715h1v1h-1zM594 716h1v1h-1zM596 716h1v1h-1zM622 716h1v1h-1zM625 716h1v1h-1zM715 716h1v1h-1zM717 716h1v1h-1zM747 716h1v1h-1zM750 716h1v1h-1zM784 716h1v1h-1zM786 716h1v1h-1zM937 716h1v1h-1zM939 716h1v1h-1zM593 717h1v1h-1zM597 717h1v1h-1zM621 717h1v1h-1zM626 717h1v1h-1zM714 717h1v1h-1zM718 717h1v1h-1zM727 717h1v1h-1zM738 717h1v1h-1zM746 717h1v1h-1zM751 717h1v1h-1zM783 717h1v1h-1zM787 717h1v1h-1zM820 717h1v1h-1zM828 717h1v1h-1zM830 717h1v1h-1zM839 717h1v1h-1zM936 717h1v1h-1zM940 717h1v1h-1zM592 718h1v1h-1zM598 718h1v1h-1zM620 718h1v1h-1zM627 718h1v1h-1zM713 718h1v1h-1zM719 718h1v1h-1zM728 718h1v1h-1zM737 718h1v1h-1zM745 718h1v1h-1zM752 718h1v1h-1zM782 718h1v1h-1zM788 718h1v1h-1zM821 718h1v1h-1zM829 718h1v1h-1zM838 718h1v1h-1zM935 718h1v1h-1zM941 718h1v1h-1zM591 719h1v1h-1zM599 719h1v1h-1zM619 719h1v1h-1zM628 719h1v1h-1zM712 719h1v1h-1zM720 719h1v1h-1zM729 719h1v1h-1zM736 719h1v1h-1zM744 719h1v1h-1zM753 719h1v1h-1zM781 719h1v1h-1zM789 719h1v1h-1zM822 719h1v1h-1zM828 719h1v1h-1zM830 719h1v1h-1zM837 719h1v1h-1zM934 719h1v1h-1zM942 719h1v1h-1zM590 720h1v1h-1zM600 720h1v1h-1zM618 720h1v1h-1zM629 720h1v1h-1zM711 720h1v1h-1zM721 720h1v1h-1zM730 720h1v1h-1zM735 720h1v1h-1zM743 720h1v1h-1zM754 720h1v1h-1zM780 720h1v1h-1zM790 720h1v1h-1zM823 720h1v1h-1zM827 720h1v1h-1zM831 720h1v1h-1zM836 720h1v1h-1zM933 720h1v1h-1zM943 720h1v1h-1zM731 721h1v1h-1zM734 721h1v1h-1zM824 721h1v1h-1zM826 721h1v1h-1zM832 721h1v1h-1zM835 721h1v1h-1zM732 722h2v1h-2zM825 722h1v1h-1zM833 722h2v1h-2zM732 723h2v1h-2zM825 723h1v1h-1zM833 723h2v1h-2zM731 724h1v1h-1zM734 724h1v1h-1zM824 724h1v1h-1zM826 724h1v1h-1zM832 724h1v1h-1zM835 724h1v1h-1zM610 725h1v1h-1zM620 725h1v1h-1zM730 725h1v1h-1zM735 725h1v1h-1zM780 725h1v1h-1zM790 725h1v1h-1zM823 725h1v1h-1zM827 725h1v1h-1zM831 725h1v1h-1zM836 725h1v1h-1zM611 726h1v1h-1zM619 726h1v1h-1zM729 726h1v1h-1zM736 726h1v1h-1zM781 726h1v1h-1zM789 726h1v1h-1zM822 726h1v1h-1zM828 726h1v1h-1zM830 726h1v1h-1zM837 726h1v1h-1zM612 727h1v1h-1zM618 727h1v1h-1zM728 727h1v1h-1zM737 727h1v1h-1zM782 727h1v1h-1zM788 727h1v1h-1zM821 727h1v1h-1zM829 727h1v1h-1zM838 727h1v1h-1zM613 728h1v1h-1zM617 728h1v1h-1zM727 728h1v1h-1zM738 728h1v1h-1zM783 728h1v1h-1zM787 728h1v1h-1zM820 728h1v1h-1zM828 728h1v1h-1zM830 728h1v1h-1zM839 728h1v1h-1zM614 729h1v1h-1zM616 729h1v1h-1zM784 729h1v1h-1zM786 729h1v1h-1zM615 730h1v1h-1zM785 730h1v1h-1zM615 731h1v1h-1zM785 731h1v1h-1zM614 732h1v1h-1zM616 732h1v1h-1zM784 732h1v1h-1zM786 732h1v1h-1zM613 733h1v1h-1zM617 733h1v1h-1zM622 733h1v1h-1zM630 733h1v1h-1zM633 733h1v1h-1zM641 733h1v1h-1zM699 733h1v1h-1zM707 733h1v1h-1zM709 733h1v1h-1zM717 733h1v1h-1zM783 733h1v1h-1zM787 733h1v1h-1zM612 734h1v1h-1zM618 734h1v1h-1zM623 734h1v1h-1zM631 734h2v1h-2zM640 734h1v1h-1zM700 734h1v1h-1zM708 734h1v1h-1zM716 734h1v1h-1zM782 734h1v1h-1zM788 734h1v1h-1zM611 735h1v1h-1zM619 735h1v1h-1zM624 735h1v1h-1zM631 735h2v1h-2zM639 735h1v1h-1zM701 735h1v1h-1zM707 735h1v1h-1zM709 735h1v1h-1zM715 735h1v1h-1zM781 735h1v1h-1zM789 735h1v1h-1zM610 736h1v1h-1zM620 736h1v1h-1zM625 736h1v1h-1zM630 736h1v1h-1zM633 736h1v1h-1zM638 736h1v1h-1zM702 736h1v1h-1zM706 736h1v1h-1zM710 736h1v1h-1zM714 736h1v1h-1zM780 736h1v1h-1zM790 736h1v1h-1zM626 737h1v1h-1zM629 737h1v1h-1zM634 737h1v1h-1zM637 737h1v1h-1zM703 737h1v1h-1zM705 737h1v1h-1zM711 737h1v1h-1zM713 737h1v1h-1zM627 738h2v1h-2zM635 738h2v1h-2zM704 738h1v1h-1zM712 738h1v1h-1zM627 739h2v1h-2zM635 739h2v1h-2zM704 739h1v1h-1zM712 739h1v1h-1zM626 740h1v1h-1zM629 740h1v1h-1zM634 740h1v1h-1zM637 740h1v1h-1zM703 740h1v1h-1zM705 740h1v1h-1zM711 740h1v1h-1zM713 740h1v1h-1zM625 741h1v1h-1zM630 741h1v1h-1zM633 741h1v1h-1zM638 741h1v1h-1zM675 741h1v1h-1zM685 741h1v1h-1zM687 741h1v1h-1zM691 741h1v1h-1zM697 741h1v1h-1zM701 741h2v1h-2zM706 741h1v1h-1zM710 741h1v1h-1zM714 741h1v1h-1zM772 741h1v1h-1zM782 741h1v1h-1zM624 742h1v1h-1zM631 742h2v1h-2zM639 742h1v1h-1zM676 742h1v1h-1zM684 742h1v1h-1zM688 742h1v1h-1zM692 742h1v1h-1zM696 742h1v1h-1zM700 742h2v1h-2zM707 742h1v1h-1zM709 742h1v1h-1zM715 742h1v1h-1zM773 742h1v1h-1zM781 742h1v1h-1zM623 743h1v1h-1zM631 743h2v1h-2zM640 743h1v1h-1zM677 743h1v1h-1zM683 743h1v1h-1zM689 743h1v1h-1zM693 743h1v1h-1zM695 743h1v1h-1zM699 743h2v1h-2zM708 743h1v1h-1zM716 743h1v1h-1zM774 743h1v1h-1zM780 743h1v1h-1zM622 744h1v1h-1zM630 744h1v1h-1zM633 744h1v1h-1zM641 744h1v1h-1zM678 744h1v1h-1zM682 744h1v1h-1zM690 744h1v1h-1zM694 744h1v1h-1zM698 744h2v1h-2zM707 744h1v1h-1zM709 744h1v1h-1zM717 744h1v1h-1zM775 744h1v1h-1zM779 744h1v1h-1zM679 745h1v1h-1zM681 745h1v1h-1zM691 745h1v1h-1zM693 745h1v1h-1zM695 745h1v1h-1zM697 745h1v1h-1zM776 745h1v1h-1zM778 745h1v1h-1zM680 746h1v1h-1zM692 746h1v1h-1zM696 746h1v1h-1zM777 746h1v1h-1zM680 747h1v1h-1zM692 747h1v1h-1zM696 747h1v1h-1zM777 747h1v1h-1zM679 748h1v1h-1zM681 748h1v1h-1zM691 748h1v1h-1zM693 748h1v1h-1zM695 748h1v1h-1zM697 748h1v1h-1zM776 748h1v1h-1zM778 748h1v1h-1zM513 749h1v1h-1zM524 749h1v1h-1zM582 749h1v1h-1zM586 749h1v1h-1zM592 749h1v1h-1zM596 749h1v1h-1zM678 749h1v1h-1zM682 749h1v1h-1zM690 749h2v1h-2zM694 749h1v1h-1zM698 749h2v1h-2zM701 749h1v1h-1zM709 749h1v1h-1zM768 749h1v1h-1zM775 749h1v1h-1zM778 749h2v1h-2zM514 750h1v1h-1zM523 750h1v1h-1zM583 750h1v1h-1zM587 750h1v1h-1zM591 750h1v1h-1zM595 750h1v1h-1zM677 750h1v1h-1zM683 750h1v1h-1zM689 750h1v1h-1zM692 750h2v1h-2zM695 750h1v1h-1zM699 750h2v1h-2zM708 750h1v1h-1zM769 750h1v1h-1zM774 750h1v1h-1zM777 750h1v1h-1zM780 750h1v1h-1zM515 751h1v1h-1zM522 751h1v1h-1zM584 751h1v1h-1zM588 751h1v1h-1zM590 751h1v1h-1zM594 751h1v1h-1zM676 751h1v1h-1zM684 751h1v1h-1zM688 751h1v1h-1zM692 751h2v1h-2zM696 751h1v1h-1zM699 751h3v1h-3zM707 751h1v1h-1zM770 751h1v1h-1zM773 751h1v1h-1zM776 751h1v1h-1zM781 751h1v1h-1zM516 752h1v1h-1zM521 752h1v1h-1zM585 752h1v1h-1zM589 752h1v1h-1zM593 752h1v1h-1zM675 752h1v1h-1zM685 752h1v1h-1zM687 752h1v1h-1zM691 752h1v1h-1zM694 752h1v1h-1zM697 752h2v1h-2zM701 752h2v1h-2zM706 752h1v1h-1zM771 752h2v1h-2zM775 752h1v1h-1zM782 752h1v1h-1zM517 753h1v1h-1zM520 753h1v1h-1zM586 753h1v1h-1zM588 753h1v1h-1zM590 753h1v1h-1zM592 753h1v1h-1zM695 753h1v1h-1zM697 753h1v1h-1zM703 753h1v1h-1zM705 753h1v1h-1zM772 753h1v1h-1zM774 753h1v1h-1zM518 754h2v1h-2zM587 754h1v1h-1zM591 754h1v1h-1zM696 754h1v1h-1zM704 754h1v1h-1zM773 754h1v1h-1zM518 755h2v1h-2zM587 755h1v1h-1zM591 755h1v1h-1zM696 755h1v1h-1zM704 755h1v1h-1zM773 755h1v1h-1zM517 756h1v1h-1zM520 756h1v1h-1zM586 756h1v1h-1zM588 756h1v1h-1zM590 756h1v1h-1zM592 756h1v1h-1zM695 756h1v1h-1zM697 756h1v1h-1zM703 756h1v1h-1zM705 756h1v1h-1zM772 756h1v1h-1zM774 756h1v1h-1zM516 757h1v1h-1zM521 757h1v1h-1zM585 757h1v1h-1zM589 757h1v1h-1zM593 757h1v1h-1zM638 757h1v1h-1zM649 757h1v1h-1zM694 757h1v1h-1zM698 757h1v1h-1zM702 757h1v1h-1zM706 757h1v1h-1zM771 757h1v1h-1zM775 757h1v1h-1zM515 758h1v1h-1zM522 758h1v1h-1zM584 758h1v1h-1zM588 758h1v1h-1zM590 758h1v1h-1zM594 758h1v1h-1zM639 758h1v1h-1zM648 758h1v1h-1zM693 758h1v1h-1zM699 758h1v1h-1zM701 758h1v1h-1zM707 758h1v1h-1zM770 758h1v1h-1zM776 758h1v1h-1zM514 759h1v1h-1zM523 759h1v1h-1zM583 759h1v1h-1zM587 759h1v1h-1zM591 759h1v1h-1zM595 759h1v1h-1zM640 759h1v1h-1zM647 759h1v1h-1zM692 759h1v1h-1zM700 759h1v1h-1zM708 759h1v1h-1zM769 759h1v1h-1zM777 759h1v1h-1zM513 760h1v1h-1zM524 760h1v1h-1zM582 760h1v1h-1zM586 760h1v1h-1zM592 760h1v1h-1zM596 760h1v1h-1zM641 760h1v1h-1zM646 760h1v1h-1zM691 760h1v1h-1zM699 760h1v1h-1zM701 760h1v1h-1zM709 760h1v1h-1zM768 760h1v1h-1zM778 760h1v1h-1zM642 761h1v1h-1zM645 761h1v1h-1zM643 762h2v1h-2zM643 763h2v1h-2zM642 764h1v1h-1zM645 764h1v1h-1zM558 765h1v1h-1zM568 765h1v1h-1zM641 765h1v1h-1zM646 765h1v1h-1zM739 765h1v1h-1zM750 765h1v1h-1zM559 766h1v1h-1zM567 766h1v1h-1zM640 766h1v1h-1zM647 766h1v1h-1zM740 766h1v1h-1zM749 766h1v1h-1zM560 767h1v1h-1zM566 767h1v1h-1zM639 767h1v1h-1zM648 767h1v1h-1zM741 767h1v1h-1zM748 767h1v1h-1zM561 768h1v1h-1zM565 768h1v1h-1zM638 768h1v1h-1zM649 768h1v1h-1zM742 768h1v1h-1zM747 768h1v1h-1zM562 769h1v1h-1zM564 769h1v1h-1zM743 769h1v1h-1zM746 769h1v1h-1zM563 770h1v1h-1zM744 770h2v1h-2zM563 771h1v1h-1zM744 771h2v1h-2zM562 772h1v1h-1zM564 772h1v1h-1zM743 772h1v1h-1zM746 772h1v1h-1zM561 773h1v1h-1zM565 773h1v1h-1zM610 773h1v1h-1zM620 773h1v1h-1zM742 773h1v1h-1zM747 773h1v1h-1zM560 774h1v1h-1zM566 774h1v1h-1zM611 774h1v1h-1zM619 774h1v1h-1zM741 774h1v1h-1zM748 774h1v1h-1zM559 775h1v1h-1zM567 775h1v1h-1zM612 775h1v1h-1zM618 775h1v1h-1zM740 775h1v1h-1zM749 775h1v1h-1zM558 776h1v1h-1zM568 776h1v1h-1zM613 776h1v1h-1zM617 776h1v1h-1zM739 776h1v1h-1zM750 776h1v1h-1zM614 777h1v1h-1zM616 777h1v1h-1zM615 778h1v1h-1zM615 779h1v1h-1zM614 780h1v1h-1zM616 780h1v1h-1zM613 781h1v1h-1zM617 781h1v1h-1zM675 781h1v1h-1zM685 781h1v1h-1zM612 782h1v1h-1zM618 782h1v1h-1zM676 782h1v1h-1zM684 782h1v1h-1zM611 783h1v1h-1zM619 783h1v1h-1zM677 783h1v1h-1zM683 783h1v1h-1zM610 784h1v1h-1zM620 784h1v1h-1zM678 784h1v1h-1zM682 784h1v1h-1zM679 785h1v1h-1zM681 785h1v1h-1zM680 786h1v1h-1zM680 787h1v1h-1zM679 788h1v1h-1zM681 788h1v1h-1zM678 789h1v1h-1zM682 789h1v1h-1zM723 789h1v1h-1zM734 789h1v1h-1zM677 790h1v1h-1zM683 790h1v1h-1zM724 790h1v1h-1zM733 790h1v1h-1zM676 791h1v1h-1zM684 791h1v1h-1zM725 791h1v1h-1zM732 791h1v1h-1zM675 792h1v1h-1zM685 792h1v1h-1zM726 792h1v1h-1zM731 792h1v1h-1zM727 793h1v1h-1zM730 793h1v1h-1zM728 794h2v1h-2zM728 795h2v1h-2zM727 796h1v1h-1zM730 796h1v1h-1zM594 797h1v1h-1zM604 797h1v1h-1zM726 797h1v1h-1zM731 797h1v1h-1zM595 798h1v1h-1zM603 798h1v1h-1zM725 798h1v1h-1zM732 798h1v1h-1zM596 799h1v1h-1zM602 799h1v1h-1zM724 799h1v1h-1zM733 799h1v1h-1zM597 800h1v1h-1zM601 800h1v1h-1zM723 800h1v1h-1zM734 800h1v1h-1zM598 801h1v1h-1zM600 801h1v1h-1zM599 802h1v1h-1zM599 803h1v1h-1zM598 804h1v1h-1zM600 804h1v1h-1zM597 805h1v1h-1zM601 805h1v1h-1zM596 806h1v1h-1zM602 806h1v1h-1zM595 807h1v1h-1zM603 807h1v1h-1zM594 808h1v1h-1zM604 808h1v1h-1z"/>
</svg>
</body></html>
